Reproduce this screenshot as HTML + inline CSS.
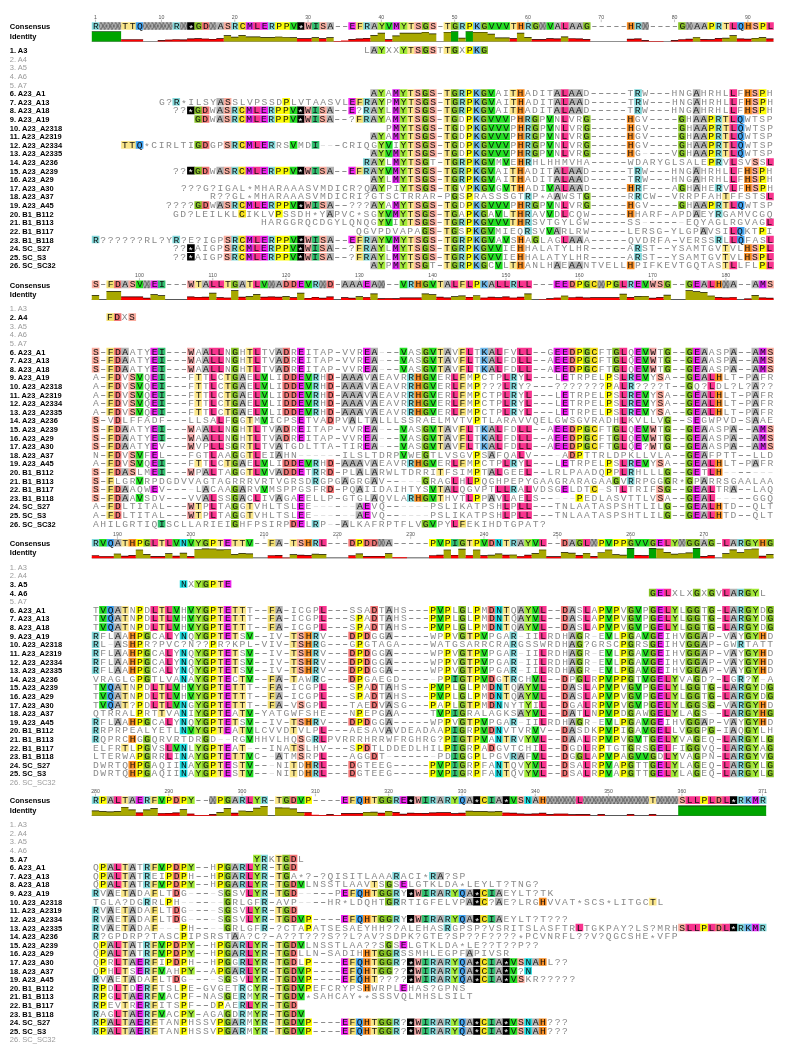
<!DOCTYPE html>
<html><head><meta charset="utf-8"><title>Alignment</title>
<style>
html,body{margin:0;padding:0;background:#fff}
body{width:787px;height:1051px;position:relative;overflow:hidden;font-family:"Liberation Sans",sans-serif}
svg{position:absolute;left:0;top:0}
#t{position:absolute;left:0;top:0;width:787px;height:1051px;will-change:transform}
.l{position:absolute;left:9.8px;height:10px;line-height:10px;margin-top:-4px;font-size:7.5px;font-weight:bold;color:#000;white-space:nowrap}
.l.g{font-weight:normal;color:#9a9a9a}
.n{position:absolute;width:20px;text-align:center;font-size:5.2px;line-height:6px;color:#555}
.q{position:absolute;height:10px;line-height:10px;margin-top:-4px;margin-left:0.76px;font-family:"Liberation Mono",monospace;font-size:8.8px;letter-spacing:1.38px;white-space:pre;color:#8a8a8a;transform-origin:0 50%;transform:scaleX(1.1)}
.q b{font-weight:normal;color:#111}
.q i,.q em{font-style:normal;position:relative;top:2.6px}
.q i{color:#fff}
.q u{text-decoration:none;color:#4a4a4a}
.q a{color:#d4d4d4}
.q s{text-decoration:none;color:#727272}
.c{color:#111}
</style></head><body>
<svg width="787" height="1051" viewBox="0 0 787 1051">
<defs><pattern id="h0" width="3.6650" height="7.65" patternUnits="userSpaceOnUse" x="91.8" y="22.18"><rect width="4" height="8" fill="#666"/><path d="M0 0L3.6650 7.65M3.6650 0L0 7.65" stroke="#b2b2b2" stroke-width="1.15"/></pattern><pattern id="h1" width="3.6650" height="7.65" patternUnits="userSpaceOnUse" x="91.8" y="280.53"><rect width="4" height="8" fill="#666"/><path d="M0 0L3.6650 7.65M3.6650 0L0 7.65" stroke="#b2b2b2" stroke-width="1.15"/></pattern><pattern id="h2" width="3.6650" height="7.65" patternUnits="userSpaceOnUse" x="91.8" y="538.88"><rect width="4" height="8" fill="#666"/><path d="M0 0L3.6650 7.65M3.6650 0L0 7.65" stroke="#b2b2b2" stroke-width="1.15"/></pattern><pattern id="h3" width="3.6650" height="7.65" patternUnits="userSpaceOnUse" x="91.8" y="796.27"><rect width="4" height="8" fill="#666"/><path d="M0 0L3.6650 7.65M3.6650 0L0 7.65" stroke="#b2b2b2" stroke-width="1.15"/></pattern></defs>
<path fill="#82d8da" d="M91.8 22.18h7.63v7.65h-7.63zM172.43 22.18h7.63v7.65h-7.63zM231.07 22.18h7.63v7.65h-7.63zM267.72 22.18h7.63v7.65h-7.63zM363.01 22.18h7.63v7.65h-7.63zM458.3 22.18h7.63v7.65h-7.63zM524.27 22.18h7.63v7.65h-7.63zM634.22 22.18h7.63v7.65h-7.63zM714.85 22.18h7.63v7.65h-7.63zM458.3 89.33h7.63v7.65h-7.63zM634.22 89.33h7.63v7.65h-7.63zM172.43 97.93h7.63v7.65h-7.63zM363.01 97.93h7.63v7.65h-7.63zM458.3 97.93h7.63v7.65h-7.63zM634.22 97.93h7.63v7.65h-7.63zM231.07 106.55h7.63v7.65h-7.63zM267.72 106.55h7.63v7.65h-7.63zM363.01 106.55h7.63v7.65h-7.63zM458.3 106.55h7.63v7.65h-7.63zM634.22 106.55h7.63v7.65h-7.63zM231.07 115.15h7.63v7.65h-7.63zM267.72 115.15h7.63v7.65h-7.63zM363.01 115.15h7.63v7.65h-7.63zM524.27 115.15h7.63v7.65h-7.63zM714.85 115.15h7.63v7.65h-7.63zM524.27 123.77h7.63v7.65h-7.63zM714.85 123.77h7.63v7.65h-7.63zM524.27 132.38h7.63v7.65h-7.63zM714.85 132.38h7.63v7.65h-7.63zM231.07 140.99h7.63v7.65h-7.63zM267.72 140.99h7.63v7.65h-7.63zM524.27 140.99h7.63v7.65h-7.63zM714.85 140.99h7.63v7.65h-7.63zM524.27 149.59h7.63v7.65h-7.63zM714.85 149.59h7.63v7.65h-7.63zM363.01 158.21h7.63v7.65h-7.63zM458.3 158.21h7.63v7.65h-7.63zM524.27 158.21h7.63v7.65h-7.63zM714.85 158.21h7.63v7.65h-7.63zM231.07 166.81h7.63v7.65h-7.63zM267.72 166.81h7.63v7.65h-7.63zM363.01 166.81h7.63v7.65h-7.63zM458.3 166.81h7.63v7.65h-7.63zM634.22 166.81h7.63v7.65h-7.63zM458.3 175.42h7.63v7.65h-7.63zM634.22 175.42h7.63v7.65h-7.63zM634.22 184.03h7.63v7.65h-7.63zM714.85 184.03h7.63v7.65h-7.63zM524.27 192.65h7.63v7.65h-7.63zM634.22 192.65h7.63v7.65h-7.63zM231.07 201.25h7.63v7.65h-7.63zM267.72 201.25h7.63v7.65h-7.63zM524.27 201.25h7.63v7.65h-7.63zM714.85 201.25h7.63v7.65h-7.63zM524.27 209.86h7.63v7.65h-7.63zM714.85 209.86h7.63v7.65h-7.63zM458.3 218.47h7.63v7.65h-7.63zM524.27 218.47h7.63v7.65h-7.63zM524.27 227.09h7.63v7.65h-7.63zM91.8 235.69h7.63v7.65h-7.63zM172.43 235.69h7.63v7.65h-7.63zM231.07 235.69h7.63v7.65h-7.63zM267.72 235.69h7.63v7.65h-7.63zM363.01 235.69h7.63v7.65h-7.63zM458.3 235.69h7.63v7.65h-7.63zM714.85 235.69h7.63v7.65h-7.63zM231.07 244.3h7.63v7.65h-7.63zM267.72 244.3h7.63v7.65h-7.63zM363.01 244.3h7.63v7.65h-7.63zM458.3 244.3h7.63v7.65h-7.63zM634.22 244.3h7.63v7.65h-7.63zM231.07 252.92h7.63v7.65h-7.63zM267.72 252.92h7.63v7.65h-7.63zM363.01 252.92h7.63v7.65h-7.63zM458.3 252.92h7.63v7.65h-7.63zM634.22 252.92h7.63v7.65h-7.63zM458.3 261.53h7.63v7.65h-7.63zM311.7 280.53h7.63v7.65h-7.63zM406.99 280.53h7.63v7.65h-7.63zM509.61 280.53h7.63v7.65h-7.63zM626.89 280.53h7.63v7.65h-7.63zM311.7 373.51h7.63v7.65h-7.63zM406.99 373.51h7.63v7.65h-7.63zM509.61 373.51h7.63v7.65h-7.63zM626.89 373.51h7.63v7.65h-7.63zM311.7 382.12h7.63v7.65h-7.63zM406.99 382.12h7.63v7.65h-7.63zM509.61 382.12h7.63v7.65h-7.63zM626.89 382.12h7.63v7.65h-7.63zM311.7 390.73h7.63v7.65h-7.63zM406.99 390.73h7.63v7.65h-7.63zM509.61 390.73h7.63v7.65h-7.63zM626.89 390.73h7.63v7.65h-7.63zM311.7 399.34h7.63v7.65h-7.63zM406.99 399.34h7.63v7.65h-7.63zM509.61 399.34h7.63v7.65h-7.63zM626.89 399.34h7.63v7.65h-7.63zM311.7 407.95h7.63v7.65h-7.63zM406.99 407.95h7.63v7.65h-7.63zM509.61 407.95h7.63v7.65h-7.63zM626.89 407.95h7.63v7.65h-7.63zM311.7 459.61h7.63v7.65h-7.63zM406.99 459.61h7.63v7.65h-7.63zM509.61 459.61h7.63v7.65h-7.63zM626.89 459.61h7.63v7.65h-7.63zM311.7 468.22h7.63v7.65h-7.63zM626.89 468.22h7.63v7.65h-7.63zM311.7 476.83h7.63v7.65h-7.63zM626.89 476.83h7.63v7.65h-7.63zM509.61 485.44h7.63v7.65h-7.63zM406.99 494.05h7.63v7.65h-7.63zM311.7 519.88h7.63v7.65h-7.63zM91.8 538.88h7.63v7.65h-7.63zM311.7 538.88h7.63v7.65h-7.63zM509.61 538.88h7.63v7.65h-7.63zM736.84 538.88h7.63v7.65h-7.63zM736.84 588.81h7.63v7.65h-7.63zM736.84 606.02h7.63v7.65h-7.63zM736.84 614.63h7.63v7.65h-7.63zM736.84 623.25h7.63v7.65h-7.63zM91.8 631.86h7.63v7.65h-7.63zM311.7 631.86h7.63v7.65h-7.63zM509.61 631.86h7.63v7.65h-7.63zM91.8 640.47h7.63v7.65h-7.63zM311.7 640.47h7.63v7.65h-7.63zM509.61 640.47h7.63v7.65h-7.63zM736.84 640.47h7.63v7.65h-7.63zM91.8 649.08h7.63v7.65h-7.63zM311.7 649.08h7.63v7.65h-7.63zM509.61 649.08h7.63v7.65h-7.63zM91.8 657.69h7.63v7.65h-7.63zM311.7 657.69h7.63v7.65h-7.63zM509.61 657.69h7.63v7.65h-7.63zM91.8 666.3h7.63v7.65h-7.63zM311.7 666.3h7.63v7.65h-7.63zM509.61 666.3h7.63v7.65h-7.63zM311.7 674.9h7.63v7.65h-7.63zM509.61 674.9h7.63v7.65h-7.63zM736.84 674.9h7.63v7.65h-7.63zM736.84 683.51h7.63v7.65h-7.63zM736.84 692.12h7.63v7.65h-7.63zM736.84 700.74h7.63v7.65h-7.63zM736.84 709.35h7.63v7.65h-7.63zM91.8 717.96h7.63v7.65h-7.63zM311.7 717.96h7.63v7.65h-7.63zM509.61 717.96h7.63v7.65h-7.63zM91.8 726.57h7.63v7.65h-7.63zM91.8 735.17h7.63v7.65h-7.63zM311.7 735.17h7.63v7.65h-7.63zM509.61 735.17h7.63v7.65h-7.63zM736.84 735.17h7.63v7.65h-7.63zM736.84 743.79h7.63v7.65h-7.63zM509.61 752.39h7.63v7.65h-7.63zM736.84 752.39h7.63v7.65h-7.63zM311.7 761h7.63v7.65h-7.63zM736.84 761h7.63v7.65h-7.63zM311.7 769.62h7.63v7.65h-7.63zM736.84 769.62h7.63v7.65h-7.63zM91.8 796.27h7.63v7.65h-7.63zM143.11 796.27h7.63v7.65h-7.63zM238.4 796.27h7.63v7.65h-7.63zM260.39 796.27h7.63v7.65h-7.63zM392.33 796.27h7.63v7.65h-7.63zM428.98 796.27h7.63v7.65h-7.63zM443.64 796.27h7.63v7.65h-7.63zM736.84 796.27h7.63v7.65h-7.63zM758.83 796.27h7.63v7.65h-7.63zM260.39 854.82h7.63v7.65h-7.63zM143.11 863.42h7.63v7.65h-7.63zM238.4 863.42h7.63v7.65h-7.63zM260.39 863.42h7.63v7.65h-7.63zM143.11 872.03h7.63v7.65h-7.63zM238.4 872.03h7.63v7.65h-7.63zM260.39 872.03h7.63v7.65h-7.63zM392.33 872.03h7.63v7.65h-7.63zM428.98 872.03h7.63v7.65h-7.63zM143.11 880.64h7.63v7.65h-7.63zM238.4 880.64h7.63v7.65h-7.63zM260.39 880.64h7.63v7.65h-7.63zM91.8 889.25h7.63v7.65h-7.63zM260.39 889.25h7.63v7.65h-7.63zM392.33 889.25h7.63v7.65h-7.63zM428.98 889.25h7.63v7.65h-7.63zM443.64 889.25h7.63v7.65h-7.63zM143.11 897.87h7.63v7.65h-7.63zM260.39 897.87h7.63v7.65h-7.63zM392.33 897.87h7.63v7.65h-7.63zM91.8 906.48h7.63v7.65h-7.63zM260.39 906.48h7.63v7.65h-7.63zM91.8 915.09h7.63v7.65h-7.63zM260.39 915.09h7.63v7.65h-7.63zM392.33 915.09h7.63v7.65h-7.63zM428.98 915.09h7.63v7.65h-7.63zM443.64 915.09h7.63v7.65h-7.63zM91.8 923.69h7.63v7.65h-7.63zM260.39 923.69h7.63v7.65h-7.63zM443.64 923.69h7.63v7.65h-7.63zM736.84 923.69h7.63v7.65h-7.63zM758.83 923.69h7.63v7.65h-7.63zM91.8 932.3h7.63v7.65h-7.63zM143.11 940.91h7.63v7.65h-7.63zM238.4 940.91h7.63v7.65h-7.63zM260.39 940.91h7.63v7.65h-7.63zM143.11 949.52h7.63v7.65h-7.63zM238.4 949.52h7.63v7.65h-7.63zM260.39 949.52h7.63v7.65h-7.63zM392.33 949.52h7.63v7.65h-7.63zM143.11 958.13h7.63v7.65h-7.63zM238.4 958.13h7.63v7.65h-7.63zM260.39 958.13h7.63v7.65h-7.63zM392.33 958.13h7.63v7.65h-7.63zM428.98 958.13h7.63v7.65h-7.63zM443.64 958.13h7.63v7.65h-7.63zM143.11 966.75h7.63v7.65h-7.63zM238.4 966.75h7.63v7.65h-7.63zM260.39 966.75h7.63v7.65h-7.63zM428.98 966.75h7.63v7.65h-7.63zM443.64 966.75h7.63v7.65h-7.63zM91.8 975.36h7.63v7.65h-7.63zM260.39 975.36h7.63v7.65h-7.63zM428.98 975.36h7.63v7.65h-7.63zM443.64 975.36h7.63v7.65h-7.63zM91.8 983.96h7.63v7.65h-7.63zM143.11 983.96h7.63v7.65h-7.63zM238.4 983.96h7.63v7.65h-7.63zM260.39 983.96h7.63v7.65h-7.63zM91.8 992.58h7.63v7.65h-7.63zM143.11 992.58h7.63v7.65h-7.63zM238.4 992.58h7.63v7.65h-7.63zM260.39 992.58h7.63v7.65h-7.63zM91.8 1001.18h7.63v7.65h-7.63zM143.11 1001.18h7.63v7.65h-7.63zM238.4 1001.18h7.63v7.65h-7.63zM260.39 1001.18h7.63v7.65h-7.63zM91.8 1009.79h7.63v7.65h-7.63zM143.11 1009.79h7.63v7.65h-7.63zM238.4 1009.79h7.63v7.65h-7.63zM260.39 1009.79h7.63v7.65h-7.63zM91.8 1018.4h7.63v7.65h-7.63zM143.11 1018.4h7.63v7.65h-7.63zM238.4 1018.4h7.63v7.65h-7.63zM260.39 1018.4h7.63v7.65h-7.63zM392.33 1018.4h7.63v7.65h-7.63zM428.98 1018.4h7.63v7.65h-7.63zM443.64 1018.4h7.63v7.65h-7.63zM91.8 1027.02h7.63v7.65h-7.63zM143.11 1027.02h7.63v7.65h-7.63zM238.4 1027.02h7.63v7.65h-7.63zM260.39 1027.02h7.63v7.65h-7.63zM392.33 1027.02h7.63v7.65h-7.63zM428.98 1027.02h7.63v7.65h-7.63zM443.64 1027.02h7.63v7.65h-7.63z"/>
<path fill="#fae68a" d="M121.12 22.18h14.96v7.65h-14.96zM406.99 22.18h7.63v7.65h-7.63zM443.64 22.18h7.63v7.65h-7.63zM509.61 22.18h7.63v7.65h-7.63zM722.18 22.18h7.63v7.65h-7.63zM406.99 46.27h7.63v7.65h-7.63zM443.64 46.27h7.63v7.65h-7.63zM406.99 89.33h7.63v7.65h-7.63zM443.64 89.33h7.63v7.65h-7.63zM509.61 89.33h7.63v7.65h-7.63zM406.99 97.93h7.63v7.65h-7.63zM443.64 97.93h7.63v7.65h-7.63zM509.61 97.93h7.63v7.65h-7.63zM406.99 106.55h7.63v7.65h-7.63zM443.64 106.55h7.63v7.65h-7.63zM509.61 106.55h7.63v7.65h-7.63zM406.99 115.15h7.63v7.65h-7.63zM443.64 115.15h7.63v7.65h-7.63zM722.18 115.15h7.63v7.65h-7.63zM406.99 123.77h7.63v7.65h-7.63zM443.64 123.77h7.63v7.65h-7.63zM722.18 123.77h7.63v7.65h-7.63zM406.99 132.38h7.63v7.65h-7.63zM443.64 132.38h7.63v7.65h-7.63zM722.18 132.38h7.63v7.65h-7.63zM121.12 140.99h14.96v7.65h-14.96zM406.99 140.99h7.63v7.65h-7.63zM443.64 140.99h7.63v7.65h-7.63zM722.18 140.99h7.63v7.65h-7.63zM406.99 149.59h7.63v7.65h-7.63zM443.64 149.59h7.63v7.65h-7.63zM722.18 149.59h7.63v7.65h-7.63zM406.99 158.21h7.63v7.65h-7.63zM443.64 158.21h7.63v7.65h-7.63zM406.99 166.81h7.63v7.65h-7.63zM443.64 166.81h7.63v7.65h-7.63zM509.61 166.81h7.63v7.65h-7.63zM406.99 175.42h7.63v7.65h-7.63zM443.64 175.42h7.63v7.65h-7.63zM509.61 175.42h7.63v7.65h-7.63zM406.99 184.03h7.63v7.65h-7.63zM443.64 184.03h7.63v7.65h-7.63zM509.61 184.03h7.63v7.65h-7.63zM722.18 192.65h7.63v7.65h-7.63zM406.99 201.25h7.63v7.65h-7.63zM443.64 201.25h7.63v7.65h-7.63zM722.18 201.25h7.63v7.65h-7.63zM406.99 209.86h7.63v7.65h-7.63zM443.64 209.86h7.63v7.65h-7.63zM509.61 209.86h7.63v7.65h-7.63zM406.99 218.47h7.63v7.65h-7.63zM443.64 218.47h7.63v7.65h-7.63zM509.61 218.47h7.63v7.65h-7.63zM443.64 227.09h7.63v7.65h-7.63zM406.99 235.69h7.63v7.65h-7.63zM443.64 235.69h7.63v7.65h-7.63zM406.99 244.3h7.63v7.65h-7.63zM443.64 244.3h7.63v7.65h-7.63zM722.18 244.3h7.63v7.65h-7.63zM406.99 252.92h7.63v7.65h-7.63zM443.64 252.92h7.63v7.65h-7.63zM722.18 252.92h7.63v7.65h-7.63zM406.99 261.53h7.63v7.65h-7.63zM443.64 261.53h7.63v7.65h-7.63zM509.61 261.53h7.63v7.65h-7.63zM722.18 261.53h7.63v7.65h-7.63zM194.42 280.53h7.63v7.65h-7.63zM223.74 280.53h7.63v7.65h-7.63zM245.73 280.53h7.63v7.65h-7.63zM436.31 280.53h7.63v7.65h-7.63zM245.73 347.68h7.63v7.65h-7.63zM436.31 347.68h7.63v7.65h-7.63zM245.73 356.29h7.63v7.65h-7.63zM436.31 356.29h7.63v7.65h-7.63zM245.73 364.9h7.63v7.65h-7.63zM436.31 364.9h7.63v7.65h-7.63zM194.42 373.51h7.63v7.65h-7.63zM223.74 373.51h7.63v7.65h-7.63zM194.42 382.12h7.63v7.65h-7.63zM223.74 382.12h7.63v7.65h-7.63zM194.42 390.73h7.63v7.65h-7.63zM223.74 390.73h7.63v7.65h-7.63zM194.42 399.34h7.63v7.65h-7.63zM223.74 399.34h7.63v7.65h-7.63zM194.42 407.95h7.63v7.65h-7.63zM223.74 407.95h7.63v7.65h-7.63zM245.73 416.56h7.63v7.65h-7.63zM245.73 425.17h7.63v7.65h-7.63zM436.31 425.17h7.63v7.65h-7.63zM245.73 433.78h7.63v7.65h-7.63zM436.31 433.78h7.63v7.65h-7.63zM245.73 442.39h7.63v7.65h-7.63zM436.31 442.39h7.63v7.65h-7.63zM245.73 451h7.63v7.65h-7.63zM194.42 459.61h7.63v7.65h-7.63zM223.74 459.61h7.63v7.65h-7.63zM245.73 468.22h7.63v7.65h-7.63zM436.31 468.22h7.63v7.65h-7.63zM436.31 485.44h7.63v7.65h-7.63zM436.31 494.05h7.63v7.65h-7.63zM194.42 502.66h7.63v7.65h-7.63zM245.73 502.66h7.63v7.65h-7.63zM194.42 511.27h7.63v7.65h-7.63zM245.73 511.27h7.63v7.65h-7.63zM121.12 538.88h7.63v7.65h-7.63zM157.77 538.88h7.63v7.65h-7.63zM216.41 538.88h7.63v7.65h-7.63zM231.07 538.88h14.96v7.65h-14.96zM289.71 538.88h7.63v7.65h-7.63zM465.63 538.88h7.63v7.65h-7.63zM502.28 538.88h7.63v7.65h-7.63zM216.41 580.2h7.63v7.65h-7.63zM121.12 606.02h7.63v7.65h-7.63zM157.77 606.02h7.63v7.65h-7.63zM216.41 606.02h7.63v7.65h-7.63zM231.07 606.02h14.96v7.65h-14.96zM502.28 606.02h7.63v7.65h-7.63zM121.12 614.63h7.63v7.65h-7.63zM157.77 614.63h7.63v7.65h-7.63zM216.41 614.63h7.63v7.65h-7.63zM231.07 614.63h14.96v7.65h-14.96zM502.28 614.63h7.63v7.65h-7.63zM121.12 623.25h7.63v7.65h-7.63zM157.77 623.25h7.63v7.65h-7.63zM216.41 623.25h7.63v7.65h-7.63zM231.07 623.25h14.96v7.65h-14.96zM502.28 623.25h7.63v7.65h-7.63zM216.41 631.86h7.63v7.65h-7.63zM231.07 631.86h7.63v7.65h-7.63zM289.71 631.86h7.63v7.65h-7.63zM465.63 631.86h7.63v7.65h-7.63zM289.71 640.47h7.63v7.65h-7.63zM216.41 649.08h7.63v7.65h-7.63zM231.07 649.08h7.63v7.65h-7.63zM289.71 649.08h7.63v7.65h-7.63zM465.63 649.08h7.63v7.65h-7.63zM216.41 657.69h7.63v7.65h-7.63zM231.07 657.69h7.63v7.65h-7.63zM289.71 657.69h7.63v7.65h-7.63zM465.63 657.69h7.63v7.65h-7.63zM216.41 666.3h7.63v7.65h-7.63zM231.07 666.3h7.63v7.65h-7.63zM289.71 666.3h7.63v7.65h-7.63zM465.63 666.3h7.63v7.65h-7.63zM216.41 674.9h7.63v7.65h-7.63zM238.4 674.9h7.63v7.65h-7.63zM289.71 674.9h7.63v7.65h-7.63zM465.63 674.9h7.63v7.65h-7.63zM502.28 674.9h7.63v7.65h-7.63zM121.12 683.51h7.63v7.65h-7.63zM157.77 683.51h7.63v7.65h-7.63zM216.41 683.51h7.63v7.65h-7.63zM231.07 683.51h14.96v7.65h-14.96zM502.28 683.51h7.63v7.65h-7.63zM121.12 692.12h7.63v7.65h-7.63zM157.77 692.12h7.63v7.65h-7.63zM216.41 692.12h7.63v7.65h-7.63zM231.07 692.12h14.96v7.65h-14.96zM502.28 692.12h7.63v7.65h-7.63zM121.12 700.74h7.63v7.65h-7.63zM157.77 700.74h7.63v7.65h-7.63zM216.41 700.74h7.63v7.65h-7.63zM231.07 700.74h14.96v7.65h-14.96zM465.63 700.74h7.63v7.65h-7.63zM157.77 709.35h7.63v7.65h-7.63zM216.41 709.35h7.63v7.65h-7.63zM238.4 709.35h7.63v7.65h-7.63zM216.41 717.96h7.63v7.65h-7.63zM231.07 717.96h7.63v7.65h-7.63zM289.71 717.96h7.63v7.65h-7.63zM465.63 717.96h7.63v7.65h-7.63zM216.41 726.57h7.63v7.65h-7.63zM238.4 726.57h7.63v7.65h-7.63zM289.71 726.57h7.63v7.65h-7.63zM465.63 735.17h7.63v7.65h-7.63zM502.28 735.17h7.63v7.65h-7.63zM121.12 743.79h7.63v7.65h-7.63zM216.41 743.79h7.63v7.65h-7.63zM238.4 743.79h7.63v7.65h-7.63zM289.71 743.79h7.63v7.65h-7.63zM216.41 752.39h7.63v7.65h-7.63zM231.07 752.39h14.96v7.65h-14.96zM216.41 761h7.63v7.65h-7.63zM238.4 761h7.63v7.65h-7.63zM289.71 761h7.63v7.65h-7.63zM502.28 761h7.63v7.65h-7.63zM216.41 769.62h7.63v7.65h-7.63zM238.4 769.62h7.63v7.65h-7.63zM289.71 769.62h7.63v7.65h-7.63zM502.28 769.62h7.63v7.65h-7.63zM121.12 796.27h7.63v7.65h-7.63zM275.05 796.27h7.63v7.65h-7.63zM370.34 796.27h7.63v7.65h-7.63zM648.88 796.27h7.63v7.65h-7.63zM275.05 854.82h7.63v7.65h-7.63zM121.12 863.42h7.63v7.65h-7.63zM275.05 863.42h7.63v7.65h-7.63zM121.12 872.03h7.63v7.65h-7.63zM275.05 872.03h7.63v7.65h-7.63zM121.12 880.64h7.63v7.65h-7.63zM275.05 880.64h7.63v7.65h-7.63zM370.34 880.64h7.63v7.65h-7.63zM121.12 889.25h7.63v7.65h-7.63zM275.05 889.25h7.63v7.65h-7.63zM370.34 889.25h7.63v7.65h-7.63zM648.88 897.87h7.63v7.65h-7.63zM121.12 906.48h7.63v7.65h-7.63zM275.05 906.48h7.63v7.65h-7.63zM121.12 915.09h7.63v7.65h-7.63zM275.05 915.09h7.63v7.65h-7.63zM370.34 915.09h7.63v7.65h-7.63zM121.12 923.69h7.63v7.65h-7.63zM121.12 940.91h7.63v7.65h-7.63zM275.05 940.91h7.63v7.65h-7.63zM121.12 949.52h7.63v7.65h-7.63zM275.05 949.52h7.63v7.65h-7.63zM370.34 949.52h7.63v7.65h-7.63zM121.12 958.13h7.63v7.65h-7.63zM275.05 958.13h7.63v7.65h-7.63zM370.34 958.13h7.63v7.65h-7.63zM121.12 966.75h7.63v7.65h-7.63zM275.05 966.75h7.63v7.65h-7.63zM370.34 966.75h7.63v7.65h-7.63zM121.12 975.36h7.63v7.65h-7.63zM275.05 975.36h7.63v7.65h-7.63zM370.34 975.36h7.63v7.65h-7.63zM121.12 983.96h7.63v7.65h-7.63zM275.05 983.96h7.63v7.65h-7.63zM121.12 992.58h7.63v7.65h-7.63zM275.05 992.58h7.63v7.65h-7.63zM121.12 1001.18h7.63v7.65h-7.63zM275.05 1001.18h7.63v7.65h-7.63zM121.12 1009.79h7.63v7.65h-7.63zM275.05 1009.79h7.63v7.65h-7.63zM121.12 1018.4h7.63v7.65h-7.63zM275.05 1018.4h7.63v7.65h-7.63zM370.34 1018.4h7.63v7.65h-7.63zM121.12 1027.02h7.63v7.65h-7.63zM275.05 1027.02h7.63v7.65h-7.63zM370.34 1027.02h7.63v7.65h-7.63z"/>
<path fill="#3ea2f2" d="M135.78 22.18h7.63v7.65h-7.63zM736.84 22.18h7.63v7.65h-7.63zM736.84 115.15h7.63v7.65h-7.63zM736.84 123.77h7.63v7.65h-7.63zM736.84 132.38h7.63v7.65h-7.63zM135.78 140.99h7.63v7.65h-7.63zM736.84 140.99h7.63v7.65h-7.63zM736.84 149.59h7.63v7.65h-7.63zM736.84 201.25h7.63v7.65h-7.63zM736.84 227.09h7.63v7.65h-7.63zM736.84 235.69h7.63v7.65h-7.63zM106.46 538.88h7.63v7.65h-7.63zM106.46 606.02h7.63v7.65h-7.63zM106.46 614.63h7.63v7.65h-7.63zM106.46 623.25h7.63v7.65h-7.63zM106.46 683.51h7.63v7.65h-7.63zM106.46 692.12h7.63v7.65h-7.63zM106.46 700.74h7.63v7.65h-7.63zM355.68 796.27h7.63v7.65h-7.63zM458.3 796.27h7.63v7.65h-7.63zM355.68 889.25h7.63v7.65h-7.63zM458.3 889.25h7.63v7.65h-7.63zM355.68 915.09h7.63v7.65h-7.63zM458.3 915.09h7.63v7.65h-7.63zM355.68 958.13h7.63v7.65h-7.63zM458.3 958.13h7.63v7.65h-7.63zM355.68 966.75h7.63v7.65h-7.63zM458.3 966.75h7.63v7.65h-7.63zM355.68 975.36h7.63v7.65h-7.63zM458.3 975.36h7.63v7.65h-7.63zM355.68 1018.4h7.63v7.65h-7.63zM458.3 1018.4h7.63v7.65h-7.63zM355.68 1027.02h7.63v7.65h-7.63zM458.3 1027.02h7.63v7.65h-7.63z"/>
<path fill="#000000" d="M187.09 22.18h7.63v7.65h-7.63zM297.04 22.18h7.63v7.65h-7.63zM187.09 106.55h7.63v7.65h-7.63zM297.04 106.55h7.63v7.65h-7.63zM297.04 115.15h7.63v7.65h-7.63zM187.09 166.81h7.63v7.65h-7.63zM297.04 166.81h7.63v7.65h-7.63zM297.04 201.25h7.63v7.65h-7.63zM297.04 235.69h7.63v7.65h-7.63zM187.09 244.3h7.63v7.65h-7.63zM297.04 244.3h7.63v7.65h-7.63zM187.09 252.92h7.63v7.65h-7.63zM297.04 252.92h7.63v7.65h-7.63zM406.99 796.27h7.63v7.65h-7.63zM472.96 796.27h7.63v7.65h-7.63zM502.28 796.27h7.63v7.65h-7.63zM729.51 796.27h7.63v7.65h-7.63zM406.99 889.25h7.63v7.65h-7.63zM472.96 889.25h7.63v7.65h-7.63zM472.96 897.87h7.63v7.65h-7.63zM406.99 915.09h7.63v7.65h-7.63zM472.96 915.09h7.63v7.65h-7.63zM729.51 923.69h7.63v7.65h-7.63zM406.99 958.13h7.63v7.65h-7.63zM472.96 958.13h7.63v7.65h-7.63zM502.28 958.13h7.63v7.65h-7.63zM406.99 966.75h7.63v7.65h-7.63zM472.96 966.75h7.63v7.65h-7.63zM502.28 966.75h7.63v7.65h-7.63zM406.99 975.36h7.63v7.65h-7.63zM472.96 975.36h7.63v7.65h-7.63zM502.28 975.36h7.63v7.65h-7.63zM406.99 1018.4h7.63v7.65h-7.63zM472.96 1018.4h7.63v7.65h-7.63zM502.28 1018.4h7.63v7.65h-7.63zM406.99 1027.02h7.63v7.65h-7.63zM472.96 1027.02h7.63v7.65h-7.63zM502.28 1027.02h7.63v7.65h-7.63z"/>
<path fill="#86c224" d="M194.42 22.18h7.63v7.65h-7.63zM421.65 22.18h7.63v7.65h-7.63zM450.97 22.18h7.63v7.65h-7.63zM480.29 22.18h7.63v7.65h-7.63zM531.6 22.18h7.63v7.65h-7.63zM582.91 22.18h7.63v7.65h-7.63zM678.2 22.18h7.63v7.65h-7.63zM421.65 46.27h7.63v7.65h-7.63zM450.97 46.27h7.63v7.65h-7.63zM480.29 46.27h7.63v7.65h-7.63zM421.65 89.33h7.63v7.65h-7.63zM450.97 89.33h7.63v7.65h-7.63zM480.29 89.33h7.63v7.65h-7.63zM421.65 97.93h7.63v7.65h-7.63zM450.97 97.93h7.63v7.65h-7.63zM480.29 97.93h7.63v7.65h-7.63zM194.42 106.55h7.63v7.65h-7.63zM421.65 106.55h7.63v7.65h-7.63zM450.97 106.55h7.63v7.65h-7.63zM480.29 106.55h7.63v7.65h-7.63zM194.42 115.15h7.63v7.65h-7.63zM421.65 115.15h7.63v7.65h-7.63zM450.97 115.15h7.63v7.65h-7.63zM480.29 115.15h7.63v7.65h-7.63zM531.6 115.15h7.63v7.65h-7.63zM582.91 115.15h7.63v7.65h-7.63zM678.2 115.15h7.63v7.65h-7.63zM421.65 123.77h7.63v7.65h-7.63zM450.97 123.77h7.63v7.65h-7.63zM480.29 123.77h7.63v7.65h-7.63zM531.6 123.77h7.63v7.65h-7.63zM582.91 123.77h7.63v7.65h-7.63zM678.2 123.77h7.63v7.65h-7.63zM421.65 132.38h7.63v7.65h-7.63zM450.97 132.38h7.63v7.65h-7.63zM480.29 132.38h7.63v7.65h-7.63zM531.6 132.38h7.63v7.65h-7.63zM582.91 132.38h7.63v7.65h-7.63zM678.2 132.38h7.63v7.65h-7.63zM194.42 140.99h7.63v7.65h-7.63zM421.65 140.99h7.63v7.65h-7.63zM450.97 140.99h7.63v7.65h-7.63zM480.29 140.99h7.63v7.65h-7.63zM531.6 140.99h7.63v7.65h-7.63zM582.91 140.99h7.63v7.65h-7.63zM678.2 140.99h7.63v7.65h-7.63zM421.65 149.59h7.63v7.65h-7.63zM450.97 149.59h7.63v7.65h-7.63zM480.29 149.59h7.63v7.65h-7.63zM531.6 149.59h7.63v7.65h-7.63zM582.91 149.59h7.63v7.65h-7.63zM678.2 149.59h7.63v7.65h-7.63zM421.65 158.21h7.63v7.65h-7.63zM450.97 158.21h7.63v7.65h-7.63zM480.29 158.21h7.63v7.65h-7.63zM194.42 166.81h7.63v7.65h-7.63zM421.65 166.81h7.63v7.65h-7.63zM450.97 166.81h7.63v7.65h-7.63zM480.29 166.81h7.63v7.65h-7.63zM421.65 175.42h7.63v7.65h-7.63zM450.97 175.42h7.63v7.65h-7.63zM480.29 175.42h7.63v7.65h-7.63zM421.65 184.03h7.63v7.65h-7.63zM450.97 184.03h7.63v7.65h-7.63zM480.29 184.03h7.63v7.65h-7.63zM678.2 184.03h7.63v7.65h-7.63zM450.97 192.65h7.63v7.65h-7.63zM582.91 192.65h7.63v7.65h-7.63zM194.42 201.25h7.63v7.65h-7.63zM421.65 201.25h7.63v7.65h-7.63zM450.97 201.25h7.63v7.65h-7.63zM480.29 201.25h7.63v7.65h-7.63zM531.6 201.25h7.63v7.65h-7.63zM582.91 201.25h7.63v7.65h-7.63zM678.2 201.25h7.63v7.65h-7.63zM421.65 209.86h7.63v7.65h-7.63zM450.97 209.86h7.63v7.65h-7.63zM480.29 209.86h7.63v7.65h-7.63zM421.65 218.47h7.63v7.65h-7.63zM450.97 218.47h7.63v7.65h-7.63zM480.29 218.47h7.63v7.65h-7.63zM421.65 227.09h7.63v7.65h-7.63zM450.97 227.09h7.63v7.65h-7.63zM480.29 227.09h7.63v7.65h-7.63zM421.65 235.69h7.63v7.65h-7.63zM450.97 235.69h7.63v7.65h-7.63zM480.29 235.69h7.63v7.65h-7.63zM531.6 235.69h7.63v7.65h-7.63zM421.65 244.3h7.63v7.65h-7.63zM450.97 244.3h7.63v7.65h-7.63zM480.29 244.3h7.63v7.65h-7.63zM421.65 252.92h7.63v7.65h-7.63zM450.97 252.92h7.63v7.65h-7.63zM480.29 252.92h7.63v7.65h-7.63zM421.65 261.53h7.63v7.65h-7.63zM450.97 261.53h7.63v7.65h-7.63zM480.29 261.53h7.63v7.65h-7.63zM231.07 280.53h7.63v7.65h-7.63zM421.65 280.53h7.63v7.65h-7.63zM582.91 280.53h7.63v7.65h-7.63zM612.23 280.53h7.63v7.65h-7.63zM663.54 280.53h7.63v7.65h-7.63zM685.53 280.53h7.63v7.65h-7.63zM231.07 347.68h7.63v7.65h-7.63zM421.65 347.68h7.63v7.65h-7.63zM582.91 347.68h7.63v7.65h-7.63zM612.23 347.68h7.63v7.65h-7.63zM663.54 347.68h7.63v7.65h-7.63zM685.53 347.68h7.63v7.65h-7.63zM231.07 356.29h7.63v7.65h-7.63zM421.65 356.29h7.63v7.65h-7.63zM582.91 356.29h7.63v7.65h-7.63zM612.23 356.29h7.63v7.65h-7.63zM663.54 356.29h7.63v7.65h-7.63zM685.53 356.29h7.63v7.65h-7.63zM231.07 364.9h7.63v7.65h-7.63zM421.65 364.9h7.63v7.65h-7.63zM582.91 364.9h7.63v7.65h-7.63zM612.23 364.9h7.63v7.65h-7.63zM663.54 364.9h7.63v7.65h-7.63zM685.53 364.9h7.63v7.65h-7.63zM231.07 373.51h7.63v7.65h-7.63zM421.65 373.51h7.63v7.65h-7.63zM685.53 373.51h7.63v7.65h-7.63zM231.07 382.12h7.63v7.65h-7.63zM421.65 382.12h7.63v7.65h-7.63zM685.53 382.12h7.63v7.65h-7.63zM231.07 390.73h7.63v7.65h-7.63zM421.65 390.73h7.63v7.65h-7.63zM685.53 390.73h7.63v7.65h-7.63zM231.07 399.34h7.63v7.65h-7.63zM421.65 399.34h7.63v7.65h-7.63zM685.53 399.34h7.63v7.65h-7.63zM231.07 407.95h7.63v7.65h-7.63zM421.65 407.95h7.63v7.65h-7.63zM685.53 407.95h7.63v7.65h-7.63zM231.07 416.56h7.63v7.65h-7.63zM663.54 416.56h7.63v7.65h-7.63zM231.07 425.17h7.63v7.65h-7.63zM421.65 425.17h7.63v7.65h-7.63zM582.91 425.17h7.63v7.65h-7.63zM612.23 425.17h7.63v7.65h-7.63zM663.54 425.17h7.63v7.65h-7.63zM685.53 425.17h7.63v7.65h-7.63zM231.07 433.78h7.63v7.65h-7.63zM421.65 433.78h7.63v7.65h-7.63zM582.91 433.78h7.63v7.65h-7.63zM612.23 433.78h7.63v7.65h-7.63zM663.54 433.78h7.63v7.65h-7.63zM685.53 433.78h7.63v7.65h-7.63zM231.07 442.39h7.63v7.65h-7.63zM421.65 442.39h7.63v7.65h-7.63zM582.91 442.39h7.63v7.65h-7.63zM612.23 442.39h7.63v7.65h-7.63zM663.54 442.39h7.63v7.65h-7.63zM685.53 442.39h7.63v7.65h-7.63zM231.07 451h7.63v7.65h-7.63zM421.65 451h7.63v7.65h-7.63zM685.53 451h7.63v7.65h-7.63zM231.07 459.61h7.63v7.65h-7.63zM421.65 459.61h7.63v7.65h-7.63zM685.53 459.61h7.63v7.65h-7.63zM231.07 468.22h7.63v7.65h-7.63zM663.54 468.22h7.63v7.65h-7.63zM685.53 468.22h7.63v7.65h-7.63zM421.65 476.83h7.63v7.65h-7.63zM612.23 476.83h7.63v7.65h-7.63zM663.54 476.83h7.63v7.65h-7.63zM685.53 476.83h7.63v7.65h-7.63zM231.07 485.44h7.63v7.65h-7.63zM663.54 485.44h7.63v7.65h-7.63zM685.53 485.44h7.63v7.65h-7.63zM231.07 494.05h7.63v7.65h-7.63zM421.65 494.05h7.63v7.65h-7.63zM685.53 494.05h7.63v7.65h-7.63zM231.07 502.66h7.63v7.65h-7.63zM663.54 502.66h7.63v7.65h-7.63zM685.53 502.66h7.63v7.65h-7.63zM231.07 511.27h7.63v7.65h-7.63zM663.54 511.27h7.63v7.65h-7.63zM685.53 511.27h7.63v7.65h-7.63zM231.07 519.88h7.63v7.65h-7.63zM421.65 519.88h7.63v7.65h-7.63zM143.11 538.88h7.63v7.65h-7.63zM201.75 538.88h7.63v7.65h-7.63zM458.3 538.88h7.63v7.65h-7.63zM575.58 538.88h7.63v7.65h-7.63zM626.89 538.88h7.63v7.65h-7.63zM648.88 538.88h7.63v7.65h-7.63zM685.53 538.88h14.96v7.65h-14.96zM707.52 538.88h7.63v7.65h-7.63zM744.17 538.88h7.63v7.65h-7.63zM766.16 538.88h7.63v7.65h-7.63zM201.75 580.2h7.63v7.65h-7.63zM648.88 588.81h7.63v7.65h-7.63zM692.86 588.81h7.63v7.65h-7.63zM707.52 588.81h7.63v7.65h-7.63zM744.17 588.81h7.63v7.65h-7.63zM201.75 606.02h7.63v7.65h-7.63zM458.3 606.02h7.63v7.65h-7.63zM626.89 606.02h7.63v7.65h-7.63zM648.88 606.02h7.63v7.65h-7.63zM685.53 606.02h14.96v7.65h-14.96zM707.52 606.02h7.63v7.65h-7.63zM744.17 606.02h7.63v7.65h-7.63zM766.16 606.02h7.63v7.65h-7.63zM201.75 614.63h7.63v7.65h-7.63zM458.3 614.63h7.63v7.65h-7.63zM626.89 614.63h7.63v7.65h-7.63zM648.88 614.63h7.63v7.65h-7.63zM685.53 614.63h14.96v7.65h-14.96zM707.52 614.63h7.63v7.65h-7.63zM744.17 614.63h7.63v7.65h-7.63zM766.16 614.63h7.63v7.65h-7.63zM201.75 623.25h7.63v7.65h-7.63zM458.3 623.25h7.63v7.65h-7.63zM626.89 623.25h7.63v7.65h-7.63zM648.88 623.25h7.63v7.65h-7.63zM685.53 623.25h14.96v7.65h-14.96zM707.52 623.25h7.63v7.65h-7.63zM744.17 623.25h7.63v7.65h-7.63zM766.16 623.25h7.63v7.65h-7.63zM143.11 631.86h7.63v7.65h-7.63zM201.75 631.86h7.63v7.65h-7.63zM458.3 631.86h7.63v7.65h-7.63zM575.58 631.86h7.63v7.65h-7.63zM626.89 631.86h7.63v7.65h-7.63zM648.88 631.86h7.63v7.65h-7.63zM685.53 631.86h14.96v7.65h-14.96zM744.17 631.86h7.63v7.65h-7.63zM575.58 640.47h7.63v7.65h-7.63zM626.89 640.47h7.63v7.65h-7.63zM648.88 640.47h7.63v7.65h-7.63zM685.53 640.47h14.96v7.65h-14.96zM143.11 649.08h7.63v7.65h-7.63zM201.75 649.08h7.63v7.65h-7.63zM458.3 649.08h7.63v7.65h-7.63zM575.58 649.08h7.63v7.65h-7.63zM626.89 649.08h7.63v7.65h-7.63zM648.88 649.08h7.63v7.65h-7.63zM685.53 649.08h14.96v7.65h-14.96zM744.17 649.08h7.63v7.65h-7.63zM143.11 657.69h7.63v7.65h-7.63zM201.75 657.69h7.63v7.65h-7.63zM458.3 657.69h7.63v7.65h-7.63zM575.58 657.69h7.63v7.65h-7.63zM626.89 657.69h7.63v7.65h-7.63zM648.88 657.69h7.63v7.65h-7.63zM685.53 657.69h14.96v7.65h-14.96zM744.17 657.69h7.63v7.65h-7.63zM143.11 666.3h7.63v7.65h-7.63zM201.75 666.3h7.63v7.65h-7.63zM458.3 666.3h7.63v7.65h-7.63zM575.58 666.3h7.63v7.65h-7.63zM626.89 666.3h7.63v7.65h-7.63zM648.88 666.3h7.63v7.65h-7.63zM685.53 666.3h14.96v7.65h-14.96zM744.17 666.3h7.63v7.65h-7.63zM143.11 674.9h7.63v7.65h-7.63zM201.75 674.9h7.63v7.65h-7.63zM458.3 674.9h7.63v7.65h-7.63zM575.58 674.9h7.63v7.65h-7.63zM626.89 674.9h7.63v7.65h-7.63zM648.88 674.9h7.63v7.65h-7.63zM692.86 674.9h7.63v7.65h-7.63zM201.75 683.51h7.63v7.65h-7.63zM458.3 683.51h7.63v7.65h-7.63zM626.89 683.51h7.63v7.65h-7.63zM648.88 683.51h7.63v7.65h-7.63zM685.53 683.51h14.96v7.65h-14.96zM707.52 683.51h7.63v7.65h-7.63zM744.17 683.51h7.63v7.65h-7.63zM766.16 683.51h7.63v7.65h-7.63zM201.75 692.12h7.63v7.65h-7.63zM458.3 692.12h7.63v7.65h-7.63zM626.89 692.12h7.63v7.65h-7.63zM648.88 692.12h7.63v7.65h-7.63zM685.53 692.12h14.96v7.65h-14.96zM707.52 692.12h7.63v7.65h-7.63zM744.17 692.12h7.63v7.65h-7.63zM766.16 692.12h7.63v7.65h-7.63zM201.75 700.74h7.63v7.65h-7.63zM458.3 700.74h7.63v7.65h-7.63zM626.89 700.74h7.63v7.65h-7.63zM648.88 700.74h7.63v7.65h-7.63zM685.53 700.74h14.96v7.65h-14.96zM707.52 700.74h7.63v7.65h-7.63zM744.17 700.74h7.63v7.65h-7.63zM201.75 709.35h7.63v7.65h-7.63zM458.3 709.35h7.63v7.65h-7.63zM626.89 709.35h7.63v7.65h-7.63zM648.88 709.35h7.63v7.65h-7.63zM692.86 709.35h7.63v7.65h-7.63zM744.17 709.35h7.63v7.65h-7.63zM766.16 709.35h7.63v7.65h-7.63zM143.11 717.96h7.63v7.65h-7.63zM201.75 717.96h7.63v7.65h-7.63zM458.3 717.96h7.63v7.65h-7.63zM575.58 717.96h7.63v7.65h-7.63zM626.89 717.96h7.63v7.65h-7.63zM648.88 717.96h7.63v7.65h-7.63zM685.53 717.96h14.96v7.65h-14.96zM744.17 717.96h7.63v7.65h-7.63zM201.75 726.57h7.63v7.65h-7.63zM458.3 726.57h7.63v7.65h-7.63zM626.89 726.57h7.63v7.65h-7.63zM648.88 726.57h7.63v7.65h-7.63zM685.53 726.57h14.96v7.65h-14.96zM707.52 726.57h7.63v7.65h-7.63zM744.17 726.57h7.63v7.65h-7.63zM143.11 735.17h7.63v7.65h-7.63zM201.75 735.17h7.63v7.65h-7.63zM458.3 735.17h7.63v7.65h-7.63zM626.89 735.17h7.63v7.65h-7.63zM648.88 735.17h7.63v7.65h-7.63zM692.86 735.17h7.63v7.65h-7.63zM744.17 735.17h7.63v7.65h-7.63zM766.16 735.17h7.63v7.65h-7.63zM143.11 743.79h7.63v7.65h-7.63zM201.75 743.79h7.63v7.65h-7.63zM458.3 743.79h7.63v7.65h-7.63zM626.89 743.79h7.63v7.65h-7.63zM648.88 743.79h7.63v7.65h-7.63zM685.53 743.79h14.96v7.65h-14.96zM744.17 743.79h7.63v7.65h-7.63zM766.16 743.79h7.63v7.65h-7.63zM143.11 752.39h7.63v7.65h-7.63zM201.75 752.39h7.63v7.65h-7.63zM458.3 752.39h7.63v7.65h-7.63zM575.58 752.39h7.63v7.65h-7.63zM626.89 752.39h7.63v7.65h-7.63zM648.88 752.39h7.63v7.65h-7.63zM692.86 752.39h7.63v7.65h-7.63zM744.17 752.39h7.63v7.65h-7.63zM766.16 752.39h7.63v7.65h-7.63zM143.11 761h7.63v7.65h-7.63zM201.75 761h7.63v7.65h-7.63zM458.3 761h7.63v7.65h-7.63zM626.89 761h7.63v7.65h-7.63zM648.88 761h7.63v7.65h-7.63zM692.86 761h7.63v7.65h-7.63zM744.17 761h7.63v7.65h-7.63zM766.16 761h7.63v7.65h-7.63zM143.11 769.62h7.63v7.65h-7.63zM201.75 769.62h7.63v7.65h-7.63zM458.3 769.62h7.63v7.65h-7.63zM626.89 769.62h7.63v7.65h-7.63zM648.88 769.62h7.63v7.65h-7.63zM692.86 769.62h7.63v7.65h-7.63zM744.17 769.62h7.63v7.65h-7.63zM766.16 769.62h7.63v7.65h-7.63zM223.74 796.27h7.63v7.65h-7.63zM282.38 796.27h7.63v7.65h-7.63zM377.67 796.27h14.96v7.65h-14.96zM282.38 854.82h7.63v7.65h-7.63zM223.74 863.42h7.63v7.65h-7.63zM282.38 863.42h7.63v7.65h-7.63zM223.74 872.03h7.63v7.65h-7.63zM282.38 872.03h7.63v7.65h-7.63zM223.74 880.64h7.63v7.65h-7.63zM282.38 880.64h7.63v7.65h-7.63zM385 880.64h7.63v7.65h-7.63zM223.74 889.25h7.63v7.65h-7.63zM282.38 889.25h7.63v7.65h-7.63zM377.67 889.25h14.96v7.65h-14.96zM223.74 897.87h7.63v7.65h-7.63zM385 897.87h7.63v7.65h-7.63zM223.74 906.48h7.63v7.65h-7.63zM282.38 906.48h7.63v7.65h-7.63zM223.74 915.09h7.63v7.65h-7.63zM282.38 915.09h7.63v7.65h-7.63zM377.67 915.09h14.96v7.65h-14.96zM223.74 923.69h7.63v7.65h-7.63zM223.74 940.91h7.63v7.65h-7.63zM282.38 940.91h7.63v7.65h-7.63zM385 940.91h7.63v7.65h-7.63zM223.74 949.52h7.63v7.65h-7.63zM282.38 949.52h7.63v7.65h-7.63zM377.67 949.52h14.96v7.65h-14.96zM223.74 958.13h7.63v7.65h-7.63zM282.38 958.13h7.63v7.65h-7.63zM377.67 958.13h14.96v7.65h-14.96zM223.74 966.75h7.63v7.65h-7.63zM282.38 966.75h7.63v7.65h-7.63zM377.67 966.75h14.96v7.65h-14.96zM223.74 975.36h7.63v7.65h-7.63zM282.38 975.36h7.63v7.65h-7.63zM282.38 983.96h7.63v7.65h-7.63zM223.74 992.58h7.63v7.65h-7.63zM282.38 992.58h7.63v7.65h-7.63zM282.38 1001.18h7.63v7.65h-7.63zM223.74 1009.79h7.63v7.65h-7.63zM282.38 1009.79h7.63v7.65h-7.63zM223.74 1018.4h7.63v7.65h-7.63zM282.38 1018.4h7.63v7.65h-7.63zM377.67 1018.4h14.96v7.65h-14.96zM223.74 1027.02h7.63v7.65h-7.63zM282.38 1027.02h7.63v7.65h-7.63zM377.67 1027.02h14.96v7.65h-14.96z"/>
<path fill="#f07474" d="M201.75 22.18h7.63v7.65h-7.63zM201.75 106.55h7.63v7.65h-7.63zM201.75 115.15h7.63v7.65h-7.63zM201.75 140.99h7.63v7.65h-7.63zM201.75 166.81h7.63v7.65h-7.63zM201.75 201.25h7.63v7.65h-7.63zM113.79 280.53h7.63v7.65h-7.63zM282.38 280.53h14.96v7.65h-14.96zM326.36 280.53h7.63v7.65h-7.63zM568.25 280.53h7.63v7.65h-7.63zM113.79 313.24h7.63v7.65h-7.63zM113.79 347.68h7.63v7.65h-7.63zM282.38 347.68h7.63v7.65h-7.63zM568.25 347.68h7.63v7.65h-7.63zM113.79 356.29h7.63v7.65h-7.63zM282.38 356.29h7.63v7.65h-7.63zM568.25 356.29h7.63v7.65h-7.63zM113.79 364.9h7.63v7.65h-7.63zM282.38 364.9h7.63v7.65h-7.63zM568.25 364.9h7.63v7.65h-7.63zM113.79 373.51h7.63v7.65h-7.63zM282.38 373.51h14.96v7.65h-14.96zM326.36 373.51h7.63v7.65h-7.63zM113.79 382.12h7.63v7.65h-7.63zM282.38 382.12h14.96v7.65h-14.96zM326.36 382.12h7.63v7.65h-7.63zM113.79 390.73h7.63v7.65h-7.63zM282.38 390.73h14.96v7.65h-14.96zM326.36 390.73h7.63v7.65h-7.63zM113.79 399.34h7.63v7.65h-7.63zM282.38 399.34h14.96v7.65h-14.96zM326.36 399.34h7.63v7.65h-7.63zM113.79 407.95h7.63v7.65h-7.63zM282.38 407.95h14.96v7.65h-14.96zM326.36 407.95h7.63v7.65h-7.63zM113.79 416.56h7.63v7.65h-7.63zM326.36 416.56h7.63v7.65h-7.63zM113.79 425.17h7.63v7.65h-7.63zM282.38 425.17h7.63v7.65h-7.63zM568.25 425.17h7.63v7.65h-7.63zM113.79 433.78h7.63v7.65h-7.63zM282.38 433.78h7.63v7.65h-7.63zM568.25 433.78h7.63v7.65h-7.63zM113.79 442.39h7.63v7.65h-7.63zM568.25 442.39h7.63v7.65h-7.63zM113.79 451h7.63v7.65h-7.63zM568.25 451h7.63v7.65h-7.63zM113.79 459.61h7.63v7.65h-7.63zM282.38 459.61h14.96v7.65h-14.96zM326.36 459.61h7.63v7.65h-7.63zM113.79 468.22h7.63v7.65h-7.63zM282.38 468.22h14.96v7.65h-14.96zM326.36 468.22h7.63v7.65h-7.63zM113.79 485.44h7.63v7.65h-7.63zM326.36 485.44h7.63v7.65h-7.63zM113.79 494.05h7.63v7.65h-7.63zM113.79 502.66h7.63v7.65h-7.63zM113.79 511.27h7.63v7.65h-7.63zM289.71 519.88h7.63v7.65h-7.63zM348.35 538.88h7.63v7.65h-7.63zM363.01 538.88h14.96v7.65h-14.96zM487.62 538.88h7.63v7.65h-7.63zM560.92 538.88h7.63v7.65h-7.63zM370.34 606.02h7.63v7.65h-7.63zM487.62 606.02h7.63v7.65h-7.63zM560.92 606.02h7.63v7.65h-7.63zM370.34 614.63h7.63v7.65h-7.63zM487.62 614.63h7.63v7.65h-7.63zM560.92 614.63h7.63v7.65h-7.63zM370.34 623.25h7.63v7.65h-7.63zM487.62 623.25h7.63v7.65h-7.63zM560.92 623.25h7.63v7.65h-7.63zM348.35 631.86h7.63v7.65h-7.63zM363.01 631.86h7.63v7.65h-7.63zM348.35 649.08h7.63v7.65h-7.63zM363.01 649.08h7.63v7.65h-7.63zM348.35 657.69h7.63v7.65h-7.63zM363.01 657.69h7.63v7.65h-7.63zM348.35 666.3h7.63v7.65h-7.63zM363.01 666.3h7.63v7.65h-7.63zM348.35 674.9h7.63v7.65h-7.63zM487.62 674.9h7.63v7.65h-7.63zM560.92 674.9h7.63v7.65h-7.63zM370.34 683.51h7.63v7.65h-7.63zM487.62 683.51h7.63v7.65h-7.63zM560.92 683.51h7.63v7.65h-7.63zM370.34 692.12h7.63v7.65h-7.63zM487.62 692.12h7.63v7.65h-7.63zM560.92 692.12h7.63v7.65h-7.63zM370.34 700.74h7.63v7.65h-7.63zM487.62 700.74h7.63v7.65h-7.63zM560.92 700.74h7.63v7.65h-7.63zM560.92 709.35h7.63v7.65h-7.63zM348.35 717.96h7.63v7.65h-7.63zM363.01 717.96h7.63v7.65h-7.63zM487.62 726.57h7.63v7.65h-7.63zM560.92 726.57h7.63v7.65h-7.63zM560.92 735.17h7.63v7.65h-7.63zM363.01 743.79h7.63v7.65h-7.63zM487.62 743.79h7.63v7.65h-7.63zM560.92 743.79h7.63v7.65h-7.63zM370.34 752.39h7.63v7.65h-7.63zM560.92 752.39h7.63v7.65h-7.63zM348.35 761h7.63v7.65h-7.63zM560.92 761h7.63v7.65h-7.63zM348.35 769.62h7.63v7.65h-7.63zM560.92 769.62h7.63v7.65h-7.63zM172.43 796.27h7.63v7.65h-7.63zM289.71 796.27h7.63v7.65h-7.63zM714.85 796.27h7.63v7.65h-7.63zM289.71 854.82h7.63v7.65h-7.63zM172.43 863.42h7.63v7.65h-7.63zM289.71 863.42h7.63v7.65h-7.63zM172.43 872.03h7.63v7.65h-7.63zM172.43 880.64h7.63v7.65h-7.63zM289.71 880.64h7.63v7.65h-7.63zM172.43 889.25h7.63v7.65h-7.63zM289.71 889.25h7.63v7.65h-7.63zM172.43 906.48h7.63v7.65h-7.63zM289.71 906.48h7.63v7.65h-7.63zM172.43 915.09h7.63v7.65h-7.63zM289.71 915.09h7.63v7.65h-7.63zM714.85 923.69h7.63v7.65h-7.63zM172.43 940.91h7.63v7.65h-7.63zM289.71 940.91h7.63v7.65h-7.63zM172.43 949.52h7.63v7.65h-7.63zM289.71 949.52h7.63v7.65h-7.63zM172.43 958.13h7.63v7.65h-7.63zM289.71 958.13h7.63v7.65h-7.63zM289.71 966.75h7.63v7.65h-7.63zM172.43 975.36h7.63v7.65h-7.63zM289.71 975.36h7.63v7.65h-7.63zM289.71 983.96h7.63v7.65h-7.63zM289.71 992.58h7.63v7.65h-7.63zM289.71 1001.18h7.63v7.65h-7.63zM289.71 1009.79h7.63v7.65h-7.63zM289.71 1018.4h7.63v7.65h-7.63zM289.71 1027.02h7.63v7.65h-7.63z"/>
<path fill="#b4b4b4" d="M216.41 22.18h7.63v7.65h-7.63zM326.36 22.18h7.63v7.65h-7.63zM370.34 22.18h7.63v7.65h-7.63zM553.59 22.18h7.63v7.65h-7.63zM568.25 22.18h14.96v7.65h-14.96zM692.86 22.18h14.96v7.65h-14.96zM370.34 46.27h7.63v7.65h-7.63zM370.34 89.33h7.63v7.65h-7.63zM553.59 89.33h7.63v7.65h-7.63zM568.25 89.33h14.96v7.65h-14.96zM692.86 89.33h7.63v7.65h-7.63zM216.41 97.93h7.63v7.65h-7.63zM370.34 97.93h7.63v7.65h-7.63zM553.59 97.93h7.63v7.65h-7.63zM568.25 97.93h14.96v7.65h-14.96zM692.86 97.93h7.63v7.65h-7.63zM216.41 106.55h7.63v7.65h-7.63zM326.36 106.55h7.63v7.65h-7.63zM370.34 106.55h7.63v7.65h-7.63zM553.59 106.55h7.63v7.65h-7.63zM568.25 106.55h14.96v7.65h-14.96zM692.86 106.55h7.63v7.65h-7.63zM216.41 115.15h7.63v7.65h-7.63zM326.36 115.15h7.63v7.65h-7.63zM370.34 115.15h7.63v7.65h-7.63zM692.86 115.15h14.96v7.65h-14.96zM692.86 123.77h14.96v7.65h-14.96zM370.34 132.38h7.63v7.65h-7.63zM692.86 132.38h14.96v7.65h-14.96zM692.86 140.99h14.96v7.65h-14.96zM370.34 149.59h7.63v7.65h-7.63zM692.86 149.59h14.96v7.65h-14.96zM370.34 158.21h7.63v7.65h-7.63zM216.41 166.81h7.63v7.65h-7.63zM326.36 166.81h7.63v7.65h-7.63zM370.34 166.81h7.63v7.65h-7.63zM553.59 166.81h7.63v7.65h-7.63zM568.25 166.81h14.96v7.65h-14.96zM692.86 166.81h7.63v7.65h-7.63zM370.34 175.42h7.63v7.65h-7.63zM553.59 175.42h7.63v7.65h-7.63zM568.25 175.42h14.96v7.65h-14.96zM692.86 175.42h7.63v7.65h-7.63zM370.34 184.03h7.63v7.65h-7.63zM553.59 184.03h7.63v7.65h-7.63zM568.25 184.03h14.96v7.65h-14.96zM692.86 184.03h7.63v7.65h-7.63zM553.59 192.65h7.63v7.65h-7.63zM216.41 201.25h7.63v7.65h-7.63zM326.36 201.25h7.63v7.65h-7.63zM370.34 201.25h7.63v7.65h-7.63zM692.86 201.25h14.96v7.65h-14.96zM326.36 209.86h7.63v7.65h-7.63zM692.86 209.86h7.63v7.65h-7.63zM553.59 227.09h7.63v7.65h-7.63zM700.19 227.09h7.63v7.65h-7.63zM326.36 235.69h7.63v7.65h-7.63zM370.34 235.69h7.63v7.65h-7.63zM568.25 235.69h14.96v7.65h-14.96zM326.36 244.3h7.63v7.65h-7.63zM370.34 244.3h7.63v7.65h-7.63zM326.36 252.92h7.63v7.65h-7.63zM370.34 252.92h7.63v7.65h-7.63zM370.34 261.53h7.63v7.65h-7.63zM553.59 261.53h7.63v7.65h-7.63zM568.25 261.53h14.96v7.65h-14.96zM121.12 280.53h7.63v7.65h-7.63zM201.75 280.53h7.63v7.65h-7.63zM238.4 280.53h7.63v7.65h-7.63zM275.05 280.53h7.63v7.65h-7.63zM341.02 280.53h22.29v7.65h-22.29zM370.34 280.53h7.63v7.65h-7.63zM443.64 280.53h7.63v7.65h-7.63zM487.62 280.53h7.63v7.65h-7.63zM700.19 280.53h7.63v7.65h-7.63zM729.51 280.53h7.63v7.65h-7.63zM751.5 280.53h7.63v7.65h-7.63zM121.12 347.68h7.63v7.65h-7.63zM201.75 347.68h7.63v7.65h-7.63zM275.05 347.68h7.63v7.65h-7.63zM370.34 347.68h7.63v7.65h-7.63zM443.64 347.68h7.63v7.65h-7.63zM487.62 347.68h7.63v7.65h-7.63zM700.19 347.68h7.63v7.65h-7.63zM729.51 347.68h7.63v7.65h-7.63zM751.5 347.68h7.63v7.65h-7.63zM121.12 356.29h7.63v7.65h-7.63zM201.75 356.29h7.63v7.65h-7.63zM275.05 356.29h7.63v7.65h-7.63zM370.34 356.29h7.63v7.65h-7.63zM443.64 356.29h7.63v7.65h-7.63zM487.62 356.29h7.63v7.65h-7.63zM700.19 356.29h7.63v7.65h-7.63zM729.51 356.29h7.63v7.65h-7.63zM751.5 356.29h7.63v7.65h-7.63zM121.12 364.9h7.63v7.65h-7.63zM201.75 364.9h7.63v7.65h-7.63zM275.05 364.9h7.63v7.65h-7.63zM370.34 364.9h7.63v7.65h-7.63zM443.64 364.9h7.63v7.65h-7.63zM487.62 364.9h7.63v7.65h-7.63zM700.19 364.9h7.63v7.65h-7.63zM729.51 364.9h7.63v7.65h-7.63zM751.5 364.9h7.63v7.65h-7.63zM238.4 373.51h7.63v7.65h-7.63zM341.02 373.51h22.29v7.65h-22.29zM370.34 373.51h7.63v7.65h-7.63zM700.19 373.51h7.63v7.65h-7.63zM751.5 373.51h7.63v7.65h-7.63zM238.4 382.12h7.63v7.65h-7.63zM341.02 382.12h22.29v7.65h-22.29zM370.34 382.12h7.63v7.65h-7.63zM751.5 382.12h7.63v7.65h-7.63zM238.4 390.73h7.63v7.65h-7.63zM341.02 390.73h22.29v7.65h-22.29zM370.34 390.73h7.63v7.65h-7.63zM700.19 390.73h7.63v7.65h-7.63zM751.5 390.73h7.63v7.65h-7.63zM238.4 399.34h7.63v7.65h-7.63zM341.02 399.34h22.29v7.65h-22.29zM370.34 399.34h7.63v7.65h-7.63zM700.19 399.34h7.63v7.65h-7.63zM751.5 399.34h7.63v7.65h-7.63zM238.4 407.95h7.63v7.65h-7.63zM341.02 407.95h22.29v7.65h-22.29zM370.34 407.95h7.63v7.65h-7.63zM700.19 407.95h7.63v7.65h-7.63zM751.5 407.95h7.63v7.65h-7.63zM348.35 416.56h7.63v7.65h-7.63zM370.34 416.56h7.63v7.65h-7.63zM751.5 416.56h7.63v7.65h-7.63zM121.12 425.17h7.63v7.65h-7.63zM201.75 425.17h7.63v7.65h-7.63zM275.05 425.17h7.63v7.65h-7.63zM370.34 425.17h7.63v7.65h-7.63zM443.64 425.17h7.63v7.65h-7.63zM487.62 425.17h7.63v7.65h-7.63zM700.19 425.17h7.63v7.65h-7.63zM729.51 425.17h7.63v7.65h-7.63zM751.5 425.17h7.63v7.65h-7.63zM121.12 433.78h7.63v7.65h-7.63zM201.75 433.78h7.63v7.65h-7.63zM275.05 433.78h7.63v7.65h-7.63zM370.34 433.78h7.63v7.65h-7.63zM443.64 433.78h7.63v7.65h-7.63zM487.62 433.78h7.63v7.65h-7.63zM700.19 433.78h7.63v7.65h-7.63zM729.51 433.78h7.63v7.65h-7.63zM751.5 433.78h7.63v7.65h-7.63zM121.12 442.39h7.63v7.65h-7.63zM275.05 442.39h7.63v7.65h-7.63zM370.34 442.39h7.63v7.65h-7.63zM443.64 442.39h7.63v7.65h-7.63zM487.62 442.39h7.63v7.65h-7.63zM700.19 442.39h7.63v7.65h-7.63zM729.51 442.39h7.63v7.65h-7.63zM751.5 442.39h7.63v7.65h-7.63zM275.05 451h7.63v7.65h-7.63zM487.62 451h7.63v7.65h-7.63zM700.19 451h7.63v7.65h-7.63zM238.4 459.61h7.63v7.65h-7.63zM341.02 459.61h22.29v7.65h-22.29zM370.34 459.61h7.63v7.65h-7.63zM700.19 459.61h7.63v7.65h-7.63zM751.5 459.61h7.63v7.65h-7.63zM121.12 468.22h7.63v7.65h-7.63zM201.75 468.22h7.63v7.65h-7.63zM275.05 468.22h7.63v7.65h-7.63zM355.68 468.22h7.63v7.65h-7.63zM370.34 468.22h7.63v7.65h-7.63zM487.62 468.22h7.63v7.65h-7.63zM341.02 476.83h7.63v7.65h-7.63zM370.34 476.83h7.63v7.65h-7.63zM700.19 476.83h7.63v7.65h-7.63zM121.12 485.44h7.63v7.65h-7.63zM201.75 485.44h7.63v7.65h-7.63zM238.4 485.44h7.63v7.65h-7.63zM355.68 485.44h7.63v7.65h-7.63zM443.64 485.44h7.63v7.65h-7.63zM700.19 485.44h7.63v7.65h-7.63zM729.51 485.44h7.63v7.65h-7.63zM121.12 494.05h7.63v7.65h-7.63zM201.75 494.05h7.63v7.65h-7.63zM238.4 494.05h7.63v7.65h-7.63zM275.05 494.05h7.63v7.65h-7.63zM370.34 494.05h7.63v7.65h-7.63zM487.62 494.05h7.63v7.65h-7.63zM700.19 494.05h7.63v7.65h-7.63zM355.68 502.66h7.63v7.65h-7.63zM700.19 502.66h7.63v7.65h-7.63zM355.68 511.27h7.63v7.65h-7.63zM700.19 511.27h7.63v7.65h-7.63zM341.02 519.88h7.63v7.65h-7.63zM113.79 538.88h7.63v7.65h-7.63zM275.05 538.88h7.63v7.65h-7.63zM385 538.88h7.63v7.65h-7.63zM516.94 538.88h7.63v7.65h-7.63zM568.25 538.88h7.63v7.65h-7.63zM700.19 538.88h7.63v7.65h-7.63zM729.51 538.88h7.63v7.65h-7.63zM729.51 588.81h7.63v7.65h-7.63zM113.79 606.02h7.63v7.65h-7.63zM275.05 606.02h7.63v7.65h-7.63zM385 606.02h7.63v7.65h-7.63zM516.94 606.02h7.63v7.65h-7.63zM568.25 606.02h7.63v7.65h-7.63zM729.51 606.02h7.63v7.65h-7.63zM113.79 614.63h7.63v7.65h-7.63zM275.05 614.63h7.63v7.65h-7.63zM385 614.63h7.63v7.65h-7.63zM516.94 614.63h7.63v7.65h-7.63zM568.25 614.63h7.63v7.65h-7.63zM729.51 614.63h7.63v7.65h-7.63zM113.79 623.25h7.63v7.65h-7.63zM275.05 623.25h7.63v7.65h-7.63zM385 623.25h7.63v7.65h-7.63zM516.94 623.25h7.63v7.65h-7.63zM568.25 623.25h7.63v7.65h-7.63zM729.51 623.25h7.63v7.65h-7.63zM113.79 631.86h7.63v7.65h-7.63zM385 631.86h7.63v7.65h-7.63zM568.25 631.86h7.63v7.65h-7.63zM700.19 631.86h7.63v7.65h-7.63zM729.51 631.86h7.63v7.65h-7.63zM113.79 640.47h7.63v7.65h-7.63zM568.25 640.47h7.63v7.65h-7.63zM700.19 640.47h7.63v7.65h-7.63zM113.79 649.08h7.63v7.65h-7.63zM385 649.08h7.63v7.65h-7.63zM568.25 649.08h7.63v7.65h-7.63zM700.19 649.08h7.63v7.65h-7.63zM729.51 649.08h7.63v7.65h-7.63zM113.79 657.69h7.63v7.65h-7.63zM385 657.69h7.63v7.65h-7.63zM568.25 657.69h7.63v7.65h-7.63zM700.19 657.69h7.63v7.65h-7.63zM729.51 657.69h7.63v7.65h-7.63zM113.79 666.3h7.63v7.65h-7.63zM385 666.3h7.63v7.65h-7.63zM568.25 666.3h7.63v7.65h-7.63zM700.19 666.3h7.63v7.65h-7.63zM729.51 666.3h7.63v7.65h-7.63zM275.05 674.9h7.63v7.65h-7.63zM113.79 683.51h7.63v7.65h-7.63zM275.05 683.51h7.63v7.65h-7.63zM385 683.51h7.63v7.65h-7.63zM516.94 683.51h7.63v7.65h-7.63zM568.25 683.51h7.63v7.65h-7.63zM729.51 683.51h7.63v7.65h-7.63zM113.79 692.12h7.63v7.65h-7.63zM275.05 692.12h7.63v7.65h-7.63zM385 692.12h7.63v7.65h-7.63zM516.94 692.12h7.63v7.65h-7.63zM568.25 692.12h7.63v7.65h-7.63zM729.51 692.12h7.63v7.65h-7.63zM113.79 700.74h7.63v7.65h-7.63zM275.05 700.74h7.63v7.65h-7.63zM385 700.74h7.63v7.65h-7.63zM729.51 700.74h7.63v7.65h-7.63zM385 709.35h7.63v7.65h-7.63zM516.94 709.35h7.63v7.65h-7.63zM568.25 709.35h7.63v7.65h-7.63zM729.51 709.35h7.63v7.65h-7.63zM113.79 717.96h7.63v7.65h-7.63zM385 717.96h7.63v7.65h-7.63zM568.25 717.96h7.63v7.65h-7.63zM700.19 717.96h7.63v7.65h-7.63zM729.51 717.96h7.63v7.65h-7.63zM385 726.57h7.63v7.65h-7.63zM568.25 726.57h7.63v7.65h-7.63zM729.51 726.57h7.63v7.65h-7.63zM568.25 735.17h7.63v7.65h-7.63zM729.51 735.17h7.63v7.65h-7.63zM729.51 743.79h7.63v7.65h-7.63zM275.05 752.39h7.63v7.65h-7.63zM516.94 752.39h7.63v7.65h-7.63zM729.51 752.39h7.63v7.65h-7.63zM729.51 761h7.63v7.65h-7.63zM729.51 769.62h7.63v7.65h-7.63zM106.46 796.27h7.63v7.65h-7.63zM128.45 796.27h7.63v7.65h-7.63zM231.07 796.27h7.63v7.65h-7.63zM436.31 796.27h7.63v7.65h-7.63zM465.63 796.27h7.63v7.65h-7.63zM494.95 796.27h7.63v7.65h-7.63zM531.6 796.27h7.63v7.65h-7.63zM106.46 863.42h7.63v7.65h-7.63zM128.45 863.42h7.63v7.65h-7.63zM231.07 863.42h7.63v7.65h-7.63zM106.46 872.03h7.63v7.65h-7.63zM128.45 872.03h7.63v7.65h-7.63zM231.07 872.03h7.63v7.65h-7.63zM436.31 872.03h7.63v7.65h-7.63zM106.46 880.64h7.63v7.65h-7.63zM128.45 880.64h7.63v7.65h-7.63zM231.07 880.64h7.63v7.65h-7.63zM106.46 889.25h7.63v7.65h-7.63zM128.45 889.25h7.63v7.65h-7.63zM436.31 889.25h7.63v7.65h-7.63zM465.63 889.25h7.63v7.65h-7.63zM494.95 889.25h7.63v7.65h-7.63zM465.63 897.87h7.63v7.65h-7.63zM494.95 897.87h7.63v7.65h-7.63zM106.46 906.48h7.63v7.65h-7.63zM128.45 906.48h7.63v7.65h-7.63zM106.46 915.09h7.63v7.65h-7.63zM128.45 915.09h7.63v7.65h-7.63zM436.31 915.09h7.63v7.65h-7.63zM465.63 915.09h7.63v7.65h-7.63zM494.95 915.09h7.63v7.65h-7.63zM106.46 923.69h7.63v7.65h-7.63zM128.45 923.69h7.63v7.65h-7.63zM231.07 932.3h7.63v7.65h-7.63zM106.46 940.91h7.63v7.65h-7.63zM128.45 940.91h7.63v7.65h-7.63zM231.07 940.91h7.63v7.65h-7.63zM106.46 949.52h7.63v7.65h-7.63zM128.45 949.52h7.63v7.65h-7.63zM231.07 949.52h7.63v7.65h-7.63zM465.63 949.52h7.63v7.65h-7.63zM128.45 958.13h7.63v7.65h-7.63zM436.31 958.13h7.63v7.65h-7.63zM465.63 958.13h7.63v7.65h-7.63zM494.95 958.13h7.63v7.65h-7.63zM531.6 958.13h7.63v7.65h-7.63zM231.07 966.75h7.63v7.65h-7.63zM436.31 966.75h7.63v7.65h-7.63zM465.63 966.75h7.63v7.65h-7.63zM494.95 966.75h7.63v7.65h-7.63zM106.46 975.36h7.63v7.65h-7.63zM128.45 975.36h7.63v7.65h-7.63zM436.31 975.36h7.63v7.65h-7.63zM465.63 975.36h7.63v7.65h-7.63zM494.95 975.36h7.63v7.65h-7.63zM128.45 992.58h7.63v7.65h-7.63zM128.45 1009.79h7.63v7.65h-7.63zM106.46 1018.4h7.63v7.65h-7.63zM128.45 1018.4h7.63v7.65h-7.63zM231.07 1018.4h7.63v7.65h-7.63zM436.31 1018.4h7.63v7.65h-7.63zM465.63 1018.4h7.63v7.65h-7.63zM494.95 1018.4h7.63v7.65h-7.63zM531.6 1018.4h7.63v7.65h-7.63zM106.46 1027.02h7.63v7.65h-7.63zM128.45 1027.02h7.63v7.65h-7.63zM231.07 1027.02h7.63v7.65h-7.63zM436.31 1027.02h7.63v7.65h-7.63zM465.63 1027.02h7.63v7.65h-7.63zM494.95 1027.02h7.63v7.65h-7.63zM531.6 1027.02h7.63v7.65h-7.63z"/>
<path fill="#f9ac9e" d="M223.74 22.18h7.63v7.65h-7.63zM319.03 22.18h7.63v7.65h-7.63zM414.32 22.18h7.63v7.65h-7.63zM428.98 22.18h7.63v7.65h-7.63zM751.5 22.18h7.63v7.65h-7.63zM414.32 46.27h7.63v7.65h-7.63zM428.98 46.27h7.63v7.65h-7.63zM414.32 89.33h7.63v7.65h-7.63zM428.98 89.33h7.63v7.65h-7.63zM751.5 89.33h7.63v7.65h-7.63zM223.74 97.93h7.63v7.65h-7.63zM414.32 97.93h7.63v7.65h-7.63zM428.98 97.93h7.63v7.65h-7.63zM751.5 97.93h7.63v7.65h-7.63zM223.74 106.55h7.63v7.65h-7.63zM319.03 106.55h7.63v7.65h-7.63zM414.32 106.55h7.63v7.65h-7.63zM428.98 106.55h7.63v7.65h-7.63zM751.5 106.55h7.63v7.65h-7.63zM223.74 115.15h7.63v7.65h-7.63zM319.03 115.15h7.63v7.65h-7.63zM414.32 115.15h7.63v7.65h-7.63zM428.98 115.15h7.63v7.65h-7.63zM414.32 123.77h7.63v7.65h-7.63zM428.98 123.77h7.63v7.65h-7.63zM414.32 132.38h7.63v7.65h-7.63zM428.98 132.38h7.63v7.65h-7.63zM223.74 140.99h7.63v7.65h-7.63zM414.32 140.99h7.63v7.65h-7.63zM428.98 140.99h7.63v7.65h-7.63zM414.32 149.59h7.63v7.65h-7.63zM428.98 149.59h7.63v7.65h-7.63zM414.32 158.21h7.63v7.65h-7.63zM751.5 158.21h7.63v7.65h-7.63zM223.74 166.81h7.63v7.65h-7.63zM319.03 166.81h7.63v7.65h-7.63zM414.32 166.81h7.63v7.65h-7.63zM428.98 166.81h7.63v7.65h-7.63zM751.5 166.81h7.63v7.65h-7.63zM414.32 175.42h7.63v7.65h-7.63zM428.98 175.42h7.63v7.65h-7.63zM751.5 175.42h7.63v7.65h-7.63zM414.32 184.03h7.63v7.65h-7.63zM428.98 184.03h7.63v7.65h-7.63zM751.5 184.03h7.63v7.65h-7.63zM223.74 201.25h7.63v7.65h-7.63zM319.03 201.25h7.63v7.65h-7.63zM414.32 201.25h7.63v7.65h-7.63zM428.98 201.25h7.63v7.65h-7.63zM414.32 209.86h7.63v7.65h-7.63zM428.98 209.86h7.63v7.65h-7.63zM414.32 218.47h7.63v7.65h-7.63zM428.98 218.47h7.63v7.65h-7.63zM428.98 227.09h7.63v7.65h-7.63zM223.74 235.69h7.63v7.65h-7.63zM319.03 235.69h7.63v7.65h-7.63zM414.32 235.69h7.63v7.65h-7.63zM428.98 235.69h7.63v7.65h-7.63zM223.74 244.3h7.63v7.65h-7.63zM319.03 244.3h7.63v7.65h-7.63zM414.32 244.3h7.63v7.65h-7.63zM428.98 244.3h7.63v7.65h-7.63zM751.5 244.3h7.63v7.65h-7.63zM223.74 252.92h7.63v7.65h-7.63zM319.03 252.92h7.63v7.65h-7.63zM414.32 252.92h7.63v7.65h-7.63zM428.98 252.92h7.63v7.65h-7.63zM751.5 252.92h7.63v7.65h-7.63zM414.32 261.53h7.63v7.65h-7.63zM91.8 280.53h7.63v7.65h-7.63zM128.45 280.53h7.63v7.65h-7.63zM656.21 280.53h7.63v7.65h-7.63zM766.16 280.53h7.63v7.65h-7.63zM128.45 313.24h7.63v7.65h-7.63zM91.8 347.68h7.63v7.65h-7.63zM766.16 347.68h7.63v7.65h-7.63zM91.8 356.29h7.63v7.65h-7.63zM766.16 356.29h7.63v7.65h-7.63zM91.8 364.9h7.63v7.65h-7.63zM766.16 364.9h7.63v7.65h-7.63zM128.45 373.51h7.63v7.65h-7.63zM656.21 373.51h7.63v7.65h-7.63zM128.45 382.12h7.63v7.65h-7.63zM128.45 390.73h7.63v7.65h-7.63zM656.21 390.73h7.63v7.65h-7.63zM128.45 399.34h7.63v7.65h-7.63zM656.21 399.34h7.63v7.65h-7.63zM128.45 407.95h7.63v7.65h-7.63zM656.21 407.95h7.63v7.65h-7.63zM91.8 416.56h7.63v7.65h-7.63zM91.8 425.17h7.63v7.65h-7.63zM766.16 425.17h7.63v7.65h-7.63zM91.8 433.78h7.63v7.65h-7.63zM766.16 433.78h7.63v7.65h-7.63zM91.8 442.39h7.63v7.65h-7.63zM766.16 442.39h7.63v7.65h-7.63zM128.45 451h7.63v7.65h-7.63zM128.45 459.61h7.63v7.65h-7.63zM656.21 459.61h7.63v7.65h-7.63zM91.8 468.22h7.63v7.65h-7.63zM128.45 468.22h7.63v7.65h-7.63zM91.8 476.83h7.63v7.65h-7.63zM91.8 485.44h7.63v7.65h-7.63zM656.21 485.44h7.63v7.65h-7.63zM91.8 494.05h7.63v7.65h-7.63zM656.21 494.05h7.63v7.65h-7.63zM297.04 538.88h7.63v7.65h-7.63zM297.04 631.86h7.63v7.65h-7.63zM297.04 640.47h7.63v7.65h-7.63zM297.04 649.08h7.63v7.65h-7.63zM297.04 657.69h7.63v7.65h-7.63zM297.04 666.3h7.63v7.65h-7.63zM297.04 700.74h7.63v7.65h-7.63zM297.04 717.96h7.63v7.65h-7.63zM297.04 735.17h7.63v7.65h-7.63zM297.04 743.79h7.63v7.65h-7.63zM297.04 752.39h7.63v7.65h-7.63zM516.94 796.27h7.63v7.65h-7.63zM678.2 796.27h7.63v7.65h-7.63zM678.2 923.69h7.63v7.65h-7.63zM516.94 958.13h7.63v7.65h-7.63zM516.94 975.36h7.63v7.65h-7.63zM516.94 1018.4h7.63v7.65h-7.63zM516.94 1027.02h7.63v7.65h-7.63z"/>
<path fill="#f6e01e" d="M238.4 22.18h7.63v7.65h-7.63zM238.4 106.55h7.63v7.65h-7.63zM238.4 115.15h7.63v7.65h-7.63zM238.4 140.99h7.63v7.65h-7.63zM238.4 166.81h7.63v7.65h-7.63zM238.4 201.25h7.63v7.65h-7.63zM238.4 209.86h7.63v7.65h-7.63zM238.4 235.69h7.63v7.65h-7.63zM238.4 244.3h7.63v7.65h-7.63zM238.4 252.92h7.63v7.65h-7.63zM590.24 280.53h7.63v7.65h-7.63zM590.24 347.68h7.63v7.65h-7.63zM590.24 356.29h7.63v7.65h-7.63zM590.24 364.9h7.63v7.65h-7.63zM590.24 425.17h7.63v7.65h-7.63zM590.24 433.78h7.63v7.65h-7.63zM590.24 442.39h7.63v7.65h-7.63zM590.24 485.44h7.63v7.65h-7.63zM480.29 796.27h7.63v7.65h-7.63zM480.29 889.25h7.63v7.65h-7.63zM480.29 897.87h7.63v7.65h-7.63zM480.29 915.09h7.63v7.65h-7.63zM480.29 958.13h7.63v7.65h-7.63zM480.29 966.75h7.63v7.65h-7.63zM480.29 975.36h7.63v7.65h-7.63zM480.29 1018.4h7.63v7.65h-7.63zM480.29 1027.02h7.63v7.65h-7.63z"/>
<path fill="#de26f2" d="M245.73 22.18h7.63v7.65h-7.63zM392.33 22.18h7.63v7.65h-7.63zM392.33 89.33h7.63v7.65h-7.63zM392.33 97.93h7.63v7.65h-7.63zM245.73 106.55h7.63v7.65h-7.63zM392.33 106.55h7.63v7.65h-7.63zM245.73 115.15h7.63v7.65h-7.63zM392.33 115.15h7.63v7.65h-7.63zM392.33 123.77h7.63v7.65h-7.63zM392.33 132.38h7.63v7.65h-7.63zM245.73 140.99h7.63v7.65h-7.63zM392.33 149.59h7.63v7.65h-7.63zM392.33 158.21h7.63v7.65h-7.63zM245.73 166.81h7.63v7.65h-7.63zM392.33 166.81h7.63v7.65h-7.63zM392.33 175.42h7.63v7.65h-7.63zM245.73 201.25h7.63v7.65h-7.63zM392.33 201.25h7.63v7.65h-7.63zM392.33 209.86h7.63v7.65h-7.63zM245.73 235.69h7.63v7.65h-7.63zM392.33 235.69h7.63v7.65h-7.63zM245.73 244.3h7.63v7.65h-7.63zM392.33 244.3h7.63v7.65h-7.63zM245.73 252.92h7.63v7.65h-7.63zM392.33 252.92h7.63v7.65h-7.63zM392.33 261.53h7.63v7.65h-7.63zM758.83 280.53h7.63v7.65h-7.63zM758.83 347.68h7.63v7.65h-7.63zM758.83 356.29h7.63v7.65h-7.63zM758.83 364.9h7.63v7.65h-7.63zM758.83 425.17h7.63v7.65h-7.63zM758.83 433.78h7.63v7.65h-7.63zM758.83 442.39h7.63v7.65h-7.63zM751.5 796.27h7.63v7.65h-7.63zM751.5 923.69h7.63v7.65h-7.63z"/>
<path fill="#f8348e" d="M253.06 22.18h7.63v7.65h-7.63zM560.92 22.18h7.63v7.65h-7.63zM729.51 22.18h7.63v7.65h-7.63zM766.16 22.18h7.63v7.65h-7.63zM560.92 89.33h7.63v7.65h-7.63zM729.51 89.33h7.63v7.65h-7.63zM560.92 97.93h7.63v7.65h-7.63zM729.51 97.93h7.63v7.65h-7.63zM253.06 106.55h7.63v7.65h-7.63zM560.92 106.55h7.63v7.65h-7.63zM729.51 106.55h7.63v7.65h-7.63zM253.06 115.15h7.63v7.65h-7.63zM560.92 115.15h7.63v7.65h-7.63zM729.51 115.15h7.63v7.65h-7.63zM560.92 123.77h7.63v7.65h-7.63zM729.51 123.77h7.63v7.65h-7.63zM560.92 132.38h7.63v7.65h-7.63zM729.51 132.38h7.63v7.65h-7.63zM253.06 140.99h7.63v7.65h-7.63zM560.92 140.99h7.63v7.65h-7.63zM729.51 140.99h7.63v7.65h-7.63zM560.92 149.59h7.63v7.65h-7.63zM729.51 149.59h7.63v7.65h-7.63zM729.51 158.21h7.63v7.65h-7.63zM766.16 158.21h7.63v7.65h-7.63zM253.06 166.81h7.63v7.65h-7.63zM560.92 166.81h7.63v7.65h-7.63zM729.51 166.81h7.63v7.65h-7.63zM560.92 175.42h7.63v7.65h-7.63zM729.51 175.42h7.63v7.65h-7.63zM560.92 184.03h7.63v7.65h-7.63zM729.51 184.03h7.63v7.65h-7.63zM766.16 192.65h7.63v7.65h-7.63zM253.06 201.25h7.63v7.65h-7.63zM560.92 201.25h7.63v7.65h-7.63zM729.51 201.25h7.63v7.65h-7.63zM560.92 209.86h7.63v7.65h-7.63zM766.16 218.47h7.63v7.65h-7.63zM729.51 227.09h7.63v7.65h-7.63zM253.06 235.69h7.63v7.65h-7.63zM560.92 235.69h7.63v7.65h-7.63zM729.51 235.69h7.63v7.65h-7.63zM766.16 235.69h7.63v7.65h-7.63zM253.06 244.3h7.63v7.65h-7.63zM766.16 244.3h7.63v7.65h-7.63zM253.06 252.92h7.63v7.65h-7.63zM766.16 252.92h7.63v7.65h-7.63zM729.51 261.53h7.63v7.65h-7.63zM766.16 261.53h7.63v7.65h-7.63zM209.08 280.53h14.96v7.65h-14.96zM253.06 280.53h7.63v7.65h-7.63zM450.97 280.53h7.63v7.65h-7.63zM465.63 280.53h7.63v7.65h-7.63zM494.95 280.53h14.96v7.65h-14.96zM516.94 280.53h14.96v7.65h-14.96zM619.56 280.53h7.63v7.65h-7.63zM707.52 280.53h7.63v7.65h-7.63zM209.08 347.68h14.96v7.65h-14.96zM253.06 347.68h7.63v7.65h-7.63zM465.63 347.68h7.63v7.65h-7.63zM494.95 347.68h7.63v7.65h-7.63zM516.94 347.68h14.96v7.65h-14.96zM619.56 347.68h7.63v7.65h-7.63zM209.08 356.29h14.96v7.65h-14.96zM253.06 356.29h7.63v7.65h-7.63zM465.63 356.29h7.63v7.65h-7.63zM494.95 356.29h7.63v7.65h-7.63zM516.94 356.29h14.96v7.65h-14.96zM619.56 356.29h7.63v7.65h-7.63zM209.08 364.9h14.96v7.65h-14.96zM253.06 364.9h7.63v7.65h-7.63zM465.63 364.9h7.63v7.65h-7.63zM494.95 364.9h7.63v7.65h-7.63zM516.94 364.9h14.96v7.65h-14.96zM619.56 364.9h7.63v7.65h-7.63zM209.08 373.51h7.63v7.65h-7.63zM253.06 373.51h7.63v7.65h-7.63zM450.97 373.51h7.63v7.65h-7.63zM502.28 373.51h7.63v7.65h-7.63zM524.27 373.51h7.63v7.65h-7.63zM619.56 373.51h7.63v7.65h-7.63zM707.52 373.51h7.63v7.65h-7.63zM209.08 382.12h7.63v7.65h-7.63zM253.06 382.12h7.63v7.65h-7.63zM450.97 382.12h7.63v7.65h-7.63zM502.28 382.12h7.63v7.65h-7.63zM619.56 382.12h7.63v7.65h-7.63zM707.52 382.12h7.63v7.65h-7.63zM209.08 390.73h7.63v7.65h-7.63zM253.06 390.73h7.63v7.65h-7.63zM450.97 390.73h7.63v7.65h-7.63zM502.28 390.73h7.63v7.65h-7.63zM524.27 390.73h7.63v7.65h-7.63zM619.56 390.73h7.63v7.65h-7.63zM707.52 390.73h7.63v7.65h-7.63zM209.08 399.34h7.63v7.65h-7.63zM253.06 399.34h7.63v7.65h-7.63zM450.97 399.34h7.63v7.65h-7.63zM502.28 399.34h7.63v7.65h-7.63zM524.27 399.34h7.63v7.65h-7.63zM619.56 399.34h7.63v7.65h-7.63zM707.52 399.34h7.63v7.65h-7.63zM209.08 407.95h7.63v7.65h-7.63zM253.06 407.95h7.63v7.65h-7.63zM450.97 407.95h7.63v7.65h-7.63zM502.28 407.95h7.63v7.65h-7.63zM524.27 407.95h7.63v7.65h-7.63zM619.56 407.95h7.63v7.65h-7.63zM707.52 407.95h7.63v7.65h-7.63zM216.41 416.56h7.63v7.65h-7.63zM619.56 416.56h7.63v7.65h-7.63zM209.08 425.17h14.96v7.65h-14.96zM253.06 425.17h7.63v7.65h-7.63zM465.63 425.17h7.63v7.65h-7.63zM494.95 425.17h7.63v7.65h-7.63zM516.94 425.17h14.96v7.65h-14.96zM619.56 425.17h7.63v7.65h-7.63zM209.08 433.78h14.96v7.65h-14.96zM253.06 433.78h7.63v7.65h-7.63zM465.63 433.78h7.63v7.65h-7.63zM494.95 433.78h7.63v7.65h-7.63zM516.94 433.78h14.96v7.65h-14.96zM619.56 433.78h7.63v7.65h-7.63zM209.08 442.39h14.96v7.65h-14.96zM253.06 442.39h7.63v7.65h-7.63zM465.63 442.39h7.63v7.65h-7.63zM494.95 442.39h7.63v7.65h-7.63zM516.94 442.39h14.96v7.65h-14.96zM619.56 442.39h7.63v7.65h-7.63zM209.08 451h7.63v7.65h-7.63zM253.06 451h7.63v7.65h-7.63zM516.94 451h7.63v7.65h-7.63zM209.08 459.61h7.63v7.65h-7.63zM253.06 459.61h7.63v7.65h-7.63zM450.97 459.61h7.63v7.65h-7.63zM502.28 459.61h7.63v7.65h-7.63zM524.27 459.61h7.63v7.65h-7.63zM619.56 459.61h7.63v7.65h-7.63zM707.52 459.61h7.63v7.65h-7.63zM209.08 468.22h7.63v7.65h-7.63zM253.06 468.22h7.63v7.65h-7.63zM494.95 468.22h7.63v7.65h-7.63zM524.27 468.22h7.63v7.65h-7.63zM619.56 468.22h7.63v7.65h-7.63zM707.52 468.22h7.63v7.65h-7.63zM450.97 476.83h7.63v7.65h-7.63zM465.63 476.83h7.63v7.65h-7.63zM450.97 485.44h7.63v7.65h-7.63zM494.95 485.44h14.96v7.65h-14.96zM524.27 485.44h7.63v7.65h-7.63zM619.56 485.44h7.63v7.65h-7.63zM707.52 485.44h7.63v7.65h-7.63zM209.08 494.05h7.63v7.65h-7.63zM253.06 494.05h7.63v7.65h-7.63zM465.63 494.05h7.63v7.65h-7.63zM502.28 494.05h7.63v7.65h-7.63zM524.27 494.05h7.63v7.65h-7.63zM707.52 494.05h7.63v7.65h-7.63zM209.08 502.66h7.63v7.65h-7.63zM502.28 502.66h7.63v7.65h-7.63zM516.94 502.66h14.96v7.65h-14.96zM707.52 502.66h7.63v7.65h-7.63zM209.08 511.27h7.63v7.65h-7.63zM502.28 511.27h7.63v7.65h-7.63zM516.94 511.27h14.96v7.65h-14.96zM707.52 511.27h7.63v7.65h-7.63zM450.97 519.88h7.63v7.65h-7.63zM150.44 538.88h7.63v7.65h-7.63zM165.1 538.88h7.63v7.65h-7.63zM319.03 538.88h7.63v7.65h-7.63zM538.93 538.88h7.63v7.65h-7.63zM582.91 538.88h7.63v7.65h-7.63zM663.54 538.88h7.63v7.65h-7.63zM722.18 538.88h7.63v7.65h-7.63zM663.54 588.81h7.63v7.65h-7.63zM722.18 588.81h7.63v7.65h-7.63zM150.44 606.02h7.63v7.65h-7.63zM165.1 606.02h7.63v7.65h-7.63zM319.03 606.02h7.63v7.65h-7.63zM538.93 606.02h7.63v7.65h-7.63zM582.91 606.02h7.63v7.65h-7.63zM663.54 606.02h7.63v7.65h-7.63zM722.18 606.02h7.63v7.65h-7.63zM150.44 614.63h7.63v7.65h-7.63zM165.1 614.63h7.63v7.65h-7.63zM319.03 614.63h7.63v7.65h-7.63zM538.93 614.63h7.63v7.65h-7.63zM582.91 614.63h7.63v7.65h-7.63zM663.54 614.63h7.63v7.65h-7.63zM722.18 614.63h7.63v7.65h-7.63zM150.44 623.25h7.63v7.65h-7.63zM165.1 623.25h7.63v7.65h-7.63zM319.03 623.25h7.63v7.65h-7.63zM538.93 623.25h7.63v7.65h-7.63zM582.91 623.25h7.63v7.65h-7.63zM663.54 623.25h7.63v7.65h-7.63zM722.18 623.25h7.63v7.65h-7.63zM165.1 631.86h7.63v7.65h-7.63zM538.93 631.86h7.63v7.65h-7.63zM165.1 649.08h7.63v7.65h-7.63zM538.93 649.08h7.63v7.65h-7.63zM165.1 657.69h7.63v7.65h-7.63zM538.93 657.69h7.63v7.65h-7.63zM165.1 666.3h7.63v7.65h-7.63zM538.93 666.3h7.63v7.65h-7.63zM538.93 674.9h7.63v7.65h-7.63zM582.91 674.9h7.63v7.65h-7.63zM663.54 674.9h7.63v7.65h-7.63zM722.18 674.9h7.63v7.65h-7.63zM150.44 683.51h7.63v7.65h-7.63zM165.1 683.51h7.63v7.65h-7.63zM319.03 683.51h7.63v7.65h-7.63zM538.93 683.51h7.63v7.65h-7.63zM582.91 683.51h7.63v7.65h-7.63zM663.54 683.51h7.63v7.65h-7.63zM722.18 683.51h7.63v7.65h-7.63zM150.44 692.12h7.63v7.65h-7.63zM165.1 692.12h7.63v7.65h-7.63zM319.03 692.12h7.63v7.65h-7.63zM538.93 692.12h7.63v7.65h-7.63zM582.91 692.12h7.63v7.65h-7.63zM663.54 692.12h7.63v7.65h-7.63zM722.18 692.12h7.63v7.65h-7.63zM150.44 700.74h7.63v7.65h-7.63zM165.1 700.74h7.63v7.65h-7.63zM319.03 700.74h7.63v7.65h-7.63zM538.93 700.74h7.63v7.65h-7.63zM582.91 700.74h7.63v7.65h-7.63zM663.54 700.74h7.63v7.65h-7.63zM538.93 709.35h7.63v7.65h-7.63zM582.91 709.35h7.63v7.65h-7.63zM663.54 709.35h7.63v7.65h-7.63zM722.18 709.35h7.63v7.65h-7.63zM165.1 717.96h7.63v7.65h-7.63zM538.93 717.96h7.63v7.65h-7.63zM319.03 726.57h7.63v7.65h-7.63zM663.54 726.57h7.63v7.65h-7.63zM319.03 735.17h7.63v7.65h-7.63zM538.93 735.17h7.63v7.65h-7.63zM582.91 735.17h7.63v7.65h-7.63zM663.54 735.17h7.63v7.65h-7.63zM722.18 735.17h7.63v7.65h-7.63zM165.1 743.79h7.63v7.65h-7.63zM538.93 743.79h7.63v7.65h-7.63zM582.91 743.79h7.63v7.65h-7.63zM663.54 743.79h7.63v7.65h-7.63zM722.18 743.79h7.63v7.65h-7.63zM165.1 752.39h7.63v7.65h-7.63zM319.03 752.39h7.63v7.65h-7.63zM538.93 752.39h7.63v7.65h-7.63zM582.91 752.39h7.63v7.65h-7.63zM663.54 752.39h7.63v7.65h-7.63zM722.18 752.39h7.63v7.65h-7.63zM319.03 761h7.63v7.65h-7.63zM538.93 761h7.63v7.65h-7.63zM582.91 761h7.63v7.65h-7.63zM663.54 761h7.63v7.65h-7.63zM722.18 761h7.63v7.65h-7.63zM319.03 769.62h7.63v7.65h-7.63zM538.93 769.62h7.63v7.65h-7.63zM582.91 769.62h7.63v7.65h-7.63zM663.54 769.62h7.63v7.65h-7.63zM722.18 769.62h7.63v7.65h-7.63zM113.79 796.27h7.63v7.65h-7.63zM245.73 796.27h7.63v7.65h-7.63zM575.58 796.27h7.63v7.65h-7.63zM685.53 796.27h14.96v7.65h-14.96zM707.52 796.27h7.63v7.65h-7.63zM722.18 796.27h7.63v7.65h-7.63zM113.79 863.42h7.63v7.65h-7.63zM245.73 863.42h7.63v7.65h-7.63zM113.79 872.03h7.63v7.65h-7.63zM245.73 872.03h7.63v7.65h-7.63zM113.79 880.64h7.63v7.65h-7.63zM245.73 880.64h7.63v7.65h-7.63zM245.73 889.25h7.63v7.65h-7.63zM245.73 906.48h7.63v7.65h-7.63zM245.73 915.09h7.63v7.65h-7.63zM575.58 923.69h7.63v7.65h-7.63zM685.53 923.69h14.96v7.65h-14.96zM707.52 923.69h7.63v7.65h-7.63zM722.18 923.69h7.63v7.65h-7.63zM113.79 940.91h7.63v7.65h-7.63zM245.73 940.91h7.63v7.65h-7.63zM113.79 949.52h7.63v7.65h-7.63zM245.73 949.52h7.63v7.65h-7.63zM113.79 958.13h7.63v7.65h-7.63zM245.73 958.13h7.63v7.65h-7.63zM113.79 966.75h7.63v7.65h-7.63zM245.73 966.75h7.63v7.65h-7.63zM245.73 975.36h7.63v7.65h-7.63zM113.79 983.96h7.63v7.65h-7.63zM113.79 992.58h7.63v7.65h-7.63zM245.73 1001.18h7.63v7.65h-7.63zM113.79 1009.79h7.63v7.65h-7.63zM113.79 1018.4h7.63v7.65h-7.63zM113.79 1027.02h7.63v7.65h-7.63z"/>
<path fill="#ee22ee" d="M260.39 22.18h7.63v7.65h-7.63zM348.35 22.18h7.63v7.65h-7.63zM348.35 97.93h7.63v7.65h-7.63zM260.39 106.55h7.63v7.65h-7.63zM348.35 106.55h7.63v7.65h-7.63zM260.39 115.15h7.63v7.65h-7.63zM260.39 140.99h7.63v7.65h-7.63zM260.39 166.81h7.63v7.65h-7.63zM348.35 166.81h7.63v7.65h-7.63zM260.39 201.25h7.63v7.65h-7.63zM260.39 235.69h7.63v7.65h-7.63zM348.35 235.69h7.63v7.65h-7.63zM260.39 244.3h7.63v7.65h-7.63zM260.39 252.92h7.63v7.65h-7.63zM150.44 280.53h7.63v7.65h-7.63zM297.04 280.53h7.63v7.65h-7.63zM363.01 280.53h7.63v7.65h-7.63zM553.59 280.53h14.96v7.65h-14.96zM634.22 280.53h7.63v7.65h-7.63zM692.86 280.53h7.63v7.65h-7.63zM150.44 347.68h7.63v7.65h-7.63zM297.04 347.68h7.63v7.65h-7.63zM363.01 347.68h7.63v7.65h-7.63zM553.59 347.68h14.96v7.65h-14.96zM634.22 347.68h7.63v7.65h-7.63zM692.86 347.68h7.63v7.65h-7.63zM150.44 356.29h7.63v7.65h-7.63zM297.04 356.29h7.63v7.65h-7.63zM363.01 356.29h7.63v7.65h-7.63zM553.59 356.29h14.96v7.65h-14.96zM634.22 356.29h7.63v7.65h-7.63zM692.86 356.29h7.63v7.65h-7.63zM150.44 364.9h7.63v7.65h-7.63zM297.04 364.9h7.63v7.65h-7.63zM363.01 364.9h7.63v7.65h-7.63zM553.59 364.9h14.96v7.65h-14.96zM634.22 364.9h7.63v7.65h-7.63zM692.86 364.9h7.63v7.65h-7.63zM150.44 373.51h7.63v7.65h-7.63zM297.04 373.51h7.63v7.65h-7.63zM560.92 373.51h7.63v7.65h-7.63zM634.22 373.51h7.63v7.65h-7.63zM692.86 373.51h7.63v7.65h-7.63zM150.44 382.12h7.63v7.65h-7.63zM297.04 382.12h7.63v7.65h-7.63zM150.44 390.73h7.63v7.65h-7.63zM297.04 390.73h7.63v7.65h-7.63zM560.92 390.73h7.63v7.65h-7.63zM634.22 390.73h7.63v7.65h-7.63zM692.86 390.73h7.63v7.65h-7.63zM150.44 399.34h7.63v7.65h-7.63zM297.04 399.34h7.63v7.65h-7.63zM560.92 399.34h7.63v7.65h-7.63zM634.22 399.34h7.63v7.65h-7.63zM692.86 399.34h7.63v7.65h-7.63zM150.44 407.95h7.63v7.65h-7.63zM297.04 407.95h7.63v7.65h-7.63zM560.92 407.95h7.63v7.65h-7.63zM634.22 407.95h7.63v7.65h-7.63zM692.86 407.95h7.63v7.65h-7.63zM297.04 416.56h7.63v7.65h-7.63zM692.86 416.56h7.63v7.65h-7.63zM150.44 425.17h7.63v7.65h-7.63zM297.04 425.17h7.63v7.65h-7.63zM363.01 425.17h7.63v7.65h-7.63zM553.59 425.17h14.96v7.65h-14.96zM634.22 425.17h7.63v7.65h-7.63zM692.86 425.17h7.63v7.65h-7.63zM150.44 433.78h7.63v7.65h-7.63zM297.04 433.78h7.63v7.65h-7.63zM363.01 433.78h7.63v7.65h-7.63zM553.59 433.78h14.96v7.65h-14.96zM634.22 433.78h7.63v7.65h-7.63zM692.86 433.78h7.63v7.65h-7.63zM150.44 442.39h7.63v7.65h-7.63zM363.01 442.39h7.63v7.65h-7.63zM553.59 442.39h14.96v7.65h-14.96zM634.22 442.39h7.63v7.65h-7.63zM692.86 442.39h7.63v7.65h-7.63zM150.44 451h7.63v7.65h-7.63zM692.86 451h7.63v7.65h-7.63zM150.44 459.61h7.63v7.65h-7.63zM297.04 459.61h7.63v7.65h-7.63zM560.92 459.61h7.63v7.65h-7.63zM634.22 459.61h7.63v7.65h-7.63zM692.86 459.61h7.63v7.65h-7.63zM150.44 468.22h7.63v7.65h-7.63zM297.04 468.22h7.63v7.65h-7.63zM692.86 468.22h7.63v7.65h-7.63zM150.44 485.44h7.63v7.65h-7.63zM560.92 485.44h7.63v7.65h-7.63zM692.86 485.44h7.63v7.65h-7.63zM297.04 494.05h7.63v7.65h-7.63zM692.86 494.05h7.63v7.65h-7.63zM297.04 502.66h7.63v7.65h-7.63zM363.01 502.66h7.63v7.65h-7.63zM692.86 502.66h7.63v7.65h-7.63zM297.04 511.27h7.63v7.65h-7.63zM363.01 511.27h7.63v7.65h-7.63zM692.86 511.27h7.63v7.65h-7.63zM297.04 519.88h7.63v7.65h-7.63zM223.74 538.88h7.63v7.65h-7.63zM656.21 538.88h7.63v7.65h-7.63zM223.74 580.2h7.63v7.65h-7.63zM656.21 588.81h7.63v7.65h-7.63zM223.74 606.02h7.63v7.65h-7.63zM656.21 606.02h7.63v7.65h-7.63zM223.74 614.63h7.63v7.65h-7.63zM656.21 614.63h7.63v7.65h-7.63zM223.74 623.25h7.63v7.65h-7.63zM656.21 623.25h7.63v7.65h-7.63zM223.74 631.86h7.63v7.65h-7.63zM656.21 631.86h7.63v7.65h-7.63zM656.21 640.47h7.63v7.65h-7.63zM223.74 649.08h7.63v7.65h-7.63zM656.21 649.08h7.63v7.65h-7.63zM223.74 657.69h7.63v7.65h-7.63zM656.21 657.69h7.63v7.65h-7.63zM223.74 666.3h7.63v7.65h-7.63zM656.21 666.3h7.63v7.65h-7.63zM223.74 674.9h7.63v7.65h-7.63zM656.21 674.9h7.63v7.65h-7.63zM223.74 683.51h7.63v7.65h-7.63zM656.21 683.51h7.63v7.65h-7.63zM223.74 692.12h7.63v7.65h-7.63zM656.21 692.12h7.63v7.65h-7.63zM223.74 700.74h7.63v7.65h-7.63zM656.21 700.74h7.63v7.65h-7.63zM223.74 709.35h7.63v7.65h-7.63zM656.21 709.35h7.63v7.65h-7.63zM223.74 717.96h7.63v7.65h-7.63zM656.21 717.96h7.63v7.65h-7.63zM223.74 726.57h7.63v7.65h-7.63zM656.21 726.57h7.63v7.65h-7.63zM656.21 735.17h7.63v7.65h-7.63zM223.74 743.79h7.63v7.65h-7.63zM656.21 743.79h7.63v7.65h-7.63zM223.74 752.39h7.63v7.65h-7.63zM223.74 761h7.63v7.65h-7.63zM656.21 761h7.63v7.65h-7.63zM223.74 769.62h7.63v7.65h-7.63zM656.21 769.62h7.63v7.65h-7.63zM135.78 796.27h7.63v7.65h-7.63zM341.02 796.27h7.63v7.65h-7.63zM399.66 796.27h7.63v7.65h-7.63zM399.66 880.64h7.63v7.65h-7.63zM341.02 889.25h7.63v7.65h-7.63zM341.02 915.09h7.63v7.65h-7.63zM399.66 940.91h7.63v7.65h-7.63zM135.78 958.13h7.63v7.65h-7.63zM341.02 958.13h7.63v7.65h-7.63zM135.78 966.75h7.63v7.65h-7.63zM341.02 966.75h7.63v7.65h-7.63zM341.02 975.36h7.63v7.65h-7.63zM135.78 983.96h7.63v7.65h-7.63zM399.66 983.96h7.63v7.65h-7.63zM135.78 992.58h7.63v7.65h-7.63zM135.78 1001.18h7.63v7.65h-7.63zM135.78 1009.79h7.63v7.65h-7.63zM135.78 1018.4h7.63v7.65h-7.63zM341.02 1018.4h7.63v7.65h-7.63zM135.78 1027.02h7.63v7.65h-7.63zM341.02 1027.02h7.63v7.65h-7.63z"/>
<path fill="#fcfc04" d="M275.05 22.18h14.96v7.65h-14.96zM465.63 22.18h7.63v7.65h-7.63zM707.52 22.18h7.63v7.65h-7.63zM758.83 22.18h7.63v7.65h-7.63zM465.63 46.27h7.63v7.65h-7.63zM465.63 89.33h7.63v7.65h-7.63zM758.83 89.33h7.63v7.65h-7.63zM282.38 97.93h7.63v7.65h-7.63zM465.63 97.93h7.63v7.65h-7.63zM758.83 97.93h7.63v7.65h-7.63zM275.05 106.55h14.96v7.65h-14.96zM465.63 106.55h7.63v7.65h-7.63zM758.83 106.55h7.63v7.65h-7.63zM275.05 115.15h14.96v7.65h-14.96zM465.63 115.15h7.63v7.65h-7.63zM707.52 115.15h7.63v7.65h-7.63zM465.63 123.77h7.63v7.65h-7.63zM707.52 123.77h7.63v7.65h-7.63zM465.63 132.38h7.63v7.65h-7.63zM707.52 132.38h7.63v7.65h-7.63zM465.63 140.99h7.63v7.65h-7.63zM707.52 140.99h7.63v7.65h-7.63zM465.63 149.59h7.63v7.65h-7.63zM707.52 149.59h7.63v7.65h-7.63zM465.63 158.21h7.63v7.65h-7.63zM707.52 158.21h7.63v7.65h-7.63zM275.05 166.81h14.96v7.65h-14.96zM465.63 166.81h7.63v7.65h-7.63zM758.83 166.81h7.63v7.65h-7.63zM465.63 175.42h7.63v7.65h-7.63zM758.83 175.42h7.63v7.65h-7.63zM465.63 184.03h7.63v7.65h-7.63zM758.83 184.03h7.63v7.65h-7.63zM465.63 192.65h7.63v7.65h-7.63zM275.05 201.25h14.96v7.65h-14.96zM465.63 201.25h7.63v7.65h-7.63zM707.52 201.25h7.63v7.65h-7.63zM275.05 209.86h7.63v7.65h-7.63zM465.63 209.86h7.63v7.65h-7.63zM465.63 218.47h7.63v7.65h-7.63zM465.63 227.09h7.63v7.65h-7.63zM758.83 227.09h7.63v7.65h-7.63zM275.05 235.69h14.96v7.65h-14.96zM465.63 235.69h7.63v7.65h-7.63zM275.05 244.3h14.96v7.65h-14.96zM465.63 244.3h7.63v7.65h-7.63zM758.83 244.3h7.63v7.65h-7.63zM275.05 252.92h14.96v7.65h-14.96zM465.63 252.92h7.63v7.65h-7.63zM758.83 252.92h7.63v7.65h-7.63zM465.63 261.53h7.63v7.65h-7.63zM758.83 261.53h7.63v7.65h-7.63zM472.96 280.53h7.63v7.65h-7.63zM575.58 280.53h7.63v7.65h-7.63zM604.9 280.53h7.63v7.65h-7.63zM575.58 347.68h7.63v7.65h-7.63zM575.58 356.29h7.63v7.65h-7.63zM575.58 364.9h7.63v7.65h-7.63zM472.96 373.51h7.63v7.65h-7.63zM604.9 373.51h7.63v7.65h-7.63zM472.96 382.12h7.63v7.65h-7.63zM604.9 382.12h7.63v7.65h-7.63zM472.96 390.73h7.63v7.65h-7.63zM604.9 390.73h7.63v7.65h-7.63zM472.96 399.34h7.63v7.65h-7.63zM604.9 399.34h7.63v7.65h-7.63zM472.96 407.95h7.63v7.65h-7.63zM604.9 407.95h7.63v7.65h-7.63zM472.96 416.56h7.63v7.65h-7.63zM575.58 425.17h7.63v7.65h-7.63zM575.58 433.78h7.63v7.65h-7.63zM575.58 442.39h7.63v7.65h-7.63zM472.96 451h7.63v7.65h-7.63zM575.58 451h7.63v7.65h-7.63zM472.96 459.61h7.63v7.65h-7.63zM604.9 459.61h7.63v7.65h-7.63zM472.96 468.22h7.63v7.65h-7.63zM604.9 468.22h7.63v7.65h-7.63zM472.96 476.83h7.63v7.65h-7.63zM472.96 494.05h7.63v7.65h-7.63zM575.58 494.05h7.63v7.65h-7.63zM135.78 538.88h7.63v7.65h-7.63zM209.08 538.88h7.63v7.65h-7.63zM355.68 538.88h7.63v7.65h-7.63zM428.98 538.88h7.63v7.65h-7.63zM443.64 538.88h7.63v7.65h-7.63zM472.96 538.88h7.63v7.65h-7.63zM597.57 538.88h7.63v7.65h-7.63zM612.23 538.88h14.96v7.65h-14.96zM209.08 580.2h7.63v7.65h-7.63zM135.78 606.02h7.63v7.65h-7.63zM209.08 606.02h7.63v7.65h-7.63zM428.98 606.02h7.63v7.65h-7.63zM443.64 606.02h7.63v7.65h-7.63zM472.96 606.02h7.63v7.65h-7.63zM597.57 606.02h7.63v7.65h-7.63zM612.23 606.02h7.63v7.65h-7.63zM135.78 614.63h7.63v7.65h-7.63zM209.08 614.63h7.63v7.65h-7.63zM355.68 614.63h7.63v7.65h-7.63zM428.98 614.63h7.63v7.65h-7.63zM443.64 614.63h7.63v7.65h-7.63zM472.96 614.63h7.63v7.65h-7.63zM597.57 614.63h7.63v7.65h-7.63zM612.23 614.63h7.63v7.65h-7.63zM135.78 623.25h7.63v7.65h-7.63zM209.08 623.25h7.63v7.65h-7.63zM355.68 623.25h7.63v7.65h-7.63zM428.98 623.25h7.63v7.65h-7.63zM443.64 623.25h7.63v7.65h-7.63zM472.96 623.25h7.63v7.65h-7.63zM597.57 623.25h7.63v7.65h-7.63zM612.23 623.25h7.63v7.65h-7.63zM135.78 631.86h7.63v7.65h-7.63zM209.08 631.86h7.63v7.65h-7.63zM355.68 631.86h7.63v7.65h-7.63zM443.64 631.86h7.63v7.65h-7.63zM472.96 631.86h7.63v7.65h-7.63zM619.56 631.86h7.63v7.65h-7.63zM135.78 640.47h7.63v7.65h-7.63zM209.08 640.47h7.63v7.65h-7.63zM355.68 640.47h7.63v7.65h-7.63zM619.56 640.47h7.63v7.65h-7.63zM135.78 649.08h7.63v7.65h-7.63zM209.08 649.08h7.63v7.65h-7.63zM355.68 649.08h7.63v7.65h-7.63zM443.64 649.08h7.63v7.65h-7.63zM472.96 649.08h7.63v7.65h-7.63zM619.56 649.08h7.63v7.65h-7.63zM135.78 657.69h7.63v7.65h-7.63zM209.08 657.69h7.63v7.65h-7.63zM355.68 657.69h7.63v7.65h-7.63zM443.64 657.69h7.63v7.65h-7.63zM472.96 657.69h7.63v7.65h-7.63zM619.56 657.69h7.63v7.65h-7.63zM135.78 666.3h7.63v7.65h-7.63zM209.08 666.3h7.63v7.65h-7.63zM355.68 666.3h7.63v7.65h-7.63zM443.64 666.3h7.63v7.65h-7.63zM472.96 666.3h7.63v7.65h-7.63zM619.56 666.3h7.63v7.65h-7.63zM135.78 674.9h7.63v7.65h-7.63zM209.08 674.9h7.63v7.65h-7.63zM355.68 674.9h7.63v7.65h-7.63zM443.64 674.9h7.63v7.65h-7.63zM472.96 674.9h7.63v7.65h-7.63zM597.57 674.9h7.63v7.65h-7.63zM612.23 674.9h14.96v7.65h-14.96zM135.78 683.51h7.63v7.65h-7.63zM209.08 683.51h7.63v7.65h-7.63zM355.68 683.51h7.63v7.65h-7.63zM428.98 683.51h7.63v7.65h-7.63zM443.64 683.51h7.63v7.65h-7.63zM472.96 683.51h7.63v7.65h-7.63zM597.57 683.51h7.63v7.65h-7.63zM612.23 683.51h7.63v7.65h-7.63zM135.78 692.12h7.63v7.65h-7.63zM209.08 692.12h7.63v7.65h-7.63zM355.68 692.12h7.63v7.65h-7.63zM428.98 692.12h7.63v7.65h-7.63zM443.64 692.12h7.63v7.65h-7.63zM472.96 692.12h7.63v7.65h-7.63zM597.57 692.12h7.63v7.65h-7.63zM612.23 692.12h7.63v7.65h-7.63zM135.78 700.74h7.63v7.65h-7.63zM209.08 700.74h7.63v7.65h-7.63zM428.98 700.74h7.63v7.65h-7.63zM443.64 700.74h7.63v7.65h-7.63zM472.96 700.74h7.63v7.65h-7.63zM597.57 700.74h7.63v7.65h-7.63zM612.23 700.74h7.63v7.65h-7.63zM135.78 709.35h7.63v7.65h-7.63zM209.08 709.35h7.63v7.65h-7.63zM355.68 709.35h7.63v7.65h-7.63zM443.64 709.35h7.63v7.65h-7.63zM597.57 709.35h7.63v7.65h-7.63zM612.23 709.35h7.63v7.65h-7.63zM135.78 717.96h7.63v7.65h-7.63zM209.08 717.96h7.63v7.65h-7.63zM355.68 717.96h7.63v7.65h-7.63zM443.64 717.96h7.63v7.65h-7.63zM472.96 717.96h7.63v7.65h-7.63zM619.56 717.96h7.63v7.65h-7.63zM209.08 726.57h7.63v7.65h-7.63zM443.64 726.57h7.63v7.65h-7.63zM472.96 726.57h7.63v7.65h-7.63zM597.57 726.57h7.63v7.65h-7.63zM612.23 726.57h7.63v7.65h-7.63zM443.64 735.17h7.63v7.65h-7.63zM472.96 735.17h7.63v7.65h-7.63zM597.57 735.17h7.63v7.65h-7.63zM612.23 735.17h7.63v7.65h-7.63zM135.78 743.79h7.63v7.65h-7.63zM209.08 743.79h7.63v7.65h-7.63zM355.68 743.79h7.63v7.65h-7.63zM443.64 743.79h7.63v7.65h-7.63zM472.96 743.79h7.63v7.65h-7.63zM597.57 743.79h7.63v7.65h-7.63zM135.78 752.39h7.63v7.65h-7.63zM209.08 752.39h7.63v7.65h-7.63zM472.96 752.39h7.63v7.65h-7.63zM597.57 752.39h7.63v7.65h-7.63zM612.23 752.39h7.63v7.65h-7.63zM135.78 761h7.63v7.65h-7.63zM209.08 761h7.63v7.65h-7.63zM428.98 761h7.63v7.65h-7.63zM443.64 761h7.63v7.65h-7.63zM472.96 761h7.63v7.65h-7.63zM597.57 761h7.63v7.65h-7.63zM619.56 761h7.63v7.65h-7.63zM135.78 769.62h7.63v7.65h-7.63zM209.08 769.62h7.63v7.65h-7.63zM428.98 769.62h7.63v7.65h-7.63zM443.64 769.62h7.63v7.65h-7.63zM472.96 769.62h7.63v7.65h-7.63zM597.57 769.62h7.63v7.65h-7.63zM619.56 769.62h7.63v7.65h-7.63zM99.13 796.27h7.63v7.65h-7.63zM165.1 796.27h7.63v7.65h-7.63zM179.76 796.27h7.63v7.65h-7.63zM216.41 796.27h7.63v7.65h-7.63zM304.37 796.27h7.63v7.65h-7.63zM700.19 796.27h7.63v7.65h-7.63zM99.13 863.42h7.63v7.65h-7.63zM165.1 863.42h7.63v7.65h-7.63zM179.76 863.42h7.63v7.65h-7.63zM216.41 863.42h7.63v7.65h-7.63zM99.13 872.03h7.63v7.65h-7.63zM165.1 872.03h7.63v7.65h-7.63zM179.76 872.03h7.63v7.65h-7.63zM216.41 872.03h7.63v7.65h-7.63zM99.13 880.64h7.63v7.65h-7.63zM165.1 880.64h7.63v7.65h-7.63zM179.76 880.64h7.63v7.65h-7.63zM216.41 880.64h7.63v7.65h-7.63zM165.1 897.87h7.63v7.65h-7.63zM304.37 915.09h7.63v7.65h-7.63zM179.76 923.69h7.63v7.65h-7.63zM304.37 923.69h7.63v7.65h-7.63zM700.19 923.69h7.63v7.65h-7.63zM179.76 932.3h7.63v7.65h-7.63zM99.13 940.91h7.63v7.65h-7.63zM165.1 940.91h7.63v7.65h-7.63zM179.76 940.91h7.63v7.65h-7.63zM216.41 940.91h7.63v7.65h-7.63zM99.13 949.52h7.63v7.65h-7.63zM165.1 949.52h7.63v7.65h-7.63zM179.76 949.52h7.63v7.65h-7.63zM216.41 949.52h7.63v7.65h-7.63zM99.13 958.13h7.63v7.65h-7.63zM165.1 958.13h7.63v7.65h-7.63zM179.76 958.13h7.63v7.65h-7.63zM216.41 958.13h7.63v7.65h-7.63zM304.37 958.13h7.63v7.65h-7.63zM99.13 966.75h7.63v7.65h-7.63zM179.76 966.75h7.63v7.65h-7.63zM216.41 966.75h7.63v7.65h-7.63zM304.37 966.75h7.63v7.65h-7.63zM304.37 975.36h7.63v7.65h-7.63zM99.13 983.96h7.63v7.65h-7.63zM179.76 983.96h7.63v7.65h-7.63zM304.37 983.96h7.63v7.65h-7.63zM99.13 992.58h7.63v7.65h-7.63zM179.76 992.58h7.63v7.65h-7.63zM99.13 1001.18h7.63v7.65h-7.63zM179.76 1001.18h7.63v7.65h-7.63zM216.41 1001.18h7.63v7.65h-7.63zM179.76 1009.79h7.63v7.65h-7.63zM99.13 1018.4h7.63v7.65h-7.63zM179.76 1018.4h7.63v7.65h-7.63zM216.41 1018.4h7.63v7.65h-7.63zM304.37 1018.4h7.63v7.65h-7.63zM99.13 1027.02h7.63v7.65h-7.63zM179.76 1027.02h7.63v7.65h-7.63zM216.41 1027.02h7.63v7.65h-7.63zM304.37 1027.02h7.63v7.65h-7.63z"/>
<path fill="#22e022" d="M289.71 22.18h7.63v7.65h-7.63zM385 22.18h7.63v7.65h-7.63zM487.62 22.18h22.29v7.65h-22.29zM546.26 22.18h7.63v7.65h-7.63zM487.62 89.33h7.63v7.65h-7.63zM487.62 97.93h7.63v7.65h-7.63zM289.71 106.55h7.63v7.65h-7.63zM487.62 106.55h7.63v7.65h-7.63zM289.71 115.15h7.63v7.65h-7.63zM487.62 115.15h22.29v7.65h-22.29zM546.26 115.15h7.63v7.65h-7.63zM487.62 123.77h22.29v7.65h-22.29zM546.26 123.77h7.63v7.65h-7.63zM487.62 132.38h22.29v7.65h-22.29zM546.26 132.38h7.63v7.65h-7.63zM289.71 140.99h7.63v7.65h-7.63zM385 140.99h7.63v7.65h-7.63zM487.62 140.99h22.29v7.65h-22.29zM546.26 140.99h7.63v7.65h-7.63zM385 149.59h7.63v7.65h-7.63zM487.62 149.59h22.29v7.65h-22.29zM546.26 149.59h7.63v7.65h-7.63zM487.62 158.21h7.63v7.65h-7.63zM502.28 158.21h7.63v7.65h-7.63zM289.71 166.81h7.63v7.65h-7.63zM385 166.81h7.63v7.65h-7.63zM487.62 166.81h7.63v7.65h-7.63zM487.62 175.42h7.63v7.65h-7.63zM487.62 184.03h7.63v7.65h-7.63zM502.28 184.03h7.63v7.65h-7.63zM546.26 184.03h7.63v7.65h-7.63zM289.71 201.25h7.63v7.65h-7.63zM487.62 201.25h22.29v7.65h-22.29zM546.26 201.25h7.63v7.65h-7.63zM385 209.86h7.63v7.65h-7.63zM494.95 209.86h7.63v7.65h-7.63zM546.26 209.86h7.63v7.65h-7.63zM385 218.47h7.63v7.65h-7.63zM487.62 218.47h22.29v7.65h-22.29zM487.62 227.09h7.63v7.65h-7.63zM546.26 227.09h7.63v7.65h-7.63zM289.71 235.69h7.63v7.65h-7.63zM385 235.69h7.63v7.65h-7.63zM487.62 235.69h7.63v7.65h-7.63zM502.28 235.69h7.63v7.65h-7.63zM289.71 244.3h7.63v7.65h-7.63zM487.62 244.3h14.96v7.65h-14.96zM289.71 252.92h7.63v7.65h-7.63zM487.62 252.92h14.96v7.65h-14.96zM494.95 261.53h7.63v7.65h-7.63zM135.78 280.53h7.63v7.65h-7.63zM260.39 280.53h7.63v7.65h-7.63zM304.37 280.53h7.63v7.65h-7.63zM399.66 280.53h7.63v7.65h-7.63zM428.98 280.53h7.63v7.65h-7.63zM641.55 280.53h7.63v7.65h-7.63zM399.66 347.68h7.63v7.65h-7.63zM428.98 347.68h7.63v7.65h-7.63zM641.55 347.68h7.63v7.65h-7.63zM399.66 356.29h7.63v7.65h-7.63zM428.98 356.29h7.63v7.65h-7.63zM641.55 356.29h7.63v7.65h-7.63zM399.66 364.9h7.63v7.65h-7.63zM428.98 364.9h7.63v7.65h-7.63zM641.55 364.9h7.63v7.65h-7.63zM135.78 373.51h7.63v7.65h-7.63zM260.39 373.51h7.63v7.65h-7.63zM304.37 373.51h7.63v7.65h-7.63zM428.98 373.51h7.63v7.65h-7.63zM641.55 373.51h7.63v7.65h-7.63zM135.78 382.12h7.63v7.65h-7.63zM260.39 382.12h7.63v7.65h-7.63zM304.37 382.12h7.63v7.65h-7.63zM428.98 382.12h7.63v7.65h-7.63zM135.78 390.73h7.63v7.65h-7.63zM260.39 390.73h7.63v7.65h-7.63zM304.37 390.73h7.63v7.65h-7.63zM428.98 390.73h7.63v7.65h-7.63zM641.55 390.73h7.63v7.65h-7.63zM135.78 399.34h7.63v7.65h-7.63zM260.39 399.34h7.63v7.65h-7.63zM304.37 399.34h7.63v7.65h-7.63zM428.98 399.34h7.63v7.65h-7.63zM641.55 399.34h7.63v7.65h-7.63zM135.78 407.95h7.63v7.65h-7.63zM260.39 407.95h7.63v7.65h-7.63zM304.37 407.95h7.63v7.65h-7.63zM428.98 407.95h7.63v7.65h-7.63zM641.55 407.95h7.63v7.65h-7.63zM260.39 416.56h7.63v7.65h-7.63zM399.66 425.17h7.63v7.65h-7.63zM428.98 425.17h7.63v7.65h-7.63zM641.55 425.17h7.63v7.65h-7.63zM399.66 433.78h7.63v7.65h-7.63zM428.98 433.78h7.63v7.65h-7.63zM641.55 433.78h7.63v7.65h-7.63zM399.66 442.39h7.63v7.65h-7.63zM428.98 442.39h7.63v7.65h-7.63zM135.78 451h7.63v7.65h-7.63zM399.66 451h7.63v7.65h-7.63zM135.78 459.61h7.63v7.65h-7.63zM260.39 459.61h7.63v7.65h-7.63zM304.37 459.61h7.63v7.65h-7.63zM428.98 459.61h7.63v7.65h-7.63zM641.55 459.61h7.63v7.65h-7.63zM260.39 468.22h7.63v7.65h-7.63zM135.78 476.83h7.63v7.65h-7.63zM260.39 485.44h7.63v7.65h-7.63zM428.98 485.44h7.63v7.65h-7.63zM135.78 494.05h7.63v7.65h-7.63zM428.98 494.05h7.63v7.65h-7.63zM428.98 519.88h7.63v7.65h-7.63zM99.13 538.88h7.63v7.65h-7.63zM172.43 538.88h7.63v7.65h-7.63zM187.09 538.88h7.63v7.65h-7.63zM245.73 538.88h7.63v7.65h-7.63zM436.31 538.88h7.63v7.65h-7.63zM480.29 538.88h7.63v7.65h-7.63zM531.6 538.88h7.63v7.65h-7.63zM604.9 538.88h7.63v7.65h-7.63zM634.22 538.88h14.96v7.65h-14.96zM99.13 606.02h7.63v7.65h-7.63zM172.43 606.02h7.63v7.65h-7.63zM187.09 606.02h7.63v7.65h-7.63zM436.31 606.02h7.63v7.65h-7.63zM531.6 606.02h7.63v7.65h-7.63zM604.9 606.02h7.63v7.65h-7.63zM634.22 606.02h7.63v7.65h-7.63zM99.13 614.63h7.63v7.65h-7.63zM172.43 614.63h7.63v7.65h-7.63zM187.09 614.63h7.63v7.65h-7.63zM436.31 614.63h7.63v7.65h-7.63zM531.6 614.63h7.63v7.65h-7.63zM604.9 614.63h7.63v7.65h-7.63zM634.22 614.63h7.63v7.65h-7.63zM99.13 623.25h7.63v7.65h-7.63zM172.43 623.25h7.63v7.65h-7.63zM187.09 623.25h7.63v7.65h-7.63zM436.31 623.25h7.63v7.65h-7.63zM531.6 623.25h7.63v7.65h-7.63zM604.9 623.25h7.63v7.65h-7.63zM634.22 623.25h7.63v7.65h-7.63zM245.73 631.86h7.63v7.65h-7.63zM480.29 631.86h7.63v7.65h-7.63zM604.9 631.86h7.63v7.65h-7.63zM641.55 631.86h7.63v7.65h-7.63zM245.73 649.08h7.63v7.65h-7.63zM480.29 649.08h7.63v7.65h-7.63zM604.9 649.08h7.63v7.65h-7.63zM641.55 649.08h7.63v7.65h-7.63zM245.73 657.69h7.63v7.65h-7.63zM480.29 657.69h7.63v7.65h-7.63zM604.9 657.69h7.63v7.65h-7.63zM641.55 657.69h7.63v7.65h-7.63zM245.73 666.3h7.63v7.65h-7.63zM480.29 666.3h7.63v7.65h-7.63zM604.9 666.3h7.63v7.65h-7.63zM641.55 666.3h7.63v7.65h-7.63zM245.73 674.9h7.63v7.65h-7.63zM480.29 674.9h7.63v7.65h-7.63zM531.6 674.9h7.63v7.65h-7.63zM604.9 674.9h7.63v7.65h-7.63zM641.55 674.9h7.63v7.65h-7.63zM99.13 683.51h7.63v7.65h-7.63zM172.43 683.51h7.63v7.65h-7.63zM187.09 683.51h7.63v7.65h-7.63zM436.31 683.51h7.63v7.65h-7.63zM531.6 683.51h7.63v7.65h-7.63zM604.9 683.51h7.63v7.65h-7.63zM634.22 683.51h7.63v7.65h-7.63zM99.13 692.12h7.63v7.65h-7.63zM172.43 692.12h7.63v7.65h-7.63zM187.09 692.12h7.63v7.65h-7.63zM436.31 692.12h7.63v7.65h-7.63zM531.6 692.12h7.63v7.65h-7.63zM604.9 692.12h7.63v7.65h-7.63zM634.22 692.12h7.63v7.65h-7.63zM99.13 700.74h7.63v7.65h-7.63zM172.43 700.74h7.63v7.65h-7.63zM604.9 700.74h7.63v7.65h-7.63zM634.22 700.74h7.63v7.65h-7.63zM245.73 709.35h7.63v7.65h-7.63zM436.31 709.35h7.63v7.65h-7.63zM531.6 709.35h7.63v7.65h-7.63zM604.9 709.35h7.63v7.65h-7.63zM245.73 717.96h7.63v7.65h-7.63zM480.29 717.96h7.63v7.65h-7.63zM604.9 717.96h7.63v7.65h-7.63zM641.55 717.96h7.63v7.65h-7.63zM187.09 726.57h7.63v7.65h-7.63zM245.73 726.57h7.63v7.65h-7.63zM480.29 726.57h7.63v7.65h-7.63zM531.6 726.57h7.63v7.65h-7.63zM604.9 726.57h7.63v7.65h-7.63zM641.55 726.57h7.63v7.65h-7.63zM245.73 735.17h7.63v7.65h-7.63zM480.29 735.17h7.63v7.65h-7.63zM531.6 735.17h7.63v7.65h-7.63zM604.9 735.17h7.63v7.65h-7.63zM634.22 735.17h7.63v7.65h-7.63zM172.43 743.79h7.63v7.65h-7.63zM245.73 752.39h7.63v7.65h-7.63zM531.6 752.39h7.63v7.65h-7.63zM604.9 752.39h7.63v7.65h-7.63zM634.22 752.39h14.96v7.65h-14.96zM245.73 761h7.63v7.65h-7.63zM436.31 761h7.63v7.65h-7.63zM531.6 761h7.63v7.65h-7.63zM604.9 761h7.63v7.65h-7.63zM245.73 769.62h7.63v7.65h-7.63zM436.31 769.62h7.63v7.65h-7.63zM531.6 769.62h7.63v7.65h-7.63zM604.9 769.62h7.63v7.65h-7.63zM157.77 796.27h7.63v7.65h-7.63zM297.04 796.27h7.63v7.65h-7.63zM509.61 796.27h7.63v7.65h-7.63zM157.77 863.42h7.63v7.65h-7.63zM157.77 880.64h7.63v7.65h-7.63zM297.04 880.64h7.63v7.65h-7.63zM297.04 915.09h7.63v7.65h-7.63zM157.77 940.91h7.63v7.65h-7.63zM297.04 940.91h7.63v7.65h-7.63zM157.77 949.52h7.63v7.65h-7.63zM509.61 958.13h7.63v7.65h-7.63zM157.77 966.75h7.63v7.65h-7.63zM297.04 966.75h7.63v7.65h-7.63zM509.61 966.75h7.63v7.65h-7.63zM297.04 975.36h7.63v7.65h-7.63zM509.61 975.36h7.63v7.65h-7.63zM297.04 983.96h7.63v7.65h-7.63zM157.77 992.58h7.63v7.65h-7.63zM297.04 992.58h7.63v7.65h-7.63zM157.77 1009.79h7.63v7.65h-7.63zM297.04 1009.79h7.63v7.65h-7.63zM297.04 1018.4h7.63v7.65h-7.63zM509.61 1018.4h7.63v7.65h-7.63zM297.04 1027.02h7.63v7.65h-7.63zM509.61 1027.02h7.63v7.65h-7.63z"/>
<path fill="#f0a4a4" d="M304.37 22.18h7.63v7.65h-7.63zM304.37 106.55h7.63v7.65h-7.63zM304.37 115.15h7.63v7.65h-7.63zM304.37 166.81h7.63v7.65h-7.63zM304.37 201.25h7.63v7.65h-7.63zM304.37 235.69h7.63v7.65h-7.63zM304.37 244.3h7.63v7.65h-7.63zM304.37 252.92h7.63v7.65h-7.63zM187.09 280.53h7.63v7.65h-7.63zM648.88 280.53h7.63v7.65h-7.63zM187.09 347.68h7.63v7.65h-7.63zM648.88 347.68h7.63v7.65h-7.63zM187.09 356.29h7.63v7.65h-7.63zM648.88 356.29h7.63v7.65h-7.63zM187.09 364.9h7.63v7.65h-7.63zM648.88 364.9h7.63v7.65h-7.63zM187.09 425.17h7.63v7.65h-7.63zM648.88 425.17h7.63v7.65h-7.63zM187.09 433.78h7.63v7.65h-7.63zM648.88 433.78h7.63v7.65h-7.63zM187.09 442.39h7.63v7.65h-7.63zM648.88 442.39h7.63v7.65h-7.63zM187.09 468.22h7.63v7.65h-7.63zM187.09 502.66h7.63v7.65h-7.63zM187.09 511.27h7.63v7.65h-7.63zM414.32 796.27h7.63v7.65h-7.63zM414.32 889.25h7.63v7.65h-7.63zM414.32 915.09h7.63v7.65h-7.63zM414.32 958.13h7.63v7.65h-7.63zM414.32 966.75h7.63v7.65h-7.63zM414.32 975.36h7.63v7.65h-7.63zM414.32 1018.4h7.63v7.65h-7.63zM414.32 1027.02h7.63v7.65h-7.63z"/>
<path fill="#32c070" d="M311.7 22.18h7.63v7.65h-7.63zM311.7 106.55h7.63v7.65h-7.63zM311.7 115.15h7.63v7.65h-7.63zM311.7 140.99h7.63v7.65h-7.63zM311.7 166.81h7.63v7.65h-7.63zM311.7 201.25h7.63v7.65h-7.63zM311.7 235.69h7.63v7.65h-7.63zM311.7 244.3h7.63v7.65h-7.63zM311.7 252.92h7.63v7.65h-7.63zM157.77 280.53h7.63v7.65h-7.63zM157.77 347.68h7.63v7.65h-7.63zM157.77 356.29h7.63v7.65h-7.63zM157.77 364.9h7.63v7.65h-7.63zM157.77 373.51h7.63v7.65h-7.63zM157.77 382.12h7.63v7.65h-7.63zM157.77 390.73h7.63v7.65h-7.63zM157.77 399.34h7.63v7.65h-7.63zM157.77 407.95h7.63v7.65h-7.63zM157.77 425.17h7.63v7.65h-7.63zM157.77 433.78h7.63v7.65h-7.63zM157.77 459.61h7.63v7.65h-7.63zM157.77 468.22h7.63v7.65h-7.63zM157.77 519.88h7.63v7.65h-7.63zM450.97 538.88h7.63v7.65h-7.63zM450.97 674.9h7.63v7.65h-7.63zM450.97 709.35h7.63v7.65h-7.63zM450.97 726.57h7.63v7.65h-7.63zM450.97 735.17h7.63v7.65h-7.63zM450.97 743.79h7.63v7.65h-7.63zM450.97 752.39h7.63v7.65h-7.63zM450.97 761h7.63v7.65h-7.63zM450.97 769.62h7.63v7.65h-7.63zM421.65 796.27h7.63v7.65h-7.63zM487.62 796.27h7.63v7.65h-7.63zM421.65 889.25h7.63v7.65h-7.63zM487.62 889.25h7.63v7.65h-7.63zM421.65 915.09h7.63v7.65h-7.63zM487.62 915.09h7.63v7.65h-7.63zM421.65 958.13h7.63v7.65h-7.63zM487.62 958.13h7.63v7.65h-7.63zM421.65 966.75h7.63v7.65h-7.63zM487.62 966.75h7.63v7.65h-7.63zM421.65 975.36h7.63v7.65h-7.63zM487.62 975.36h7.63v7.65h-7.63zM421.65 1018.4h7.63v7.65h-7.63zM487.62 1018.4h7.63v7.65h-7.63zM421.65 1027.02h7.63v7.65h-7.63zM487.62 1027.02h7.63v7.65h-7.63z"/>
<path fill="#f2de72" d="M355.68 22.18h7.63v7.65h-7.63zM355.68 97.93h7.63v7.65h-7.63zM355.68 115.15h7.63v7.65h-7.63zM355.68 166.81h7.63v7.65h-7.63zM355.68 235.69h7.63v7.65h-7.63zM355.68 244.3h7.63v7.65h-7.63zM355.68 252.92h7.63v7.65h-7.63zM106.46 280.53h7.63v7.65h-7.63zM458.3 280.53h7.63v7.65h-7.63zM106.46 313.24h7.63v7.65h-7.63zM106.46 347.68h7.63v7.65h-7.63zM458.3 347.68h7.63v7.65h-7.63zM106.46 356.29h7.63v7.65h-7.63zM458.3 356.29h7.63v7.65h-7.63zM106.46 364.9h7.63v7.65h-7.63zM458.3 364.9h7.63v7.65h-7.63zM106.46 373.51h7.63v7.65h-7.63zM458.3 373.51h7.63v7.65h-7.63zM106.46 382.12h7.63v7.65h-7.63zM458.3 382.12h7.63v7.65h-7.63zM106.46 390.73h7.63v7.65h-7.63zM458.3 390.73h7.63v7.65h-7.63zM106.46 399.34h7.63v7.65h-7.63zM458.3 399.34h7.63v7.65h-7.63zM106.46 407.95h7.63v7.65h-7.63zM458.3 407.95h7.63v7.65h-7.63zM106.46 425.17h7.63v7.65h-7.63zM458.3 425.17h7.63v7.65h-7.63zM106.46 433.78h7.63v7.65h-7.63zM458.3 433.78h7.63v7.65h-7.63zM106.46 442.39h7.63v7.65h-7.63zM458.3 442.39h7.63v7.65h-7.63zM106.46 451h7.63v7.65h-7.63zM106.46 459.61h7.63v7.65h-7.63zM458.3 459.61h7.63v7.65h-7.63zM106.46 468.22h7.63v7.65h-7.63zM106.46 476.83h7.63v7.65h-7.63zM106.46 485.44h7.63v7.65h-7.63zM106.46 494.05h7.63v7.65h-7.63zM106.46 502.66h7.63v7.65h-7.63zM106.46 511.27h7.63v7.65h-7.63zM458.3 519.88h7.63v7.65h-7.63zM267.72 538.88h7.63v7.65h-7.63zM267.72 606.02h7.63v7.65h-7.63zM267.72 614.63h7.63v7.65h-7.63zM267.72 623.25h7.63v7.65h-7.63zM267.72 674.9h7.63v7.65h-7.63zM267.72 683.51h7.63v7.65h-7.63zM267.72 692.12h7.63v7.65h-7.63zM267.72 700.74h7.63v7.65h-7.63zM150.44 796.27h7.63v7.65h-7.63zM348.35 796.27h7.63v7.65h-7.63zM150.44 863.42h7.63v7.65h-7.63zM150.44 880.64h7.63v7.65h-7.63zM150.44 889.25h7.63v7.65h-7.63zM348.35 889.25h7.63v7.65h-7.63zM150.44 906.48h7.63v7.65h-7.63zM150.44 915.09h7.63v7.65h-7.63zM348.35 915.09h7.63v7.65h-7.63zM150.44 923.69h7.63v7.65h-7.63zM150.44 940.91h7.63v7.65h-7.63zM150.44 949.52h7.63v7.65h-7.63zM150.44 958.13h7.63v7.65h-7.63zM348.35 958.13h7.63v7.65h-7.63zM150.44 966.75h7.63v7.65h-7.63zM348.35 966.75h7.63v7.65h-7.63zM150.44 975.36h7.63v7.65h-7.63zM348.35 975.36h7.63v7.65h-7.63zM150.44 983.96h7.63v7.65h-7.63zM150.44 992.58h7.63v7.65h-7.63zM150.44 1001.18h7.63v7.65h-7.63zM150.44 1009.79h7.63v7.65h-7.63zM150.44 1018.4h7.63v7.65h-7.63zM348.35 1018.4h7.63v7.65h-7.63zM150.44 1027.02h7.63v7.65h-7.63zM348.35 1027.02h7.63v7.65h-7.63z"/>
<path fill="#a2ea38" d="M377.67 22.18h7.63v7.65h-7.63zM399.66 22.18h7.63v7.65h-7.63zM377.67 46.27h7.63v7.65h-7.63zM399.66 46.27h7.63v7.65h-7.63zM377.67 89.33h7.63v7.65h-7.63zM399.66 89.33h7.63v7.65h-7.63zM377.67 97.93h7.63v7.65h-7.63zM399.66 97.93h7.63v7.65h-7.63zM377.67 106.55h7.63v7.65h-7.63zM399.66 106.55h7.63v7.65h-7.63zM377.67 115.15h7.63v7.65h-7.63zM399.66 115.15h7.63v7.65h-7.63zM399.66 123.77h7.63v7.65h-7.63zM377.67 132.38h7.63v7.65h-7.63zM399.66 132.38h7.63v7.65h-7.63zM377.67 140.99h7.63v7.65h-7.63zM399.66 140.99h7.63v7.65h-7.63zM377.67 149.59h7.63v7.65h-7.63zM399.66 149.59h7.63v7.65h-7.63zM377.67 158.21h7.63v7.65h-7.63zM399.66 158.21h7.63v7.65h-7.63zM377.67 166.81h7.63v7.65h-7.63zM399.66 166.81h7.63v7.65h-7.63zM377.67 175.42h7.63v7.65h-7.63zM399.66 175.42h7.63v7.65h-7.63zM377.67 184.03h7.63v7.65h-7.63zM399.66 184.03h7.63v7.65h-7.63zM377.67 201.25h7.63v7.65h-7.63zM399.66 201.25h7.63v7.65h-7.63zM377.67 209.86h7.63v7.65h-7.63zM399.66 209.86h7.63v7.65h-7.63zM377.67 218.47h7.63v7.65h-7.63zM399.66 218.47h7.63v7.65h-7.63zM377.67 235.69h7.63v7.65h-7.63zM399.66 235.69h7.63v7.65h-7.63zM377.67 244.3h7.63v7.65h-7.63zM399.66 244.3h7.63v7.65h-7.63zM377.67 252.92h7.63v7.65h-7.63zM399.66 252.92h7.63v7.65h-7.63zM377.67 261.53h7.63v7.65h-7.63zM399.66 261.53h7.63v7.65h-7.63zM194.42 538.88h7.63v7.65h-7.63zM524.27 538.88h7.63v7.65h-7.63zM670.87 538.88h7.63v7.65h-7.63zM751.5 538.88h7.63v7.65h-7.63zM194.42 580.2h7.63v7.65h-7.63zM751.5 588.81h7.63v7.65h-7.63zM194.42 606.02h7.63v7.65h-7.63zM524.27 606.02h7.63v7.65h-7.63zM670.87 606.02h7.63v7.65h-7.63zM751.5 606.02h7.63v7.65h-7.63zM194.42 614.63h7.63v7.65h-7.63zM524.27 614.63h7.63v7.65h-7.63zM670.87 614.63h7.63v7.65h-7.63zM751.5 614.63h7.63v7.65h-7.63zM194.42 623.25h7.63v7.65h-7.63zM524.27 623.25h7.63v7.65h-7.63zM670.87 623.25h7.63v7.65h-7.63zM751.5 623.25h7.63v7.65h-7.63zM194.42 631.86h7.63v7.65h-7.63zM751.5 631.86h7.63v7.65h-7.63zM194.42 649.08h7.63v7.65h-7.63zM751.5 649.08h7.63v7.65h-7.63zM194.42 657.69h7.63v7.65h-7.63zM751.5 657.69h7.63v7.65h-7.63zM194.42 666.3h7.63v7.65h-7.63zM751.5 666.3h7.63v7.65h-7.63zM194.42 674.9h7.63v7.65h-7.63zM670.87 674.9h7.63v7.65h-7.63zM751.5 674.9h7.63v7.65h-7.63zM194.42 683.51h7.63v7.65h-7.63zM524.27 683.51h7.63v7.65h-7.63zM670.87 683.51h7.63v7.65h-7.63zM751.5 683.51h7.63v7.65h-7.63zM194.42 692.12h7.63v7.65h-7.63zM524.27 692.12h7.63v7.65h-7.63zM670.87 692.12h7.63v7.65h-7.63zM751.5 692.12h7.63v7.65h-7.63zM194.42 700.74h7.63v7.65h-7.63zM524.27 700.74h7.63v7.65h-7.63zM670.87 700.74h7.63v7.65h-7.63zM751.5 700.74h7.63v7.65h-7.63zM194.42 709.35h7.63v7.65h-7.63zM524.27 709.35h7.63v7.65h-7.63zM670.87 709.35h7.63v7.65h-7.63zM751.5 709.35h7.63v7.65h-7.63zM194.42 717.96h7.63v7.65h-7.63zM751.5 717.96h7.63v7.65h-7.63zM194.42 726.57h7.63v7.65h-7.63zM751.5 726.57h7.63v7.65h-7.63zM524.27 735.17h7.63v7.65h-7.63zM670.87 735.17h7.63v7.65h-7.63zM751.5 735.17h7.63v7.65h-7.63zM194.42 743.79h7.63v7.65h-7.63zM751.5 743.79h7.63v7.65h-7.63zM194.42 752.39h7.63v7.65h-7.63zM670.87 752.39h7.63v7.65h-7.63zM751.5 752.39h7.63v7.65h-7.63zM194.42 761h7.63v7.65h-7.63zM524.27 761h7.63v7.65h-7.63zM670.87 761h7.63v7.65h-7.63zM751.5 761h7.63v7.65h-7.63zM194.42 769.62h7.63v7.65h-7.63zM524.27 769.62h7.63v7.65h-7.63zM670.87 769.62h7.63v7.65h-7.63zM751.5 769.62h7.63v7.65h-7.63zM187.09 796.27h7.63v7.65h-7.63zM253.06 796.27h7.63v7.65h-7.63zM450.97 796.27h7.63v7.65h-7.63zM253.06 854.82h7.63v7.65h-7.63zM187.09 863.42h7.63v7.65h-7.63zM253.06 863.42h7.63v7.65h-7.63zM253.06 872.03h7.63v7.65h-7.63zM187.09 880.64h7.63v7.65h-7.63zM253.06 880.64h7.63v7.65h-7.63zM253.06 889.25h7.63v7.65h-7.63zM450.97 889.25h7.63v7.65h-7.63zM253.06 906.48h7.63v7.65h-7.63zM253.06 915.09h7.63v7.65h-7.63zM450.97 915.09h7.63v7.65h-7.63zM187.09 940.91h7.63v7.65h-7.63zM253.06 940.91h7.63v7.65h-7.63zM187.09 949.52h7.63v7.65h-7.63zM253.06 949.52h7.63v7.65h-7.63zM253.06 958.13h7.63v7.65h-7.63zM450.97 958.13h7.63v7.65h-7.63zM187.09 966.75h7.63v7.65h-7.63zM253.06 966.75h7.63v7.65h-7.63zM450.97 966.75h7.63v7.65h-7.63zM253.06 975.36h7.63v7.65h-7.63zM450.97 975.36h7.63v7.65h-7.63zM253.06 983.96h7.63v7.65h-7.63zM253.06 992.58h7.63v7.65h-7.63zM253.06 1001.18h7.63v7.65h-7.63zM187.09 1009.79h7.63v7.65h-7.63zM253.06 1009.79h7.63v7.65h-7.63zM253.06 1018.4h7.63v7.65h-7.63zM450.97 1018.4h7.63v7.65h-7.63zM253.06 1027.02h7.63v7.65h-7.63zM450.97 1027.02h7.63v7.65h-7.63z"/>
<path fill="#6cb8ec" d="M472.96 22.18h7.63v7.65h-7.63zM472.96 46.27h7.63v7.65h-7.63zM472.96 89.33h7.63v7.65h-7.63zM472.96 97.93h7.63v7.65h-7.63zM472.96 106.55h7.63v7.65h-7.63zM472.96 115.15h7.63v7.65h-7.63zM472.96 123.77h7.63v7.65h-7.63zM472.96 132.38h7.63v7.65h-7.63zM472.96 140.99h7.63v7.65h-7.63zM472.96 149.59h7.63v7.65h-7.63zM472.96 158.21h7.63v7.65h-7.63zM472.96 166.81h7.63v7.65h-7.63zM472.96 175.42h7.63v7.65h-7.63zM472.96 184.03h7.63v7.65h-7.63zM472.96 201.25h7.63v7.65h-7.63zM472.96 209.86h7.63v7.65h-7.63zM472.96 218.47h7.63v7.65h-7.63zM472.96 227.09h7.63v7.65h-7.63zM472.96 235.69h7.63v7.65h-7.63zM472.96 244.3h7.63v7.65h-7.63zM472.96 252.92h7.63v7.65h-7.63zM472.96 261.53h7.63v7.65h-7.63zM480.29 280.53h7.63v7.65h-7.63zM480.29 347.68h7.63v7.65h-7.63zM480.29 356.29h7.63v7.65h-7.63zM480.29 364.9h7.63v7.65h-7.63zM480.29 425.17h7.63v7.65h-7.63zM480.29 433.78h7.63v7.65h-7.63zM480.29 442.39h7.63v7.65h-7.63zM744.17 796.27h7.63v7.65h-7.63zM744.17 923.69h7.63v7.65h-7.63z"/>
<path fill="#f68c22" d="M516.94 22.18h7.63v7.65h-7.63zM626.89 22.18h7.63v7.65h-7.63zM744.17 22.18h7.63v7.65h-7.63zM516.94 89.33h7.63v7.65h-7.63zM744.17 89.33h7.63v7.65h-7.63zM516.94 97.93h7.63v7.65h-7.63zM744.17 97.93h7.63v7.65h-7.63zM516.94 106.55h7.63v7.65h-7.63zM744.17 106.55h7.63v7.65h-7.63zM516.94 115.15h7.63v7.65h-7.63zM626.89 115.15h7.63v7.65h-7.63zM516.94 123.77h7.63v7.65h-7.63zM626.89 123.77h7.63v7.65h-7.63zM516.94 132.38h7.63v7.65h-7.63zM626.89 132.38h7.63v7.65h-7.63zM516.94 140.99h7.63v7.65h-7.63zM626.89 140.99h7.63v7.65h-7.63zM516.94 149.59h7.63v7.65h-7.63zM626.89 149.59h7.63v7.65h-7.63zM516.94 158.21h7.63v7.65h-7.63zM516.94 166.81h7.63v7.65h-7.63zM744.17 166.81h7.63v7.65h-7.63zM516.94 175.42h7.63v7.65h-7.63zM744.17 175.42h7.63v7.65h-7.63zM516.94 184.03h7.63v7.65h-7.63zM626.89 184.03h7.63v7.65h-7.63zM744.17 184.03h7.63v7.65h-7.63zM516.94 201.25h7.63v7.65h-7.63zM626.89 201.25h7.63v7.65h-7.63zM516.94 209.86h7.63v7.65h-7.63zM626.89 209.86h7.63v7.65h-7.63zM516.94 218.47h7.63v7.65h-7.63zM516.94 235.69h7.63v7.65h-7.63zM516.94 244.3h7.63v7.65h-7.63zM744.17 244.3h7.63v7.65h-7.63zM516.94 252.92h7.63v7.65h-7.63zM744.17 252.92h7.63v7.65h-7.63zM516.94 261.53h7.63v7.65h-7.63zM626.89 261.53h7.63v7.65h-7.63zM414.32 280.53h7.63v7.65h-7.63zM714.85 280.53h7.63v7.65h-7.63zM414.32 373.51h7.63v7.65h-7.63zM714.85 373.51h7.63v7.65h-7.63zM414.32 382.12h7.63v7.65h-7.63zM414.32 390.73h7.63v7.65h-7.63zM714.85 390.73h7.63v7.65h-7.63zM414.32 399.34h7.63v7.65h-7.63zM714.85 399.34h7.63v7.65h-7.63zM414.32 407.95h7.63v7.65h-7.63zM714.85 407.95h7.63v7.65h-7.63zM414.32 459.61h7.63v7.65h-7.63zM714.85 459.61h7.63v7.65h-7.63zM714.85 468.22h7.63v7.65h-7.63zM414.32 494.05h7.63v7.65h-7.63zM714.85 502.66h7.63v7.65h-7.63zM714.85 511.27h7.63v7.65h-7.63zM128.45 538.88h7.63v7.65h-7.63zM304.37 538.88h7.63v7.65h-7.63zM758.83 538.88h7.63v7.65h-7.63zM128.45 631.86h7.63v7.65h-7.63zM304.37 631.86h7.63v7.65h-7.63zM758.83 631.86h7.63v7.65h-7.63zM128.45 640.47h7.63v7.65h-7.63zM304.37 640.47h7.63v7.65h-7.63zM128.45 649.08h7.63v7.65h-7.63zM304.37 649.08h7.63v7.65h-7.63zM758.83 649.08h7.63v7.65h-7.63zM128.45 657.69h7.63v7.65h-7.63zM304.37 657.69h7.63v7.65h-7.63zM758.83 657.69h7.63v7.65h-7.63zM128.45 666.3h7.63v7.65h-7.63zM304.37 666.3h7.63v7.65h-7.63zM758.83 666.3h7.63v7.65h-7.63zM758.83 700.74h7.63v7.65h-7.63zM758.83 709.35h7.63v7.65h-7.63zM128.45 717.96h7.63v7.65h-7.63zM304.37 717.96h7.63v7.65h-7.63zM758.83 717.96h7.63v7.65h-7.63zM128.45 735.17h7.63v7.65h-7.63zM128.45 761h7.63v7.65h-7.63zM304.37 761h7.63v7.65h-7.63zM128.45 769.62h7.63v7.65h-7.63zM304.37 769.62h7.63v7.65h-7.63zM363.01 796.27h7.63v7.65h-7.63zM538.93 796.27h7.63v7.65h-7.63zM363.01 889.25h7.63v7.65h-7.63zM538.93 897.87h7.63v7.65h-7.63zM363.01 915.09h7.63v7.65h-7.63zM363.01 949.52h7.63v7.65h-7.63zM363.01 958.13h7.63v7.65h-7.63zM538.93 958.13h7.63v7.65h-7.63zM363.01 966.75h7.63v7.65h-7.63zM363.01 975.36h7.63v7.65h-7.63zM363.01 983.96h7.63v7.65h-7.63zM363.01 1018.4h7.63v7.65h-7.63zM538.93 1018.4h7.63v7.65h-7.63zM363.01 1027.02h7.63v7.65h-7.63zM538.93 1027.02h7.63v7.65h-7.63z"/>
<path fill="#1edee2" d="M179.76 538.88h7.63v7.65h-7.63zM494.95 538.88h7.63v7.65h-7.63zM179.76 580.2h7.63v7.65h-7.63zM494.95 606.02h7.63v7.65h-7.63zM494.95 614.63h7.63v7.65h-7.63zM494.95 623.25h7.63v7.65h-7.63zM179.76 631.86h7.63v7.65h-7.63zM179.76 649.08h7.63v7.65h-7.63zM179.76 657.69h7.63v7.65h-7.63zM179.76 666.3h7.63v7.65h-7.63zM179.76 674.9h7.63v7.65h-7.63zM494.95 683.51h7.63v7.65h-7.63zM494.95 692.12h7.63v7.65h-7.63zM179.76 700.74h7.63v7.65h-7.63zM494.95 700.74h7.63v7.65h-7.63zM179.76 709.35h7.63v7.65h-7.63zM179.76 717.96h7.63v7.65h-7.63zM179.76 726.57h7.63v7.65h-7.63zM494.95 726.57h7.63v7.65h-7.63zM494.95 735.17h7.63v7.65h-7.63zM179.76 743.79h7.63v7.65h-7.63zM179.76 752.39h7.63v7.65h-7.63zM179.76 761h7.63v7.65h-7.63zM494.95 761h7.63v7.65h-7.63zM179.76 769.62h7.63v7.65h-7.63zM494.95 769.62h7.63v7.65h-7.63zM524.27 796.27h7.63v7.65h-7.63zM524.27 958.13h7.63v7.65h-7.63zM524.27 966.75h7.63v7.65h-7.63zM524.27 1018.4h7.63v7.65h-7.63zM524.27 1027.02h7.63v7.65h-7.63z"/>
<path fill="url(#h0)" d="M99.13 22.18h21.99v7.65h-21.99zM143.11 22.18h29.32v7.65h-29.32zM179.76 22.18h7.33v7.65h-7.33zM209.08 22.18h7.33v7.65h-7.33zM538.93 22.18h7.33v7.65h-7.33zM641.55 22.18h7.33v7.65h-7.33zM685.53 22.18h7.33v7.65h-7.33z"/>
<path fill="url(#h1)" d="M143.11 280.53h7.33v7.65h-7.33zM267.72 280.53h7.33v7.65h-7.33zM319.03 280.53h7.33v7.65h-7.33zM377.67 280.53h7.33v7.65h-7.33zM597.57 280.53h7.33v7.65h-7.33zM722.18 280.53h7.33v7.65h-7.33z"/>
<path fill="url(#h2)" d="M377.67 538.88h7.33v7.65h-7.33zM590.24 538.88h7.33v7.65h-7.33zM678.2 538.88h7.33v7.65h-7.33z"/>
<path fill="url(#h3)" d="M209.08 796.27h7.33v7.65h-7.33zM546.26 796.27h29.32v7.65h-29.32zM582.91 796.27h65.97v7.65h-65.97zM656.21 796.27h21.99v7.65h-21.99z"/>
<path fill="#222" d="M91.8 40.9h681.69v0.7h-681.69zM91.8 299.25h681.69v0.7h-681.69zM91.8 557.6h681.69v0.7h-681.69zM91.8 815h674.36v0.7h-674.36z"/>
<path fill="#00a400" d="M91.8 31.6h29.32v10h-29.32zM450.97 31.6h7.33v10h-7.33zM465.63 31.6h7.33v10h-7.33zM626.89 548.3h7.33v10h-7.33zM648.88 548.3h7.33v10h-7.33zM692.86 548.3h7.33v10h-7.33zM678.2 805.7h87.96v10h-87.96z"/>
<path fill="#a8a800" d="M223.74 35.48h7.33v6.12h-7.33zM231.07 36.96h7.33v4.64h-7.33zM238.4 35.29h7.33v6.31h-7.33zM245.73 36.81h14.66v4.79h-14.66zM260.39 37.23h14.66v4.37h-14.66zM275.05 36.84h7.33v4.76h-7.33zM282.38 37.35h7.33v4.25h-7.33zM289.71 37.48h7.33v4.12h-7.33zM311.7 37.48h7.33v4.12h-7.33zM326.36 37.48h7.33v4.12h-7.33zM370.34 35.2h7.33v6.4h-7.33zM377.67 33.06h7.33v8.54h-7.33zM392.33 35.73h7.33v5.87h-7.33zM399.66 32.97h21.99v8.63h-21.99zM421.65 32.11h7.33v9.49h-7.33zM428.98 33.75h7.33v7.85h-7.33zM443.64 32.11h7.33v9.49h-7.33zM458.3 37.98h7.33v3.62h-7.33zM472.96 32.11h14.66v9.49h-14.66zM487.62 33.91h7.33v7.69h-7.33zM494.95 37.82h7.33v3.78h-7.33zM502.28 37.68h7.33v3.92h-7.33zM516.94 33.06h7.33v8.54h-7.33zM524.27 37.2h7.33v4.4h-7.33zM560.92 36.72h7.33v4.88h-7.33zM692.86 37.34h7.33v4.26h-7.33zM722.18 38.01h7.33v3.59h-7.33zM729.51 35.44h7.33v6.16h-7.33zM751.5 38.1h7.33v3.5h-7.33zM758.83 37.3h7.33v4.3h-7.33zM91.8 295.22h7.33v4.73h-7.33zM106.46 291.32h7.33v8.63h-7.33zM113.79 291.28h7.33v8.67h-7.33zM150.44 294.45h7.33v5.5h-7.33zM157.77 295.55h7.33v4.4h-7.33zM209.08 293.07h7.33v6.88h-7.33zM231.07 290.5h7.33v9.45h-7.33zM245.73 296.17h7.33v3.78h-7.33zM253.06 294.26h7.33v5.69h-7.33zM282.38 296.17h7.33v3.78h-7.33zM297.04 293.07h7.33v6.88h-7.33zM355.68 296.41h7.33v3.54h-7.33zM370.34 293.79h7.33v6.16h-7.33zM421.65 293.81h7.33v6.14h-7.33zM428.98 294.5h7.33v5.45h-7.33zM450.97 296.41h7.33v3.54h-7.33zM458.3 295.74h7.33v4.21h-7.33zM472.96 295.6h7.33v4.35h-7.33zM524.27 293.64h7.33v6.31h-7.33zM560.92 295.87h7.33v4.08h-7.33zM619.56 293.92h7.33v6.03h-7.33zM634.22 296.28h7.33v3.67h-7.33zM641.55 296.08h7.33v3.87h-7.33zM663.54 294.97h7.33v4.98h-7.33zM685.53 290.55h7.33v9.4h-7.33zM692.86 291.5h7.33v8.45h-7.33zM700.19 292.23h7.33v7.72h-7.33zM707.52 295.87h7.33v4.08h-7.33zM751.5 295.23h7.33v4.72h-7.33zM113.79 553.85h7.33v4.45h-7.33zM135.78 549.85h7.33v8.45h-7.33zM143.11 554.16h7.33v4.14h-7.33zM165.1 553.43h7.33v4.87h-7.33zM179.76 552.94h7.33v5.36h-7.33zM194.42 549.6h7.33v8.7h-7.33zM201.75 548.7h7.33v9.6h-7.33zM209.08 548.85h7.33v9.45h-7.33zM216.41 549.76h7.33v8.54h-7.33zM223.74 549.61h7.33v8.69h-7.33zM231.07 554.22h7.33v4.08h-7.33zM238.4 553.27h7.33v5.03h-7.33zM245.73 553.64h7.33v4.66h-7.33zM289.71 554.48h7.33v3.82h-7.33zM311.7 554.01h7.33v4.29h-7.33zM319.03 554.22h7.33v4.08h-7.33zM355.68 553.64h7.33v4.66h-7.33zM385 553.48h7.33v4.82h-7.33zM443.64 549.85h7.33v8.45h-7.33zM458.3 548.9h7.33v9.4h-7.33zM472.96 549.85h7.33v8.45h-7.33zM487.62 554.9h7.33v3.4h-7.33zM494.95 553.64h7.33v4.66h-7.33zM509.61 554.85h7.33v3.45h-7.33zM531.6 553.32h7.33v4.98h-7.33zM538.93 549.85h7.33v8.45h-7.33zM560.92 552.32h7.33v5.98h-7.33zM568.25 552.9h7.33v5.4h-7.33zM582.91 553.11h7.33v5.19h-7.33zM597.57 552.58h7.33v5.72h-7.33zM604.9 549.85h7.33v8.45h-7.33zM612.23 554.43h7.33v3.87h-7.33zM619.56 554.9h7.33v3.4h-7.33zM656.21 548.85h7.33v9.45h-7.33zM663.54 552.19h7.33v6.11h-7.33zM670.87 553.89h7.33v4.41h-7.33zM678.2 553.61h7.33v4.69h-7.33zM685.53 552.7h7.33v5.6h-7.33zM722.18 553.47h7.33v4.83h-7.33zM729.51 549.76h7.33v8.54h-7.33zM736.84 552.42h7.33v5.88h-7.33zM744.17 549.6h7.33v8.7h-7.33zM751.5 548.85h7.33v9.45h-7.33zM766.16 554.22h7.33v4.08h-7.33zM91.8 810.72h7.33v4.98h-7.33zM99.13 811.14h7.33v4.56h-7.33zM106.46 811.67h7.33v4.03h-7.33zM113.79 811.3h7.33v4.4h-7.33zM121.12 807.09h7.33v8.61h-7.33zM128.45 809.67h7.33v6.03h-7.33zM143.11 809.82h7.33v5.88h-7.33zM150.44 808.14h7.33v7.56h-7.33zM179.76 809.46h7.33v6.24h-7.33zM216.41 812.13h7.33v3.57h-7.33zM223.74 808.14h7.33v7.56h-7.33zM238.4 810.83h7.33v4.87h-7.33zM245.73 811.3h7.33v4.4h-7.33zM253.06 807.97h7.33v7.73h-7.33zM260.39 806.1h7.33v9.6h-7.33zM275.05 807.81h7.33v7.89h-7.33zM282.38 807.86h7.33v7.84h-7.33zM289.71 808.67h7.33v7.03h-7.33zM297.04 812.14h7.33v3.56h-7.33zM363.01 812.1h7.33v3.6h-7.33zM370.34 812.02h7.33v3.68h-7.33zM385 811.08h7.33v4.62h-7.33zM465.63 811.01h7.33v4.69h-7.33zM472.96 811.21h7.33v4.49h-7.33zM480.29 811.24h7.33v4.46h-7.33zM487.62 811.8h7.33v3.9h-7.33zM494.95 811.21h7.33v4.49h-7.33z"/>
<path fill="#ff0000" d="M121.12 39.6h21.99v2h-21.99zM157.77 40.13h7.33v1.47h-7.33zM165.1 39.87h7.33v1.73h-7.33zM172.43 39.59h7.33v2.01h-7.33zM179.76 39.71h7.33v1.89h-7.33zM187.09 38.79h7.33v2.81h-7.33zM194.42 38.47h7.33v3.13h-7.33zM201.75 38.84h7.33v2.76h-7.33zM209.08 39.12h7.33v2.48h-7.33zM216.41 38.51h7.33v3.09h-7.33zM297.04 38.38h14.66v3.22h-14.66zM319.03 38.38h7.33v3.22h-7.33zM333.69 41h7.33v0.6h-7.33zM341.02 40.5h7.33v1.1h-7.33zM348.35 39.18h7.33v2.42h-7.33zM355.68 38.81h7.33v2.79h-7.33zM363.01 38.23h7.33v3.37h-7.33zM385 39.45h7.33v2.15h-7.33zM509.61 38.49h7.33v3.11h-7.33zM531.6 39.3h7.33v2.3h-7.33zM538.93 39.15h7.33v2.45h-7.33zM546.26 38.44h7.33v3.16h-7.33zM553.59 38.68h7.33v2.92h-7.33zM568.25 38.58h7.33v3.02h-7.33zM575.58 38.72h7.33v2.88h-7.33zM582.91 39.25h7.33v2.35h-7.33zM626.89 38.96h7.33v2.64h-7.33zM634.22 38.77h7.33v2.83h-7.33zM641.55 40.15h7.33v1.45h-7.33zM648.88 40.9h7.33v0.7h-7.33zM656.21 41.09h7.33v0.51h-7.33zM670.87 40.3h7.33v1.3h-7.33zM678.2 39.58h7.33v2.02h-7.33zM685.53 39.01h7.33v2.59h-7.33zM700.19 39.3h7.33v2.3h-7.33zM707.52 39.53h7.33v2.07h-7.33zM714.85 38.25h7.33v3.35h-7.33zM736.84 38.72h7.33v2.88h-7.33zM744.17 38.96h7.33v2.64h-7.33zM766.16 38.77h7.33v2.83h-7.33zM121.12 296.76h7.33v3.19h-7.33zM128.45 296.69h7.33v3.26h-7.33zM135.78 296.79h7.33v3.16h-7.33zM143.11 298.07h7.33v1.88h-7.33zM187.09 296.74h7.33v3.21h-7.33zM194.42 297.12h7.33v2.83h-7.33zM201.75 297.07h7.33v2.88h-7.33zM216.41 297.55h7.33v2.4h-7.33zM223.74 297.84h7.33v2.11h-7.33zM238.4 296.98h7.33v2.97h-7.33zM260.39 297.07h7.33v2.88h-7.33zM267.72 296.74h7.33v3.21h-7.33zM275.05 297.07h7.33v2.88h-7.33zM289.71 297.45h7.33v2.5h-7.33zM304.37 298.12h7.33v1.83h-7.33zM311.7 297.09h7.33v2.86h-7.33zM319.03 298.05h7.33v1.9h-7.33zM326.36 296.76h7.33v3.19h-7.33zM341.02 297.44h7.33v2.51h-7.33zM348.35 297.92h7.33v2.03h-7.33zM363.01 297.36h7.33v2.59h-7.33zM377.67 298.52h7.33v1.43h-7.33zM385 298.34h7.33v1.61h-7.33zM392.33 298.52h7.33v1.43h-7.33zM399.66 297.81h14.66v2.14h-14.66zM414.32 297.76h7.33v2.19h-7.33zM436.31 297.03h7.33v2.92h-7.33zM443.64 297.79h7.33v2.16h-7.33zM465.63 297.12h7.33v2.83h-7.33zM480.29 297.87h7.33v2.08h-7.33zM487.62 296.92h7.33v3.03h-7.33zM494.95 297.45h7.33v2.5h-7.33zM502.28 296.69h7.33v3.26h-7.33zM509.61 297.84h7.33v2.11h-7.33zM516.94 297.03h7.33v2.92h-7.33zM538.93 299.49h7.33v0.46h-7.33zM546.26 298.45h7.33v1.5h-7.33zM553.59 297.87h7.33v2.08h-7.33zM568.25 297.61h7.33v2.34h-7.33zM575.58 296.97h7.33v2.98h-7.33zM582.91 297.71h7.33v2.24h-7.33zM590.24 297.55h7.33v2.4h-7.33zM597.57 297.5h7.33v2.45h-7.33zM604.9 297.44h7.33v2.51h-7.33zM612.23 297.5h7.33v2.45h-7.33zM626.89 297.13h7.33v2.82h-7.33zM648.88 297.92h7.33v2.03h-7.33zM656.21 297.18h7.33v2.77h-7.33zM714.85 297.23h7.33v2.72h-7.33zM722.18 297.8h7.33v2.15h-7.33zM729.51 297.34h7.33v2.61h-7.33zM744.17 298.65h7.33v1.3h-7.33zM758.83 297.77h7.33v2.18h-7.33zM766.16 297.98h7.33v1.97h-7.33zM91.8 555.58h7.33v2.72h-7.33zM99.13 556.37h14.66v1.93h-14.66zM121.12 555.95h7.33v2.35h-7.33zM128.45 555.27h7.33v3.03h-7.33zM150.44 556.32h7.33v1.98h-7.33zM157.77 556.16h7.33v2.14h-7.33zM172.43 556.06h7.33v2.24h-7.33zM187.09 556.27h7.33v2.03h-7.33zM267.72 555.6h7.33v2.7h-7.33zM275.05 555.16h7.33v3.14h-7.33zM282.38 557.81h7.33v0.49h-7.33zM297.04 554.95h7.33v3.35h-7.33zM304.37 555.27h7.33v3.03h-7.33zM348.35 555.58h7.33v2.72h-7.33zM363.01 556.32h7.33v1.98h-7.33zM370.34 556.11h14.66v2.19h-14.66zM392.33 557.16h14.66v1.14h-14.66zM428.98 555.62h7.33v2.68h-7.33zM436.31 555h7.33v3.3h-7.33zM450.97 555.11h7.33v3.19h-7.33zM465.63 555.37h7.33v2.93h-7.33zM480.29 555.53h7.33v2.77h-7.33zM502.28 555.06h7.33v3.24h-7.33zM516.94 556.34h7.33v1.96h-7.33zM524.27 554.95h7.33v3.35h-7.33zM546.26 556.38h14.66v1.92h-14.66zM575.58 555.32h7.33v2.98h-7.33zM590.24 556.23h7.33v2.07h-7.33zM634.22 555.11h7.33v3.19h-7.33zM641.55 555.43h7.33v2.87h-7.33zM700.19 556.32h7.33v1.98h-7.33zM707.52 555.42h7.33v2.88h-7.33zM758.83 555.95h7.33v2.35h-7.33zM135.78 812.77h7.33v2.93h-7.33zM157.77 813.35h7.33v2.35h-7.33zM165.1 813.09h7.33v2.61h-7.33zM172.43 812.67h7.33v3.03h-7.33zM187.09 813.86h7.33v1.84h-7.33zM194.42 815.11h7.33v0.59h-7.33zM201.75 815h7.33v0.7h-7.33zM209.08 814.21h7.33v1.49h-7.33zM231.07 812.98h7.33v2.72h-7.33zM304.37 812.36h7.33v3.34h-7.33zM311.7 814.83h7.33v0.87h-7.33zM319.03 814.97h7.33v0.73h-7.33zM326.36 814.19h7.33v1.51h-7.33zM333.69 814.97h7.33v0.73h-7.33zM341.02 813.18h7.33v2.52h-7.33zM348.35 813.13h7.33v2.57h-7.33zM355.68 813.27h7.33v2.43h-7.33zM377.67 812.91h7.33v2.79h-7.33zM392.33 812.32h7.33v3.38h-7.33zM399.66 814.02h7.33v1.68h-7.33zM406.99 813.05h7.33v2.65h-7.33zM414.32 813.1h7.33v2.6h-7.33zM421.65 813.13h7.33v2.57h-7.33zM428.98 812.68h7.33v3.02h-7.33zM436.31 812.47h7.33v3.23h-7.33zM443.64 812.5h7.33v3.2h-7.33zM450.97 813.38h7.33v2.32h-7.33zM458.3 812.97h7.33v2.73h-7.33zM502.28 812.83h7.33v2.87h-7.33zM509.61 812.91h7.33v2.79h-7.33zM516.94 813.67h7.33v2.03h-7.33zM524.27 813.97h7.33v1.73h-7.33zM531.6 813.77h7.33v1.93h-7.33zM538.93 813h7.33v2.7h-7.33zM546.26 814.14h7.33v1.56h-7.33zM553.59 813.87h14.66v1.83h-14.66zM568.25 814.5h7.33v1.2h-7.33zM575.58 814.23h14.66v1.47h-14.66zM597.57 814.23h7.33v1.47h-7.33zM626.89 814.23h7.33v1.47h-7.33zM648.88 814.23h7.33v1.47h-7.33z"/>
<path fill="#000" fill-opacity="0.85" d="M91.8 31.4h29.32v0.7h-29.32zM121.12 39.4h21.99v0.7h-21.99zM157.77 39.93h7.33v0.7h-7.33zM165.1 39.67h7.33v0.7h-7.33zM172.43 39.39h7.33v0.7h-7.33zM179.76 39.51h7.33v0.7h-7.33zM187.09 38.59h7.33v0.7h-7.33zM194.42 38.27h7.33v0.7h-7.33zM201.75 38.64h7.33v0.7h-7.33zM209.08 38.92h7.33v0.7h-7.33zM216.41 38.31h7.33v0.7h-7.33zM223.74 35.28h7.33v0.7h-7.33zM231.07 36.76h7.33v0.7h-7.33zM238.4 35.09h7.33v0.7h-7.33zM245.73 36.61h14.66v0.7h-14.66zM260.39 37.03h14.66v0.7h-14.66zM275.05 36.64h7.33v0.7h-7.33zM282.38 37.15h7.33v0.7h-7.33zM289.71 37.28h7.33v0.7h-7.33zM297.04 38.18h14.66v0.7h-14.66zM311.7 37.28h7.33v0.7h-7.33zM319.03 38.18h7.33v0.7h-7.33zM326.36 37.28h7.33v0.7h-7.33zM348.35 38.98h7.33v0.7h-7.33zM355.68 38.61h7.33v0.7h-7.33zM363.01 38.03h7.33v0.7h-7.33zM370.34 35h7.33v0.7h-7.33zM377.67 32.86h7.33v0.7h-7.33zM385 39.25h7.33v0.7h-7.33zM392.33 35.53h7.33v0.7h-7.33zM399.66 32.77h21.99v0.7h-21.99zM421.65 31.91h7.33v0.7h-7.33zM428.98 33.55h7.33v0.7h-7.33zM443.64 31.91h7.33v0.7h-7.33zM450.97 31.4h7.33v0.7h-7.33zM458.3 37.78h7.33v0.7h-7.33zM465.63 31.4h7.33v0.7h-7.33zM472.96 31.91h14.66v0.7h-14.66zM487.62 33.71h7.33v0.7h-7.33zM494.95 37.62h7.33v0.7h-7.33zM502.28 37.48h7.33v0.7h-7.33zM509.61 38.29h7.33v0.7h-7.33zM516.94 32.86h7.33v0.7h-7.33zM524.27 37h7.33v0.7h-7.33zM531.6 39.1h7.33v0.7h-7.33zM538.93 38.95h7.33v0.7h-7.33zM546.26 38.24h7.33v0.7h-7.33zM553.59 38.48h7.33v0.7h-7.33zM560.92 36.52h7.33v0.7h-7.33zM568.25 38.38h7.33v0.7h-7.33zM575.58 38.52h7.33v0.7h-7.33zM582.91 39.05h7.33v0.7h-7.33zM626.89 38.76h7.33v0.7h-7.33zM634.22 38.57h7.33v0.7h-7.33zM641.55 39.95h7.33v0.7h-7.33zM670.87 40.1h7.33v0.7h-7.33zM678.2 39.38h7.33v0.7h-7.33zM685.53 38.81h7.33v0.7h-7.33zM692.86 37.14h7.33v0.7h-7.33zM700.19 39.1h7.33v0.7h-7.33zM707.52 39.33h7.33v0.7h-7.33zM714.85 38.05h7.33v0.7h-7.33zM722.18 37.81h7.33v0.7h-7.33zM729.51 35.24h7.33v0.7h-7.33zM736.84 38.52h7.33v0.7h-7.33zM744.17 38.76h7.33v0.7h-7.33zM751.5 37.9h7.33v0.7h-7.33zM758.83 37.1h7.33v0.7h-7.33zM766.16 38.57h7.33v0.7h-7.33zM91.8 295.02h7.33v0.7h-7.33zM106.46 291.12h7.33v0.7h-7.33zM113.79 291.08h7.33v0.7h-7.33zM121.12 296.56h7.33v0.7h-7.33zM128.45 296.49h7.33v0.7h-7.33zM135.78 296.59h7.33v0.7h-7.33zM143.11 297.87h7.33v0.7h-7.33zM150.44 294.25h7.33v0.7h-7.33zM157.77 295.35h7.33v0.7h-7.33zM187.09 296.54h7.33v0.7h-7.33zM194.42 296.92h7.33v0.7h-7.33zM201.75 296.87h7.33v0.7h-7.33zM209.08 292.87h7.33v0.7h-7.33zM216.41 297.35h7.33v0.7h-7.33zM223.74 297.64h7.33v0.7h-7.33zM231.07 290.3h7.33v0.7h-7.33zM238.4 296.78h7.33v0.7h-7.33zM245.73 295.97h7.33v0.7h-7.33zM253.06 294.06h7.33v0.7h-7.33zM260.39 296.87h7.33v0.7h-7.33zM267.72 296.54h7.33v0.7h-7.33zM275.05 296.87h7.33v0.7h-7.33zM282.38 295.97h7.33v0.7h-7.33zM289.71 297.25h7.33v0.7h-7.33zM297.04 292.87h7.33v0.7h-7.33zM304.37 297.92h7.33v0.7h-7.33zM311.7 296.89h7.33v0.7h-7.33zM319.03 297.85h7.33v0.7h-7.33zM326.36 296.56h7.33v0.7h-7.33zM341.02 297.24h7.33v0.7h-7.33zM348.35 297.72h7.33v0.7h-7.33zM355.68 296.21h7.33v0.7h-7.33zM363.01 297.16h7.33v0.7h-7.33zM370.34 293.59h7.33v0.7h-7.33zM377.67 298.32h7.33v0.7h-7.33zM385 298.14h7.33v0.7h-7.33zM392.33 298.32h7.33v0.7h-7.33zM399.66 297.61h14.66v0.7h-14.66zM414.32 297.56h7.33v0.7h-7.33zM421.65 293.61h7.33v0.7h-7.33zM428.98 294.3h7.33v0.7h-7.33zM436.31 296.83h7.33v0.7h-7.33zM443.64 297.59h7.33v0.7h-7.33zM450.97 296.21h7.33v0.7h-7.33zM458.3 295.54h7.33v0.7h-7.33zM465.63 296.92h7.33v0.7h-7.33zM472.96 295.4h7.33v0.7h-7.33zM480.29 297.67h7.33v0.7h-7.33zM487.62 296.72h7.33v0.7h-7.33zM494.95 297.25h7.33v0.7h-7.33zM502.28 296.49h7.33v0.7h-7.33zM509.61 297.64h7.33v0.7h-7.33zM516.94 296.83h7.33v0.7h-7.33zM524.27 293.44h7.33v0.7h-7.33zM546.26 298.25h7.33v0.7h-7.33zM553.59 297.67h7.33v0.7h-7.33zM560.92 295.67h7.33v0.7h-7.33zM568.25 297.41h7.33v0.7h-7.33zM575.58 296.77h7.33v0.7h-7.33zM582.91 297.51h7.33v0.7h-7.33zM590.24 297.35h7.33v0.7h-7.33zM597.57 297.3h7.33v0.7h-7.33zM604.9 297.24h7.33v0.7h-7.33zM612.23 297.3h7.33v0.7h-7.33zM619.56 293.72h7.33v0.7h-7.33zM626.89 296.93h7.33v0.7h-7.33zM634.22 296.08h7.33v0.7h-7.33zM641.55 295.88h7.33v0.7h-7.33zM648.88 297.72h7.33v0.7h-7.33zM656.21 296.98h7.33v0.7h-7.33zM663.54 294.77h7.33v0.7h-7.33zM685.53 290.35h7.33v0.7h-7.33zM692.86 291.3h7.33v0.7h-7.33zM700.19 292.03h7.33v0.7h-7.33zM707.52 295.67h7.33v0.7h-7.33zM714.85 297.03h7.33v0.7h-7.33zM722.18 297.6h7.33v0.7h-7.33zM729.51 297.14h7.33v0.7h-7.33zM744.17 298.45h7.33v0.7h-7.33zM751.5 295.03h7.33v0.7h-7.33zM758.83 297.57h7.33v0.7h-7.33zM766.16 297.78h7.33v0.7h-7.33zM91.8 555.38h7.33v0.7h-7.33zM99.13 556.17h14.66v0.7h-14.66zM113.79 553.65h7.33v0.7h-7.33zM121.12 555.75h7.33v0.7h-7.33zM128.45 555.07h7.33v0.7h-7.33zM135.78 549.65h7.33v0.7h-7.33zM143.11 553.96h7.33v0.7h-7.33zM150.44 556.12h7.33v0.7h-7.33zM157.77 555.96h7.33v0.7h-7.33zM165.1 553.23h7.33v0.7h-7.33zM172.43 555.86h7.33v0.7h-7.33zM179.76 552.74h7.33v0.7h-7.33zM187.09 556.07h7.33v0.7h-7.33zM194.42 549.4h7.33v0.7h-7.33zM201.75 548.5h7.33v0.7h-7.33zM209.08 548.65h7.33v0.7h-7.33zM216.41 549.56h7.33v0.7h-7.33zM223.74 549.41h7.33v0.7h-7.33zM231.07 554.02h7.33v0.7h-7.33zM238.4 553.07h7.33v0.7h-7.33zM245.73 553.44h7.33v0.7h-7.33zM267.72 555.4h7.33v0.7h-7.33zM275.05 554.96h7.33v0.7h-7.33zM289.71 554.28h7.33v0.7h-7.33zM297.04 554.75h7.33v0.7h-7.33zM304.37 555.07h7.33v0.7h-7.33zM311.7 553.81h7.33v0.7h-7.33zM319.03 554.02h7.33v0.7h-7.33zM348.35 555.38h7.33v0.7h-7.33zM355.68 553.44h7.33v0.7h-7.33zM363.01 556.12h7.33v0.7h-7.33zM370.34 555.91h14.66v0.7h-14.66zM385 553.28h7.33v0.7h-7.33zM428.98 555.42h7.33v0.7h-7.33zM436.31 554.8h7.33v0.7h-7.33zM443.64 549.65h7.33v0.7h-7.33zM450.97 554.91h7.33v0.7h-7.33zM458.3 548.7h7.33v0.7h-7.33zM465.63 555.17h7.33v0.7h-7.33zM472.96 549.65h7.33v0.7h-7.33zM480.29 555.33h7.33v0.7h-7.33zM487.62 554.7h7.33v0.7h-7.33zM494.95 553.44h7.33v0.7h-7.33zM502.28 554.86h7.33v0.7h-7.33zM509.61 554.65h7.33v0.7h-7.33zM516.94 556.14h7.33v0.7h-7.33zM524.27 554.75h7.33v0.7h-7.33zM531.6 553.12h7.33v0.7h-7.33zM538.93 549.65h7.33v0.7h-7.33zM546.26 556.18h14.66v0.7h-14.66zM560.92 552.12h7.33v0.7h-7.33zM568.25 552.7h7.33v0.7h-7.33zM575.58 555.12h7.33v0.7h-7.33zM582.91 552.91h7.33v0.7h-7.33zM590.24 556.03h7.33v0.7h-7.33zM597.57 552.38h7.33v0.7h-7.33zM604.9 549.65h7.33v0.7h-7.33zM612.23 554.23h7.33v0.7h-7.33zM619.56 554.7h7.33v0.7h-7.33zM626.89 548.1h7.33v0.7h-7.33zM634.22 554.91h7.33v0.7h-7.33zM641.55 555.23h7.33v0.7h-7.33zM648.88 548.1h7.33v0.7h-7.33zM656.21 548.65h7.33v0.7h-7.33zM663.54 551.99h7.33v0.7h-7.33zM670.87 553.69h7.33v0.7h-7.33zM678.2 553.41h7.33v0.7h-7.33zM685.53 552.5h7.33v0.7h-7.33zM692.86 548.1h7.33v0.7h-7.33zM700.19 556.12h7.33v0.7h-7.33zM707.52 555.22h7.33v0.7h-7.33zM722.18 553.27h7.33v0.7h-7.33zM729.51 549.56h7.33v0.7h-7.33zM736.84 552.22h7.33v0.7h-7.33zM744.17 549.4h7.33v0.7h-7.33zM751.5 548.65h7.33v0.7h-7.33zM758.83 555.75h7.33v0.7h-7.33zM766.16 554.02h7.33v0.7h-7.33zM91.8 810.52h7.33v0.7h-7.33zM99.13 810.94h7.33v0.7h-7.33zM106.46 811.47h7.33v0.7h-7.33zM113.79 811.1h7.33v0.7h-7.33zM121.12 806.89h7.33v0.7h-7.33zM128.45 809.47h7.33v0.7h-7.33zM135.78 812.57h7.33v0.7h-7.33zM143.11 809.62h7.33v0.7h-7.33zM150.44 807.94h7.33v0.7h-7.33zM157.77 813.15h7.33v0.7h-7.33zM165.1 812.89h7.33v0.7h-7.33zM172.43 812.47h7.33v0.7h-7.33zM179.76 809.26h7.33v0.7h-7.33zM187.09 813.66h7.33v0.7h-7.33zM209.08 814.01h7.33v0.7h-7.33zM216.41 811.93h7.33v0.7h-7.33zM223.74 807.94h7.33v0.7h-7.33zM231.07 812.78h7.33v0.7h-7.33zM238.4 810.63h7.33v0.7h-7.33zM245.73 811.1h7.33v0.7h-7.33zM253.06 807.77h7.33v0.7h-7.33zM260.39 805.9h7.33v0.7h-7.33zM275.05 807.61h7.33v0.7h-7.33zM282.38 807.66h7.33v0.7h-7.33zM289.71 808.47h7.33v0.7h-7.33zM297.04 811.94h7.33v0.7h-7.33zM304.37 812.16h7.33v0.7h-7.33zM326.36 813.99h7.33v0.7h-7.33zM341.02 812.98h7.33v0.7h-7.33zM348.35 812.93h7.33v0.7h-7.33zM355.68 813.07h7.33v0.7h-7.33zM363.01 811.9h7.33v0.7h-7.33zM370.34 811.82h7.33v0.7h-7.33zM377.67 812.71h7.33v0.7h-7.33zM385 810.88h7.33v0.7h-7.33zM392.33 812.12h7.33v0.7h-7.33zM399.66 813.82h7.33v0.7h-7.33zM406.99 812.85h7.33v0.7h-7.33zM414.32 812.9h7.33v0.7h-7.33zM421.65 812.93h7.33v0.7h-7.33zM428.98 812.48h7.33v0.7h-7.33zM436.31 812.27h7.33v0.7h-7.33zM443.64 812.3h7.33v0.7h-7.33zM450.97 813.18h7.33v0.7h-7.33zM458.3 812.77h7.33v0.7h-7.33zM465.63 810.81h7.33v0.7h-7.33zM472.96 811.01h7.33v0.7h-7.33zM480.29 811.04h7.33v0.7h-7.33zM487.62 811.6h7.33v0.7h-7.33zM494.95 811.01h7.33v0.7h-7.33zM502.28 812.63h7.33v0.7h-7.33zM509.61 812.71h7.33v0.7h-7.33zM516.94 813.47h7.33v0.7h-7.33zM524.27 813.77h7.33v0.7h-7.33zM531.6 813.57h7.33v0.7h-7.33zM538.93 812.8h7.33v0.7h-7.33zM546.26 813.94h7.33v0.7h-7.33zM553.59 813.67h14.66v0.7h-14.66zM568.25 814.3h7.33v0.7h-7.33zM575.58 814.03h14.66v0.7h-14.66zM597.57 814.03h7.33v0.7h-7.33zM626.89 814.03h7.33v0.7h-7.33zM648.88 814.03h7.33v0.7h-7.33zM678.2 805.5h87.96v0.7h-87.96z"/>
<path stroke="#999" stroke-width="0.6" fill="none" d="M95.47 19.57v2.6M161.44 19.57v2.6M234.74 19.57v2.6M308.04 19.57v2.6M381.34 19.57v2.6M454.63 19.57v2.6M527.93 19.57v2.6M601.24 19.57v2.6M674.53 19.57v2.6M747.83 19.57v2.6M139.44 277.93v2.6M212.75 277.93v2.6M286.05 277.93v2.6M359.35 277.93v2.6M432.65 277.93v2.6M505.94 277.93v2.6M579.25 277.93v2.6M652.54 277.93v2.6M725.84 277.93v2.6M117.45 536.27v2.6M190.75 536.27v2.6M264.06 536.27v2.6M337.36 536.27v2.6M410.66 536.27v2.6M483.96 536.27v2.6M557.25 536.27v2.6M630.55 536.27v2.6M703.85 536.27v2.6M95.47 793.67v2.6M168.76 793.67v2.6M242.06 793.67v2.6M315.37 793.67v2.6M388.67 793.67v2.6M461.97 793.67v2.6M535.26 793.67v2.6M608.56 793.67v2.6M681.87 793.67v2.6M762.5 793.67v2.6"/>
</svg>
<div id="t">
<div class="n" style="left:85.47px;top:13.88px">1</div>
<div class="n" style="left:151.44px;top:13.88px">10</div>
<div class="n" style="left:224.74px;top:13.88px">20</div>
<div class="n" style="left:298.04px;top:13.88px">30</div>
<div class="n" style="left:371.34px;top:13.88px">40</div>
<div class="n" style="left:444.63px;top:13.88px">50</div>
<div class="n" style="left:517.93px;top:13.88px">60</div>
<div class="n" style="left:591.24px;top:13.88px">70</div>
<div class="n" style="left:664.53px;top:13.88px">80</div>
<div class="n" style="left:737.83px;top:13.88px">90</div>
<div class="q c" style="left:91.8px;top:26px">R<s>X</s><s>X</s><s>X</s>TTQ<s>X</s><s>X</s><s>X</s><s>X</s>R<s>X</s><i>*</i>GD<s>X</s>ASRCMLERPPV<i>*</i>WISA<u>–</u><u>–</u>EFRAYVMYTSGS<u>–</u>TGRPKGVVVTHRG<s>X</s>VALAAG<u>–</u><u>–</u><u>–</u><u>–</u><u>–</u>HR<s>X</s><u>–</u><u>–</u><u>–</u><u>–</u>G<s>X</s>AAPRTLQHSPL</div>
<div class="l" style="top:26.2px">Consensus</div>
<div class="l" style="top:35.7px">Identity</div>
<div class="l" style="top:50.1px">1. A3</div>
<div class="l g" style="top:58.71px">2. A4</div>
<div class="l g" style="top:67.32px">3. A5</div>
<div class="l g" style="top:75.93px">4. A6</div>
<div class="l g" style="top:84.54px">5. A7</div>
<div class="l" style="top:93.15px">6. A23_A1</div>
<div class="l" style="top:101.76px">7. A23_A13</div>
<div class="l" style="top:110.37px">8. A23_A18</div>
<div class="l" style="top:118.98px">9. A23_A19</div>
<div class="l" style="top:127.59px">10. A23_A2318</div>
<div class="l" style="top:136.2px">11. A23_A2319</div>
<div class="l" style="top:144.81px">12. A23_A2334</div>
<div class="l" style="top:153.42px">13. A23_A2335</div>
<div class="l" style="top:162.03px">14. A23_A236</div>
<div class="l" style="top:170.64px">15. A23_A239</div>
<div class="l" style="top:179.25px">16. A23_A29</div>
<div class="l" style="top:187.86px">17. A23_A30</div>
<div class="l" style="top:196.47px">18. A23_A37</div>
<div class="l" style="top:205.08px">19. A23_A45</div>
<div class="l" style="top:213.69px">20. B1_B112</div>
<div class="l" style="top:222.3px">21. B1_B113</div>
<div class="l" style="top:230.91px">22. B1_B117</div>
<div class="l" style="top:239.52px">23. B1_B118</div>
<div class="l" style="top:248.13px">24. SC_S27</div>
<div class="l" style="top:256.74px">25. SC_S3</div>
<div class="l" style="top:265.35px">26. SC_SC32</div>
<div class="q" style="left:363.01px;top:50.1px">L<b>AY</b>XX<b>YTSGS</b>T<b>TG</b>X<b>PKG</b></div>
<div class="q" style="left:370.34px;top:93.15px"><b>AY</b>A<b>MYTSGS</b><u>–</u><b>TGRPKGV</b>AI<b>TH</b>ADIT<b>ALAA</b>D<u>–––––</u>T<b>R</b>W<u>–––</u>HNG<b>A</b>HRHL<b>L</b>F<b>HSP</b>H</div>
<div class="q" style="left:157.77px;top:101.76px">G?<b>R</b><em>*</em>ILSY<b>AS</b>SLVPSSD<b>P</b>LVTAASVL<b>EFRAY</b>P<b>MYTSGS</b><u>–</u><b>TGRPKGV</b>AI<b>TH</b>ADIT<b>ALAA</b>D<u>–––––</u>T<b>R</b>W<u>–––</u>HNG<b>A</b>HRHL<b>L</b>F<b>HSP</b>H</div>
<div class="q" style="left:172.43px;top:110.37px">??<b><i>*</i>GD</b>W<b>ASRCMLERPPV<i>*</i>WISA</b><u>––</u><b>E</b>?<b>RAY</b>L<b>MYTSGS</b><u>–</u><b>TGRPKGV</b>AI<b>TH</b>ADIT<b>ALAA</b>D<u>–––––</u>T<b>R</b>W<u>–––</u>HNG<b>A</b>HRHL<b>L</b>F<b>HSP</b>H</div>
<div class="q" style="left:194.42px;top:118.98px"><b>GD</b>W<b>ASRCMLERPPV<i>*</i>WISA</b><u>––</u>?<b>FRAY</b>A<b>MYTSGS</b><u>–</u><b>TG</b>D<b>PKGVVV</b>P<b>HRG</b>P<b>V</b>N<b>L</b>VR<b>G</b><u>–––––</u><b>H</b>GV<u>––––</u><b>G</b>H<b>AAPRTLQ</b>WTSP</div>
<div class="q" style="left:385px;top:127.59px">P<b>MYTSGS</b><u>–</u><b>TG</b>D<b>PKGVVV</b>P<b>HRG</b>P<b>V</b>N<b>L</b>VR<b>G</b><u>–––––</u><b>H</b>GV<u>––––</u><b>G</b>H<b>AAPRTLQ</b>WTSP</div>
<div class="q" style="left:370.34px;top:136.2px"><b>AY</b>A<b>MYTSGS</b><u>–</u><b>TG</b>D<b>PKGVVV</b>P<b>HRG</b>P<b>V</b>N<b>L</b>VR<b>G</b><u>–––––</u><b>H</b>GV<u>––––</u><b>G</b>H<b>AAPRTLQ</b>WTSP</div>
<div class="q" style="left:121.12px;top:144.81px"><b>TTQ</b><em>*</em>CIRLTI<b>GD</b>GP<b>SRCMLER</b>RS<b>V</b>MD<b>I</b><a>––</a><u>–</u>CRIQG<b>YV</b>I<b>YTSGS</b><u>–</u><b>TG</b>D<b>PKGVVV</b>P<b>HRG</b>P<b>V</b>N<b>L</b>VR<b>G</b><u>–––––</u><b>H</b>GV<u>––––</u><b>G</b>H<b>AAPRTLQ</b>WTSP</div>
<div class="q" style="left:370.34px;top:153.42px"><b>AYVMYTSGS</b><u>–</u><b>TG</b>D<b>PKGVVV</b>P<b>HRG</b>P<b>V</b>N<b>L</b>VR<b>G</b><u>–––––</u><b>H</b>G<a>–</a><u>–––</u>V<b>G</b>H<b>AAPRTLQ</b>WTSP</div>
<div class="q" style="left:363.01px;top:162.03px"><b>RAY</b>L<b>MYTSG</b>T<u>–</u><b>TGRPKGV</b>M<b>V</b>E<b>HR</b>HLHHMVHA<u>–––––</u>WDARYGLSALE<b>PR</b>V<b>L</b>SV<b>S</b>S<b>L</b></div>
<div class="q" style="left:172.43px;top:170.64px">??<b><i>*</i>GD</b>W<b>ASRCMLERPPV<i>*</i>WISA</b><u>––</u><b>EFRAYVMYTSGS</b><u>–</u><b>TGRPKGV</b>AI<b>TH</b>ADIT<b>ALAA</b>D<u>–––––</u>T<b>R</b>W<u>–––</u>HNG<b>A</b>HRHL<b>L</b>F<b>HSP</b>H</div>
<div class="q" style="left:370.34px;top:179.25px"><b>AY</b>L<b>MYTSGS</b><u>–</u><b>TGRPKGV</b>AI<b>TH</b>ADIT<b>ALAA</b>D<u>–––––</u>T<b>R</b>W<u>–––</u>HNG<b>A</b>HRHL<b>L</b>F<b>HSP</b>H</div>
<div class="q" style="left:179.76px;top:187.86px">???G?IGAL<em>*</em>MHARAAASVMDICR?Q<b>AY</b>PI<b>YTSGS</b><u>–</u><b>TG</b>V<b>PKGV</b>G<b>VTH</b>ADI<b>VALAA</b>D<u>–––––</u><b>HR</b>F<u>–––</u>A<b>G</b>H<b>A</b>HE<b>R</b>V<b>L</b>F<b>HSP</b>H</div>
<div class="q" style="left:209.08px;top:196.47px">R??GL<em>*</em>MHARAAASVMDICRI?GTSCTRRAR<u>–</u>P<b>G</b>S<b>P</b>RASSSGT<b>R</b>P<em>*</em>A<b>A</b>WST<b>G</b><u>–––––</u>R<b>R</b>CW<u>––</u>VRRPFAH<b>T</b>FFSTS<b>L</b></div>
<div class="q" style="left:165.1px;top:205.08px">????<b>GD</b>W<b>ASRCMLERPPV<i>*</i>WISA</b><u>––</u>???<b>AY</b>A<b>MYTSGS</b><u>–</u><b>TG</b>D<b>PKGVVV</b>P<b>HRG</b>P<b>V</b>N<b>L</b>VR<b>G</b><u>–––––</u><b>H</b>GV<u>––––</u><b>G</b>H<b>AAPRTLQ</b>WTSP</div>
<div class="q" style="left:172.43px;top:213.69px">GD?LEILKL<b>C</b>IKLV<b>P</b>SSDH<em>*</em>Y<b>A</b>PVC<em>*</em>SG<b>YVMYTSGS</b><u>–</u><b>TG</b>A<b>PKG</b>A<b>V</b>L<b>THR</b>AV<b>V</b>D<b>L</b>CQW<u>–––––</u><b>H</b>HARF<u>–</u>APD<b>A</b>EY<b>R</b>GAMVCGQ</div>
<div class="q" style="left:260.39px;top:222.3px">HARGGRQCDGYLQNQG<b>YV</b>I<b>YTSGS</b><u>–</u><b>TGRPKGVVVTHR</b>SVTGYLGW<u>–––––</u>SS<a>–</a><u>––––</u><a>–</a>EQYAGLRGVAG<b>L</b></div>
<div class="q" style="left:355.68px;top:230.91px">QGVPDVAPA<b>GS</b><u>–</u><b>TG</b>S<b>PKGV</b>MIEQ<b>R</b>SV<b>VA</b>RLRW<u>–––––</u>LERSG<u>–</u>YLGP<b>A</b>VSI<b>LQ</b>KT<b>P</b>I</div>
<div class="q" style="left:91.8px;top:239.52px"><b>R</b>??????RL?Y<b>R</b>?E?IGP<b>SRCMLERPPV<i>*</i>WISA</b><u>––</u><b>EFRAYVMYTSGS</b><u>–</u><b>TGRPKGV</b>A<b>V</b>S<b>H</b>A<b>G</b>LAG<b>LAA</b>A<u>–––––</u>QVDRFA<u>–</u>VERSS<b>R</b>L<b>LQ</b>FAS<b>L</b></div>
<div class="q" style="left:172.43px;top:248.13px">??<b><i>*</i></b>AIGP<b>SRCMLERPPV<i>*</i>WISA</b><u>––</u>?<b>FRAY</b>L<b>MYTSGS</b><u>–</u><b>TGRPKGVV</b>IE<b>H</b>HALATYLHR<u>–––––</u>A<b>R</b>ST<u>––</u>YSAMTGV<b>T</b>VL<b>HSPL</b></div>
<div class="q" style="left:172.43px;top:256.74px">??<b><i>*</i></b>AIGP<b>SRCMLERPPV<i>*</i>WISA</b><u>––</u>?<b>FRAY</b>L<b>MYTSGS</b><u>–</u><b>TGRPKGVV</b>IE<b>H</b>HALATYLHR<u>–––––</u>A<b>R</b>ST<u>––</u>YSAMTGV<b>T</b>VL<b>HSPL</b></div>
<div class="q" style="left:370.34px;top:265.35px"><b>AY</b>P<b>MYTSG</b>T<u>–</u><b>TGRPKG</b>C<b>V</b>L<b>TH</b>ANLH<b>A</b>E<b>AA</b>NTVELL<b>H</b>PIFKEVTGQTAS<b>TL</b>LFL<b>PL</b></div>
<div class="n" style="left:129.44px;top:272.23px">100</div>
<div class="n" style="left:202.75px;top:272.23px">110</div>
<div class="n" style="left:276.05px;top:272.23px">120</div>
<div class="n" style="left:349.35px;top:272.23px">130</div>
<div class="n" style="left:422.65px;top:272.23px">140</div>
<div class="n" style="left:495.94px;top:272.23px">150</div>
<div class="n" style="left:569.25px;top:272.23px">160</div>
<div class="n" style="left:642.54px;top:272.23px">170</div>
<div class="n" style="left:715.84px;top:272.23px">180</div>
<div class="q c" style="left:91.8px;top:284.35px">S<u>–</u>FDASV<s>X</s>EI<u>–</u><u>–</u><u>–</u>WTALLTGATLV<s>X</s>ADDEVR<s>X</s>D<u>–</u>AAAEA<s>X</s><u>–</u><u>–</u>VRHGVTALFLPKALLRLL<u>–</u><u>–</u><u>–</u>EEDPGC<s>X</s>PGLREVWSG<u>–</u><u>–</u>GEALH<s>X</s>A<u>–</u><u>–</u>AMS</div>
<div class="l" style="top:284.55px">Consensus</div>
<div class="l" style="top:294.05px">Identity</div>
<div class="l g" style="top:308.45px">1. A3</div>
<div class="l" style="top:317.06px">2. A4</div>
<div class="l g" style="top:325.67px">3. A5</div>
<div class="l g" style="top:334.28px">4. A6</div>
<div class="l g" style="top:342.89px">5. A7</div>
<div class="l" style="top:351.5px">6. A23_A1</div>
<div class="l" style="top:360.11px">7. A23_A13</div>
<div class="l" style="top:368.72px">8. A23_A18</div>
<div class="l" style="top:377.33px">9. A23_A19</div>
<div class="l" style="top:385.94px">10. A23_A2318</div>
<div class="l" style="top:394.55px">11. A23_A2319</div>
<div class="l" style="top:403.16px">12. A23_A2334</div>
<div class="l" style="top:411.77px">13. A23_A2335</div>
<div class="l" style="top:420.38px">14. A23_A236</div>
<div class="l" style="top:428.99px">15. A23_A239</div>
<div class="l" style="top:437.6px">16. A23_A29</div>
<div class="l" style="top:446.21px">17. A23_A30</div>
<div class="l" style="top:454.82px">18. A23_A37</div>
<div class="l" style="top:463.43px">19. A23_A45</div>
<div class="l" style="top:472.04px">20. B1_B112</div>
<div class="l" style="top:480.65px">21. B1_B113</div>
<div class="l" style="top:489.26px">22. B1_B117</div>
<div class="l" style="top:497.87px">23. B1_B118</div>
<div class="l" style="top:506.48px">24. SC_S27</div>
<div class="l" style="top:515.09px">25. SC_S3</div>
<div class="l" style="top:523.7px">26. SC_SC32</div>
<div class="q" style="left:106.46px;top:317.06px"><b>FD</b>X<b>S</b></div>
<div class="q" style="left:91.8px;top:351.5px"><b>S</b><u>–</u><b>FDA</b>ATY<b>EI</b><u>–––</u><b>W</b>A<b>ALL</b>N<b>G</b>H<b>TL</b>TV<b>AD</b>R<b>E</b>ITAP<u>–</u>VVR<b>EA</b><a>–</a><u>––</u><b>V</b>AS<b>GVTA</b>V<b>FL</b>T<b>KAL</b>FV<b>LL</b><u>––</u>G<b>EEDPGC</b>FT<b>GL</b>Q<b>EVW</b>T<b>G</b><u>––</u><b>GEA</b>ASP<b>A</b><u>––</u><b>AMS</b></div>
<div class="q" style="left:91.8px;top:360.11px"><b>S</b><u>–</u><b>FDA</b>ATY<b>EI</b><u>–––</u><b>W</b>A<b>ALL</b>N<b>G</b>H<b>TL</b>TV<b>AD</b>R<b>E</b>ITAP<u>–</u>VVR<b>EA</b><a>–</a><u>––</u><b>V</b>AS<b>GVTA</b>V<b>FL</b>T<b>KAL</b>FD<b>LL</b><u>––</u>A<b>EEDPGC</b>FT<b>GL</b>Q<b>EVW</b>T<b>G</b><u>––</u><b>GEA</b>ASP<b>A</b><u>––</u><b>AMS</b></div>
<div class="q" style="left:91.8px;top:368.72px"><b>S</b><u>–</u><b>FDA</b>ATY<b>EI</b><u>–––</u><b>W</b>A<b>ALL</b>N<b>G</b>H<b>TL</b>TV<b>AD</b>R<b>E</b>ITAP<u>–</u>VVR<b>EA</b><a>–</a><u>––</u><b>V</b>AS<b>GVTA</b>V<b>FL</b>T<b>KAL</b>FD<b>LL</b><u>––</u>A<b>EEDPGC</b>FT<b>GL</b>Q<b>EVW</b>T<b>G</b><u>––</u><b>GEA</b>ASP<b>A</b><u>––</u><b>AMS</b></div>
<div class="q" style="left:91.8px;top:377.33px">A<u>–</u><b>FD</b>V<b>SV</b>Q<b>EI</b><u>–––</u>F<b>T</b>T<b>L</b>C<b>TGA</b>E<b>LV</b>LI<b>DDEVR</b>H<b>D</b><u>–</u><b>AAA</b>V<b>A</b>EAVR<b>RHGV</b>ER<b>LF</b>M<b>P</b>CTP<b>LR</b>Y<b>L</b><u>–––</u>L<b>E</b>TRPEL<b>P</b>S<b>LREV</b>Y<b>S</b>A<u>––</u><b>GEALH</b>LT<u>–</u>P<b>A</b>FR</div>
<div class="q" style="left:91.8px;top:385.94px">A<u>–</u><b>FD</b>V<b>SV</b>Q<b>EI</b><u>–––</u>F<b>T</b>T<b>L</b>C<b>TGA</b>E<b>LV</b>LI<b>DDEVR</b>H<b>D</b><u>–</u><b>AAA</b>V<b>A</b>EAVR<b>RHGV</b>ER<b>LF</b>M<b>P</b>???<b>LR</b>Y?<u>–––</u>???????<b>P</b>A<b>LR</b>????T<u>––</u><b>G</b>Q?<b>L</b>DL?L?<b>A</b>??</div>
<div class="q" style="left:91.8px;top:394.55px">A<u>–</u><b>FD</b>V<b>SV</b>Q<b>EI</b><u>–––</u>F<b>T</b>T<b>L</b>C<b>TGA</b>E<b>LV</b>LI<b>DDEVR</b>H<b>D</b><u>–</u><b>AAA</b>V<b>A</b>EAVR<b>RHGV</b>ER<b>LF</b>M<b>P</b>CTP<b>LR</b>Y<b>L</b><u>–––</u>L<b>E</b>TRPEL<b>P</b>S<b>LREV</b>Y<b>S</b>A<u>––</u><b>GEALH</b>LT<u>–</u>P<b>A</b>FR</div>
<div class="q" style="left:91.8px;top:403.16px">A<u>–</u><b>FD</b>V<b>SV</b>Q<b>EI</b><u>–––</u>F<b>T</b>T<b>L</b>C<b>TGA</b>E<b>LV</b>LI<b>DDEVR</b>H<b>D</b><u>–</u><b>AAA</b>V<b>A</b>EAVR<b>RHGV</b>ER<b>LF</b>M<b>P</b>CTP<b>LR</b>Y<b>L</b><u>–––</u>L<b>E</b>TRPEL<b>P</b>S<b>LREV</b>Y<b>S</b>A<u>––</u><b>GEALH</b>LT<u>–</u>P<b>A</b>FR</div>
<div class="q" style="left:91.8px;top:411.77px">A<u>–</u><b>FD</b>V<b>SV</b>Q<b>EI</b><u>–––</u>F<b>T</b>T<b>L</b>C<b>TGA</b>E<b>LV</b>LI<b>DDEVR</b>H<b>D</b><u>–</u><b>AAA</b>V<b>A</b>EAVR<b>RHGV</b>ER<b>LF</b>M<b>P</b>CTP<b>LR</b>Y<b>L</b><u>–––</u>L<b>E</b>TRPEL<b>P</b>S<b>LREV</b>Y<b>S</b>A<u>––</u><b>GEALH</b>LT<u>–</u>P<b>A</b>FR</div>
<div class="q" style="left:91.8px;top:420.38px"><b>S</b><u>–</u>V<b>D</b>LFFADF<u>–––</u>LLSA<b>L</b>F<b>G</b>G<b>T</b>M<b>V</b>ICPS<b>E</b>TVA<b>D</b>PV<b>A</b>LT<b>A</b>LLLSSRAELMVTV<b>P</b>TLARAVVQELGWSGVRADH<b>L</b>KVLLV<b>G</b><u>––</u>S<b>E</b>GWPVD<u>–</u>S<b>A</b>AE</div>
<div class="q" style="left:91.8px;top:428.99px"><b>S</b><u>–</u><b>FDA</b>ATY<b>EI</b><u>–––</u><b>W</b>A<b>ALL</b>N<b>G</b>H<b>TL</b>TV<b>AD</b>R<b>E</b>ITAP<u>–</u>VVR<b>EA</b><a>–</a><u>––</u><b>V</b>AS<b>GVTA</b>V<b>FL</b>T<b>KAL</b>FD<b>LL</b><u>––</u>A<b>EEDPGC</b>FT<b>GL</b>Q<b>EVW</b>T<b>G</b><u>––</u><b>GEA</b>ASP<b>A</b><u>––</u><b>AMS</b></div>
<div class="q" style="left:91.8px;top:437.6px"><b>S</b><u>–</u><b>FDA</b>ATY<b>EI</b><u>–––</u><b>W</b>A<b>ALL</b>N<b>G</b>H<b>TL</b>TV<b>AD</b>R<b>E</b>ITAP<u>–</u>VVR<b>EA</b><a>–</a><u>––</u><b>V</b>AS<b>GVTA</b>V<b>FL</b>T<b>KAL</b>FD<b>LL</b><u>––</u>A<b>EEDPGC</b>FT<b>GL</b>Q<b>EVW</b>T<b>G</b><u>––</u><b>GEA</b>ASP<b>A</b><u>––</u><b>AMS</b></div>
<div class="q" style="left:91.8px;top:446.21px"><b>S</b><u>–</u><b>FDA</b>ATY<b>E</b>V<u>–––</u><b>W</b>VP<b>LL</b>S<b>G</b>R<b>TL</b>TV<b>A</b>TGDLTTA<u>–</u>TIR<b>EA</b><a>–</a><u>––</u><b>V</b>AS<b>GVTA</b>V<b>FL</b>T<b>KAL</b>FD<b>LL</b><u>––</u>A<b>EEDPGC</b>FT<b>GL</b>Q<b>E</b>?<b>W</b>T<b>G</b><u>––</u><b>GEA</b>ASP<b>A</b><u>––</u><b>AMS</b></div>
<div class="q" style="left:91.8px;top:454.82px">N<u>–</u><b>FD</b>V<b>SV</b>F<b>E</b>L<u>–––</u>FGT<b>L</b>AA<b>G</b>G<b>TL</b>EI<b>A</b>HN<a>–––––</a><u>–</u>ILSLTDRP<b>V</b>WE<b>G</b>TLVSGV<b>P</b>S<b>A</b>FQA<b>L</b>V<u>–––</u><a>–</a>A<b>DP</b>TTRLDPKLLVLA<u>––</u><b>GEA</b>FPTT<u>––</u>LLD</div>
<div class="q" style="left:91.8px;top:463.43px">A<u>–</u><b>FD</b>V<b>SV</b>Q<b>EI</b><u>–––</u>F<b>T</b>T<b>L</b>C<b>TGA</b>E<b>LV</b>LI<b>DDEVR</b>H<b>D</b><u>–</u><b>AAA</b>V<b>A</b>EAVR<b>RHGV</b>ER<b>LF</b>M<b>P</b>CTP<b>LR</b>Y<b>L</b><u>–––</u>L<b>E</b>TRPEL<b>P</b>S<b>LREV</b>Y<b>S</b>A<u>––</u><b>GEALH</b>LT<u>–</u>P<b>A</b>FR</div>
<div class="q" style="left:91.8px;top:472.04px"><b>S</b><u>–</u><b>FDAS</b>LM<b>EI</b><u>–––</u><b>W</b>P<b>AL</b>TA<b>G</b>G<b>TLV</b>V<b>ADDE</b>T<b>R</b>R<b>D</b><u>–</u>PL<b>A</b>L<b>A</b>RWLTDRRI<b>T</b>FSIM<b>P</b>T<b>AL</b>GEE<b>L</b><u>––</u>LRLPAADQ<b>P</b>P<b>LR</b>HLLL<b>G</b><u>––</u><b>GE</b>T<b>LH</b><a>––</a><u>––</u><a>–––</a></div>
<div class="q" style="left:91.8px;top:480.65px"><b>S</b><u>–</u><b>F</b>LGR<b>V</b>RPDGDVVAGTAGRRRVRTVGRSD<b>R</b>GPG<b>A</b>GRG<b>A</b>V<u>––</u><a>–––</a><b>G</b>RAG<b>L</b>H<b>LP</b>QGHPEPYGAAGRARAGAA<b>G</b>V<b>R</b>RPGG<b>G</b>R<em>*</em><b>G</b>P<b>A</b>RRSGAALAA</div>
<div class="q" style="left:91.8px;top:489.26px"><b>S</b><u>–</u><b>FDA</b>AQW<b>E</b>V<u>–––</u><a>–</a>L<b>A</b>CAA<b>GA</b>RV<b>V</b>MSPPGSFR<b>D</b><u>–</u>PQ<b>A</b>IIDAIHTYS<b>VTAL</b>QGVPT<b>LLR</b>A<b>L</b>VDSG<b>E</b>LDT<b>C</b><a>–</a>ST<b>L</b>TRIF<b>SG</b><u>––</u><b>GEAL</b>TR<b>A</b><u>––</u>LAQ</div>
<div class="q" style="left:91.8px;top:497.87px"><b>S</b><u>–</u><b>FDA</b>A<b>V</b>SDV<u>–––</u>VV<b>AL</b>SS<b>GA</b>C<b>L</b>IV<b>A</b>GA<b>E</b>ELLP<u>–</u>GTGL<b>A</b>QVLA<b>RHGVT</b>HVT<b>LP</b>P<b>A</b>V<b>L</b>AE<b>L</b>S<u>––</u><a>–––</a><b>P</b>EDLASVTTLV<b>S</b>A<u>––</u><b>GEAL</b><a>–––</a><u>––</u>GGQ</div>
<div class="q" style="left:91.8px;top:506.48px">A<u>–</u><b>FD</b>LTITAL<u>–––</u><b>WT</b>P<b>L</b>TA<b>G</b>G<b>T</b>VHLTSL<b>E</b>E<a>–––</a><u>–</u><a>––</a><b>AE</b>VQ<u>––</u><a>––––</a>PSLIKATPSH<b>L</b>P<b>LL</b><u>–––</u>TNLAATASPSHTLIL<b>G</b><u>––</u><b>GEALH</b>TD<u>––</u>QLT</div>
<div class="q" style="left:91.8px;top:515.09px">A<u>–</u><b>FD</b>LTITAL<u>–––</u><b>WT</b>P<b>L</b>TA<b>G</b>G<b>T</b>VHLTSL<b>E</b>E<a>–––</a><u>–</u><a>––</a><b>AE</b>VQ<u>––</u><a>––––</a>PSLIKATPSH<b>L</b>P<b>LL</b><u>–––</u>TNLAATASPSHTLIL<b>G</b><u>––</u><b>GEALH</b>TD<u>––</u>QLT</div>
<div class="q" style="left:91.8px;top:523.7px">AHILGRTIQ<b>I</b>SCLLARIEI<b>G</b>HFPSIRP<b>DE</b>L<b>R</b>P<a>–</a><u>–</u><b>A</b>LKAFRPTFLV<b>GV</b>PY<b>LF</b>EKIHDTGPAT?</div>
<div class="n" style="left:107.45px;top:530.58px">190</div>
<div class="n" style="left:180.75px;top:530.58px">200</div>
<div class="n" style="left:254.06px;top:530.58px">210</div>
<div class="n" style="left:327.36px;top:530.58px">220</div>
<div class="n" style="left:400.66px;top:530.58px">230</div>
<div class="n" style="left:473.96px;top:530.58px">240</div>
<div class="n" style="left:547.25px;top:530.58px">250</div>
<div class="n" style="left:620.55px;top:530.58px">260</div>
<div class="n" style="left:693.85px;top:530.58px">270</div>
<div class="q c" style="left:91.8px;top:542.7px">RVQATHPGLTLVNVYGPTETTV<u>–</u><u>–</u>FA<u>–</u>TSHRL<u>–</u><u>–</u><u>–</u>DPDD<s>X</s>A<u>–</u><u>–</u><u>–</u><u>–</u><u>–</u>PVPIGTPVDNTRAYVL<u>–</u><u>–</u>DAGL<s>X</s>PVPPGVVGELY<s>X</s>GGAG<u>–</u>LARGYHG</div>
<div class="l" style="top:542.9px">Consensus</div>
<div class="l" style="top:552.4px">Identity</div>
<div class="l g" style="top:566.8px">1. A3</div>
<div class="l g" style="top:575.41px">2. A4</div>
<div class="l" style="top:584.02px">3. A5</div>
<div class="l" style="top:592.63px">4. A6</div>
<div class="l g" style="top:601.24px">5. A7</div>
<div class="l" style="top:609.85px">6. A23_A1</div>
<div class="l" style="top:618.46px">7. A23_A13</div>
<div class="l" style="top:627.07px">8. A23_A18</div>
<div class="l" style="top:635.68px">9. A23_A19</div>
<div class="l" style="top:644.29px">10. A23_A2318</div>
<div class="l" style="top:652.9px">11. A23_A2319</div>
<div class="l" style="top:661.51px">12. A23_A2334</div>
<div class="l" style="top:670.12px">13. A23_A2335</div>
<div class="l" style="top:678.73px">14. A23_A236</div>
<div class="l" style="top:687.34px">15. A23_A239</div>
<div class="l" style="top:695.95px">16. A23_A29</div>
<div class="l" style="top:704.56px">17. A23_A30</div>
<div class="l" style="top:713.17px">18. A23_A37</div>
<div class="l" style="top:721.78px">19. A23_A45</div>
<div class="l" style="top:730.39px">20. B1_B112</div>
<div class="l" style="top:739px">21. B1_B113</div>
<div class="l" style="top:747.61px">22. B1_B117</div>
<div class="l" style="top:756.22px">23. B1_B118</div>
<div class="l" style="top:764.83px">24. SC_S27</div>
<div class="l" style="top:773.44px">25. SC_S3</div>
<div class="l g" style="top:782.05px">26. SC_SC32</div>
<div class="q" style="left:179.76px;top:584.02px"><b>N</b>X<b>YGPTE</b></div>
<div class="q" style="left:648.88px;top:592.63px"><b>GEL</b>XLX<b>G</b>X<b>G</b>V<b>LARGY</b>L</div>
<div class="q" style="left:91.8px;top:609.85px">T<b>VQAT</b>N<b>P</b>D<b>LTLV</b>H<b>VYGPTETT</b>T<u>––</u><b>FA</b><u>–</u>ICGP<b>L</b><u>–––</u>SSA<b>D</b>T<b>A</b>HS<u>–––</u><b>PVP</b>L<b>G</b>L<b>P</b>M<b>DNT</b>Q<b>AYVL</b><u>––</u><b>DA</b>S<b>L</b>A<b>PVP</b>V<b>GV</b>P<b>GELY</b>L<b>GG</b>T<b>G</b><u>–</u><b>LARGY</b>D<b>G</b></div>
<div class="q" style="left:91.8px;top:618.46px">T<b>VQAT</b>N<b>P</b>D<b>LTLV</b>H<b>VYGPTETT</b>T<u>––</u><b>FA</b><u>–</u>ICGP<b>L</b><u>–––</u>S<b>P</b>A<b>D</b>T<b>A</b>HS<u>–––</u><b>PVP</b>L<b>G</b>L<b>P</b>M<b>DNT</b>Q<b>AYVL</b><u>––</u><b>DA</b>S<b>L</b>A<b>PVP</b>V<b>GV</b>P<b>GELY</b>L<b>GG</b>T<b>G</b><u>–</u><b>LARGY</b>D<b>G</b></div>
<div class="q" style="left:91.8px;top:627.07px">T<b>VQAT</b>N<b>P</b>D<b>LTLV</b>H<b>VYGPTETT</b>T<u>––</u><b>FA</b><u>–</u>ICGP<b>L</b><u>–––</u>S<b>P</b>A<b>D</b>T<b>A</b>HS<u>–––</u><b>PVP</b>L<b>G</b>L<b>P</b>M<b>DNT</b>Q<b>AYVL</b><u>––</u><b>DA</b>S<b>L</b>A<b>PVP</b>V<b>GV</b>P<b>GELY</b>L<b>GG</b>T<b>G</b><u>–</u><b>LARGY</b>D<b>G</b></div>
<div class="q" style="left:91.8px;top:635.68px"><b>R</b>FL<b>A</b>A<b>HPG</b>CA<b>L</b>Y<b>N</b>Q<b>YGPTET</b>S<b>V</b><u>––</u>IV<u>–</u><b>TSHR</b>V<u>–––</u><b>DPD</b>GG<b>A</b><u>–––––</u>WP<b>P</b>V<b>GTPV</b>PGA<b>R</b><a>–</a>II<b>L</b>RDH<b>AG</b>R<a>–</a>E<b>V</b>L<b>PG</b>A<b>VGE</b>IHV<b>GGA</b>P<u>–</u>V<b>A</b>Y<b>GYH</b>D</div>
<div class="q" style="left:91.8px;top:644.29px"><b>R</b>L<a>–</a><b>A</b>S<b>HP</b>R?PVC?N??<b>P</b>R?KPL<u>–</u>VIV<u>–</u><b>TSHR</b>G<u>–––</u>G<b>P</b>GTAGA<u>––––</u>WATGSARRCRA<b>R</b>GSSWRDH<b>AG</b>?GRSC<b>PG</b>RS<b>GE</b>IHV<b>GGA</b>P<u>–</u>GW<b>R</b>TATT</div>
<div class="q" style="left:91.8px;top:652.9px"><b>R</b>FL<b>A</b>A<b>HPG</b>CA<b>L</b>Y<b>N</b>Q<b>YGPTET</b>S<b>V</b><u>––</u>IV<u>–</u><b>TSHR</b>V<u>–––</u><b>DPD</b>GG<b>A</b><u>–––––</u>WP<b>P</b>V<b>GTPV</b>PGA<b>R</b><a>–</a>II<b>L</b>RDH<b>AG</b>R<a>–</a>E<b>V</b>L<b>PG</b>A<b>VGE</b>IHV<b>GGA</b>P<u>–</u>V<b>A</b>Y<b>GYH</b>D</div>
<div class="q" style="left:91.8px;top:661.51px"><b>R</b>FL<b>A</b>A<b>HPG</b>CA<b>L</b>Y<b>N</b>Q<b>YGPTET</b>S<b>V</b><u>––</u>IV<u>–</u><b>TSHR</b>V<u>–––</u><b>DPD</b>GG<b>A</b><u>–––––</u>WP<b>P</b>V<b>GTPV</b>PGA<b>R</b><a>–</a>II<b>L</b>RDH<b>AG</b>R<a>–</a>E<b>V</b>L<b>PG</b>A<b>VGE</b>IHV<b>GGA</b>P<u>–</u>V<b>A</b>Y<b>GYH</b>D</div>
<div class="q" style="left:91.8px;top:670.12px"><b>R</b>FL<b>A</b>A<b>HPG</b>CA<b>L</b>Y<b>N</b>Q<b>YGPTET</b>S<b>V</b><u>––</u>IV<u>–</u><b>TSHR</b>V<u>–––</u><b>DPD</b>GG<b>A</b><u>–––––</u>WP<b>P</b>V<b>GTPV</b>PGA<b>R</b><a>–</a>II<b>L</b>RDH<b>AG</b>R<a>–</a>E<b>V</b>L<b>PG</b>A<b>VGE</b>IHV<b>GGA</b>P<u>–</u>V<b>A</b>Y<b>GYH</b>D</div>
<div class="q" style="left:91.8px;top:678.73px">VRAGLG<b>PG</b>TLVA<b>N</b>A<b>YGPTE</b>C<b>TV</b><u>––</u><b>FA</b><u>–</u><b>T</b>AW<b>R</b>C<u>–––</u><b>DP</b>GAEGD<u>––––</u><a>–</a>P<b>PIGTPVD</b>G<b>TR</b>CH<b>VL</b><u>––</u><b>D</b>P<b>GL</b>R<b>PVPPG</b>T<b>VGELY</b>VA<b>G</b>D?<u>–</u><b>L</b>G<b>R</b>?<b>Y</b><a>–</a>A</div>
<div class="q" style="left:91.8px;top:687.34px">T<b>VQAT</b>N<b>P</b>D<b>LTLV</b>H<b>VYGPTETT</b>T<u>––</u><b>FA</b><u>–</u>ICGP<b>L</b><u>–––</u>S<b>P</b>A<b>D</b>T<b>A</b>HS<u>–––</u><b>PVP</b>L<b>G</b>L<b>P</b>M<b>DNT</b>Q<b>AYVL</b><u>––</u><b>DA</b>S<b>L</b>A<b>PVP</b>V<b>GV</b>P<b>GELY</b>L<b>GG</b>T<b>G</b><u>–</u><b>LARGY</b>D<b>G</b></div>
<div class="q" style="left:91.8px;top:695.95px">T<b>VQAT</b>N<b>P</b>D<b>LTLV</b>H<b>VYGPTETT</b>T<u>––</u><b>FA</b><u>–</u>ICGP<b>L</b><u>–––</u>S<b>P</b>A<b>D</b>T<b>A</b>HS<u>–––</u><b>PVP</b>L<b>G</b>L<b>P</b>M<b>DNT</b>Q<b>AYVL</b><u>––</u><b>DA</b>S<b>L</b>A<b>PVP</b>V<b>GV</b>P<b>GELY</b>L<b>GG</b>T<b>G</b><u>–</u><b>LARGY</b>D<b>G</b></div>
<div class="q" style="left:91.8px;top:704.56px">T<b>VQAT</b>?<b>P</b>D<b>LTLVN</b>G<b>YGPTETT</b>T<u>––</u><b>FA</b><u>–</u>V<b>S</b>GP<b>L</b><u>–––</u>TAE<b>D</b>V<b>A</b>SG<u>–––</u><b>P</b>A<b>P</b>L<b>GTP</b>M<b>DN</b>NYT<b>Y</b>I<b>L</b><u>––</u><b>D</b>GA<b>L</b>R<b>PVP</b>V<b>GV</b>P<b>GELY</b>L<b>GG</b>S<b>G</b><u>–</u>V<b>ARGYH</b>D</div>
<div class="q" style="left:91.8px;top:713.17px">QTRRAL<b>P</b>RT<b>T</b>VA<b>N</b>I<b>YGPTE</b>A<b>TV</b><u>–</u>YATGWFSHE<u>–––</u>N<b>P</b>EPG<b>A</b>A<u>––––</u>T<b>VPIG</b>RALAGKS<b>AYVL</b><u>––</u><b>DA</b>T<b>L</b>N<b>PVP</b>D<b>G</b>AW<b>GELY</b>LA<b>G</b>S<a>–</a><u>–</u><b>LARGYHG</b></div>
<div class="q" style="left:91.8px;top:721.78px"><b>R</b>FL<b>A</b>A<b>HPG</b>CA<b>L</b>Y<b>N</b>Q<b>YGPTET</b>S<b>V</b><u>––</u>IV<u>–</u><b>TSHR</b>V<u>–––</u><b>DPD</b>GG<b>A</b><u>–––––</u>WP<b>P</b>V<b>GTPV</b>PGA<b>R</b><a>–</a>II<b>L</b>RDH<b>AG</b>R<a>–</a>E<b>V</b>L<b>PG</b>A<b>VGE</b>IHV<b>GGA</b>P<u>–</u>V<b>A</b>Y<b>GYH</b>D</div>
<div class="q" style="left:91.8px;top:730.39px"><b>R</b>RPRPEALYETL<b>NVYGPTE</b>A<b>TV</b>LCVVD<b>T</b>VLP<b>L</b><u>–––</u>AESAV<b>A</b>VDEADAA<b>PIG</b>R<b>PVDN</b>VTVR<b>V</b>V<u>––</u><b>DA</b>SDK<b>PVP</b>I<b>G</b>A<b>VGEL</b>LV<b>GG</b>P<b>G</b><u>–</u>I<b>A</b>Q<b>GY</b>LH</div>
<div class="q" style="left:91.8px;top:739px"><b>R</b>QPRC<b>H</b>G<b>G</b>QRVRTDR<b>G</b>D<a>––</a>RG<b>V</b>HHVLHQ<b>S</b>G<b>RL</b>PVRRRHRRWFRGHRG?<b>PIGTPV</b>A<b>NTR</b>V<b>YVL</b><u>––</u><b>DA</b>A<b>L</b>R<b>PVP</b>V<b>GV</b>T<b>GELY</b>VA<b>G</b>EQ<u>–</u><b>LARGY</b>L<b>G</b></div>
<div class="q" style="left:91.8px;top:747.61px">ELFR<b>T</b>L<b>PG</b>VS<b>LVN</b>L<b>YGPTE</b>A<b>T</b><a>–</a><u>––</u>INA<b>TS</b>LHV<u>–––</u>S<b>PD</b>TLDDEDLHIL<b>PIG</b>R<b>P</b>A<b>D</b>GVTCHI<b>L</b><u>––</u><b>D</b>GD<b>L</b>R<b>P</b>TGT<b>G</b>RS<b>GEL</b>FI<b>GG</b>VQ<u>–</u><b>LARGY</b>A<b>G</b></div>
<div class="q" style="left:91.8px;top:756.22px">LTERWA<b>PG</b>RR<b>L</b>I<b>N</b>A<b>YGPTETTV</b>C<u>–</u><a>–</a><b>A</b>TM<b>S</b>RP<b>L</b><u>–––</u>AGG<b>D</b>T<a>–</a><u>–––––</u><a>–</a>PD<b>IG</b>G<b>P</b>LPGV<b>RA</b>F<b>VL</b><u>––</u><b>D</b>G<b>GL</b>A<b>PVP</b>A<b>GVVG</b>D<b>LY</b>VA<b>G</b>PN<u>–</u><b>LARGY</b>V<b>G</b></div>
<div class="q" style="left:91.8px;top:764.83px">DWRTQ<b>HPG</b>AQII<b>N</b>A<b>YGPTE</b>S<b>TV</b><u>––</u><a>–</a>NI<b>T</b>D<b>HRL</b><u>–––</u><b>D</b>GTEEG<u>–––––</u><b>PVPIG</b>R<b>P</b>FA<b>NT</b>QV<b>YVL</b><u>––</u><b>D</b>SA<b>L</b>R<b>PV</b>A<b>PG</b>TT<b>GELY</b>LA<b>G</b>EQ<u>–</u><b>LARGY</b>L<b>G</b></div>
<div class="q" style="left:91.8px;top:773.44px">DWRTQ<b>HPG</b>AQII<b>N</b>A<b>YGPTE</b>S<b>TV</b><u>––</u><a>–</a>NI<b>T</b>D<b>HRL</b><u>–––</u><b>D</b>GTEEG<u>–––––</u><b>PVPIG</b>R<b>P</b>FA<b>NT</b>QV<b>YVL</b><u>––</u><b>D</b>SA<b>L</b>R<b>PV</b>A<b>PG</b>TT<b>GELY</b>LA<b>G</b>EQ<u>–</u><b>LARGY</b>L<b>G</b></div>
<div class="n" style="left:85.47px;top:787.98px">280</div>
<div class="n" style="left:158.76px;top:787.98px">290</div>
<div class="n" style="left:232.06px;top:787.98px">300</div>
<div class="n" style="left:305.37px;top:787.98px">310</div>
<div class="n" style="left:378.67px;top:787.98px">320</div>
<div class="n" style="left:451.97px;top:787.98px">330</div>
<div class="n" style="left:525.26px;top:787.98px">340</div>
<div class="n" style="left:598.56px;top:787.98px">350</div>
<div class="n" style="left:671.87px;top:787.98px">360</div>
<div class="n" style="left:752.5px;top:787.98px">371</div>
<div class="q c" style="left:91.8px;top:800.1px">RPALTAERFVPDPY<u>–</u><u>–</u><s>X</s>PGARLYR<u>–</u>TGDVP<u>–</u><u>–</u><u>–</u><u>–</u>EFQHTGGRE<i>*</i>WIRARYQA<i>*</i>CIA<i>*</i>VSNAH<s>X</s><s>X</s><s>X</s><s>X</s>L<s>X</s><s>X</s><s>X</s><s>X</s><s>X</s><s>X</s><s>X</s><s>X</s><s>X</s>T<s>X</s><s>X</s><s>X</s>SLLPLDL<i>*</i>RKMR</div>
<div class="l" style="top:800.3px">Consensus</div>
<div class="l" style="top:809.8px">Identity</div>
<div class="l g" style="top:824.2px">1. A3</div>
<div class="l g" style="top:832.81px">2. A4</div>
<div class="l g" style="top:841.42px">3. A5</div>
<div class="l g" style="top:850.03px">4. A6</div>
<div class="l" style="top:858.64px">5. A7</div>
<div class="l" style="top:867.25px">6. A23_A1</div>
<div class="l" style="top:875.86px">7. A23_A13</div>
<div class="l" style="top:884.47px">8. A23_A18</div>
<div class="l" style="top:893.08px">9. A23_A19</div>
<div class="l" style="top:901.69px">10. A23_A2318</div>
<div class="l" style="top:910.3px">11. A23_A2319</div>
<div class="l" style="top:918.91px">12. A23_A2334</div>
<div class="l" style="top:927.52px">13. A23_A2335</div>
<div class="l" style="top:936.13px">14. A23_A236</div>
<div class="l" style="top:944.74px">15. A23_A239</div>
<div class="l" style="top:953.35px">16. A23_A29</div>
<div class="l" style="top:961.96px">17. A23_A30</div>
<div class="l" style="top:970.57px">18. A23_A37</div>
<div class="l" style="top:979.18px">19. A23_A45</div>
<div class="l" style="top:987.79px">20. B1_B112</div>
<div class="l" style="top:996.4px">21. B1_B113</div>
<div class="l" style="top:1005.01px">22. B1_B117</div>
<div class="l" style="top:1013.62px">23. B1_B118</div>
<div class="l" style="top:1022.23px">24. SC_S27</div>
<div class="l" style="top:1030.84px">25. SC_S3</div>
<div class="l g" style="top:1039.45px">26. SC_SC32</div>
<div class="q" style="left:253.06px;top:858.64px"><b>YR</b>K<b>TGD</b>L</div>
<div class="q" style="left:91.8px;top:867.25px">Q<b>PALTA</b>T<b>RFVPDPY</b><u>––</u>H<b>PGARLYR</b><u>–</u><b>TGD</b></div>
<div class="q" style="left:91.8px;top:875.86px">Q<b>PALTA</b>T<b>R</b>EI<b>PDP</b>H<u>––</u>H<b>PGARLYR</b><u>–</u><b>TG</b>A<em>*</em>?<u>–</u>?QISITLAAA<b>R</b>ACI<em>*</em><b>RA</b>?SP</div>
<div class="q" style="left:91.8px;top:884.47px">Q<b>PALTA</b>T<b>RFVPDPY</b><u>––</u>H<b>PGARLYR</b><u>–</u><b>TGDV</b>LNSSTLAAV<b>T</b>S<b>G</b>S<b>E</b>LGTKLDA<em>*</em>LEYLT?TNG?</div>
<div class="q" style="left:91.8px;top:893.08px"><b>R</b>V<b>A</b>E<b>TA</b>DA<b>F</b>LT<b>D</b>G<a>–</a><u>––</u><a>–</a>S<b>G</b>SV<b>LYR</b><u>–</u><b>TGD</b><a>––</a><u>–––</u>P<b>EFQHTGGR</b>Y<b><i>*</i>WIRARYQA<i>*</i>CIA</b>EYLT?TK</div>
<div class="q" style="left:91.8px;top:901.69px">TGLA?DG<b>R</b>RL<b>P</b>H<a>––</a><u>––</u><a>––</a><b>G</b>RLGF<b>R</b><u>–</u>AVP<a>––</a><u>––</u>HR<em>*</em>LDQHT<b>GR</b>RTIGFELVP<b>A<i>*</i>C</b>?<b>A</b>E?LRG<b>H</b>VVAT<em>*</em>SCS<em>*</em>LITGC<b>T</b>L</div>
<div class="q" style="left:91.8px;top:910.3px"><b>R</b>V<b>A</b>E<b>TA</b>DA<b>F</b>LT<b>D</b>G<a>–</a><u>––</u><a>–</a>S<b>G</b>SV<b>LYR</b><u>–</u><b>TGD</b></div>
<div class="q" style="left:91.8px;top:918.91px"><b>R</b>V<b>A</b>E<b>TA</b>DA<b>F</b>LT<b>D</b>G<a>–</a><u>––</u><a>–</a>S<b>G</b>SV<b>LYR</b><u>–</u><b>TGDVP</b><u>––––</u><b>EFQHTGGR</b>Y<b><i>*</i>WIRARYQA<i>*</i>CIA</b>EYLT?T???</div>
<div class="q" style="left:91.8px;top:927.52px"><b>R</b>V<b>A</b>E<b>TA</b>DA<b>F</b><a>–––</a><b>P</b>H<u>––</u><a>––</a><b>G</b>RLGF<b>R</b><u>–</u>?CTA<b>P</b>ATSESAEYHH??ALEHAS<b>R</b>GPSP?VSRITSLASFTR<b>L</b>TGKPAY?LS?MRH<b>SLLPLDL<i>*</i>RKMR</b></div>
<div class="q" style="left:91.8px;top:936.13px"><b>R</b>?GPDRP?TASC<b>P</b>IPSRST<b>A</b>A?C?<u>–</u>A??T???S??L?AV?SDPK?GTE?SP??F????<em>*</em>PCVNRFL??V?QGCSHE<em>*</em>VFP</div>
<div class="q" style="left:91.8px;top:944.74px">Q<b>PALTA</b>T<b>RFVPDPY</b><u>––</u>H<b>PGARLYR</b><u>–</u><b>TGDV</b>LNSSTLAA??S<b>G</b>S<b>E</b>LGTKLDA<em>*</em>LE??T??P??</div>
<div class="q" style="left:91.8px;top:953.35px">Q<b>PALTA</b>T<b>RFVPDPY</b><u>––</u>H<b>PGARLYR</b><u>–</u><b>TGD</b>LLN<u>–</u>SADIH<b>HTGGR</b>SSMHLEGPF<b>A</b>PIVSR</div>
<div class="q" style="left:91.8px;top:961.96px">Q<b>P</b>R<b>LTAERF</b>I<b>PDP</b>H<u>––</u>H<b>PG</b>G<b>RLYR</b><u>–</u><b>TGD</b>L<b>P</b><u>––––</u><b>EFQHTGGR</b>?<b><i>*</i>WIRARYQA<i>*</i>CIA<i>*</i>VSNAH</b>L??</div>
<div class="q" style="left:91.8px;top:970.57px">Q<b>P</b>H<b>LT</b>S<b>ERFV</b>AH<b>PY</b><u>––</u>A<b>PGARLYR</b><u>–</u><b>TGDVP</b><u>––––</u><b>EFQHTGG</b>??<b><i>*</i>WIRARYQA<i>*</i>CIA<i>*</i>V</b>?<b>N</b></div>
<div class="q" style="left:91.8px;top:979.18px"><b>R</b>V<b>A</b>E<b>TA</b>DA<b>F</b>LT<b>D</b>G<a>–</a><u>––</u><a>–</a>S<b>G</b>SV<b>LYR</b><u>–</u><b>TGDVP</b><u>––––</u><b>EFQHT</b>????<b><i>*</i>WIRARYQA<i>*</i>CIA<i>*</i>VS</b>KR?????</div>
<div class="q" style="left:91.8px;top:987.79px"><b>RP</b>D<b>LT</b>D<b>ERF</b>TSL<b>P</b>E<u>–</u>GVGET<b>R</b>C<b>YR</b><u>–</u><b>TGDVP</b>EFCRYPS<b>H</b>WRPL<b>E</b>HAS?GPNS</div>
<div class="q" style="left:91.8px;top:996.4px"><b>RP</b>G<b>LTAERFV</b>AC<b>P</b>F<u>–</u>NAS<b>G</b>E<b>R</b>M<b>YR</b><u>–</u><b>TGDV</b><em>*</em>SAHCAY<em>*</em><em>*</em>SSSVQLMHSLSILT</div>
<div class="q" style="left:91.8px;top:1005.01px"><b>RP</b>EV<b>T</b>R<b>ERF</b>ITS<b>P</b>F<u>––</u>D<b>P</b>AE<b>RLYR</b><u>–</u><b>TGD</b></div>
<div class="q" style="left:91.8px;top:1013.62px"><b>R</b>AG<b>LTAERFV</b>AC<b>PY</b><u>–</u>AGA<b>G</b>D<b>R</b>M<b>YR</b><u>–</u><b>TGDV</b></div>
<div class="q" style="left:91.8px;top:1022.23px"><b>RPALTAERF</b>TAN<b>P</b>HSSV<b>PGAR</b>M<b>YR</b><u>–</u><b>TGDVP</b><u>––––</u><b>EFQHTGGR</b>?<b><i>*</i>WIRARYQA<i>*</i>CIA<i>*</i>VSNAH</b>???</div>
<div class="q" style="left:91.8px;top:1030.84px"><b>RPALTAERF</b>TAN<b>P</b>HSSV<b>PGAR</b>M<b>YR</b><u>–</u><b>TGDVP</b><u>––––</u><b>EFQHTGGR</b>?<b><i>*</i>WIRARYQA<i>*</i>CIA<i>*</i>VSNAH</b>???</div>
</div>
</body></html>
